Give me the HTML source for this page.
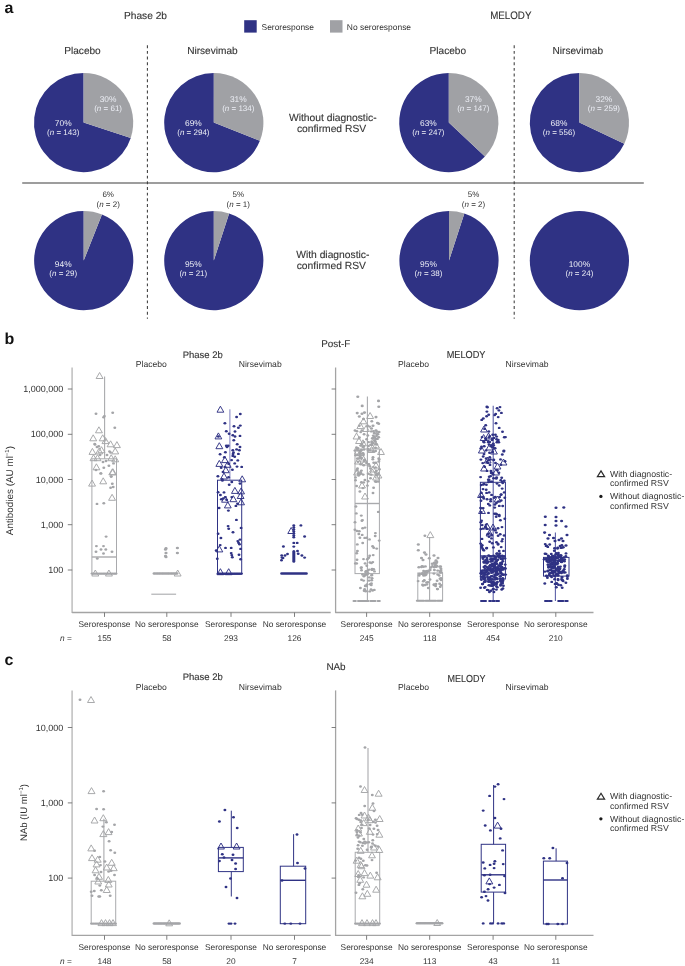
<!DOCTYPE html>
<html><head><meta charset="utf-8"><style>
html,body{margin:0;padding:0;background:#fff;}
svg{display:block;will-change:transform;text-rendering:geometricPrecision;font-family:"Liberation Sans",sans-serif;}
text.t{stroke:#333333;stroke-width:0.12px;paint-order:stroke;}
</style></head><body>
<svg width="685" height="966" viewBox="0 0 685 966">
<rect width="685" height="966" fill="#fff"/>
<text x="4.40" y="12.60" font-size="16" text-anchor="start" fill="#111" font-weight="bold">a</text>
<text class="t" x="145.50" y="19.30" font-size="10.2" text-anchor="middle" fill="#333333" >Phase 2b</text>
<text class="t" x="510.80" y="19.10" font-size="10.9" text-anchor="middle" fill="#333333" textLength="41.3" lengthAdjust="spacingAndGlyphs">MELODY</text>
<rect x="244.2" y="20.2" width="12.5" height="12.4" fill="#2f3284"/>
<text x="261.50" y="29.60" font-size="8.45" text-anchor="start" fill="#333333" >Seroresponse</text>
<rect x="330.0" y="20.2" width="12.5" height="12.4" fill="#a0a1a5"/>
<text x="346.80" y="29.60" font-size="8.45" text-anchor="start" fill="#333333" >No seroresponse</text>
<text class="t" x="82.50" y="53.60" font-size="10.1" text-anchor="middle" fill="#333333" >Placebo</text>
<text class="t" x="212.40" y="53.60" font-size="10.1" text-anchor="middle" fill="#333333" >Nirsevimab</text>
<text class="t" x="447.80" y="53.60" font-size="10.1" text-anchor="middle" fill="#333333" >Placebo</text>
<text class="t" x="577.80" y="53.60" font-size="10.1" text-anchor="middle" fill="#333333" >Nirsevimab</text>
<line x1="22.2" y1="183" x2="643.8" y2="183" stroke="#7d7d7d" stroke-width="1.6"/>
<line x1="147.4" y1="45.25" x2="147.4" y2="318.7" stroke="#3c3c3c" stroke-width="1.05" stroke-dasharray="2.9 2.77"/>
<line x1="514.2" y1="45.25" x2="514.2" y2="318.7" stroke="#3c3c3c" stroke-width="1.05" stroke-dasharray="2.9 2.77"/>
<text class="t" x="332.80" y="121.00" font-size="10.3" text-anchor="middle" fill="#333333" >Without diagnostic-</text>
<text class="t" x="331.50" y="131.70" font-size="10.3" text-anchor="middle" fill="#333333" >confirmed RSV</text>
<text class="t" x="332.80" y="258.40" font-size="10.3" text-anchor="middle" fill="#333333" >With diagnostic-</text>
<text class="t" x="331.30" y="269.40" font-size="10.3" text-anchor="middle" fill="#333333" >confirmed RSV</text>
<path d="M83.6,122.6 L130.77,137.93 A49.6,49.6 0 1 1 83.60,73.00 Z" fill="#2f3284"/>
<path d="M83.6,122.6 L83.60,73.00 A49.6,49.6 0 0 1 130.77,137.93 Z" fill="#a0a1a5"/>
<text x="108.10" y="102.10" font-size="8.4" text-anchor="middle" fill="#eceef5" >30%</text>
<text x="108.10" y="111.10" font-size="8.0" text-anchor="middle" fill="#eceef5">(<tspan font-style="italic">n</tspan> = 61)</text>
<text x="63.20" y="125.70" font-size="8.4" text-anchor="middle" fill="#eceef5" >70%</text>
<text x="63.20" y="135.00" font-size="8.0" text-anchor="middle" fill="#eceef5">(<tspan font-style="italic">n</tspan> = 143)</text>
<path d="M213.8,122.6 L259.92,140.86 A49.6,49.6 0 1 1 213.80,73.00 Z" fill="#2f3284"/>
<path d="M213.8,122.6 L213.80,73.00 A49.6,49.6 0 0 1 259.92,140.86 Z" fill="#a0a1a5"/>
<text x="238.30" y="102.10" font-size="8.4" text-anchor="middle" fill="#eceef5" >31%</text>
<text x="238.30" y="111.10" font-size="8.0" text-anchor="middle" fill="#eceef5">(<tspan font-style="italic">n</tspan> = 134)</text>
<text x="193.40" y="125.70" font-size="8.4" text-anchor="middle" fill="#eceef5" >69%</text>
<text x="193.40" y="135.00" font-size="8.0" text-anchor="middle" fill="#eceef5">(<tspan font-style="italic">n</tspan> = 294)</text>
<path d="M448.8,122.6 L484.96,156.55 A49.6,49.6 0 1 1 448.80,73.00 Z" fill="#2f3284"/>
<path d="M448.8,122.6 L448.80,73.00 A49.6,49.6 0 0 1 484.96,156.55 Z" fill="#a0a1a5"/>
<text x="473.30" y="102.10" font-size="8.4" text-anchor="middle" fill="#eceef5" >37%</text>
<text x="473.30" y="111.10" font-size="8.0" text-anchor="middle" fill="#eceef5">(<tspan font-style="italic">n</tspan> = 147)</text>
<text x="428.40" y="125.70" font-size="8.4" text-anchor="middle" fill="#eceef5" >63%</text>
<text x="428.40" y="135.00" font-size="8.0" text-anchor="middle" fill="#eceef5">(<tspan font-style="italic">n</tspan> = 247)</text>
<path d="M579.4,122.6 L624.28,143.72 A49.6,49.6 0 1 1 579.40,73.00 Z" fill="#2f3284"/>
<path d="M579.4,122.6 L579.40,73.00 A49.6,49.6 0 0 1 624.28,143.72 Z" fill="#a0a1a5"/>
<text x="603.90" y="102.10" font-size="8.4" text-anchor="middle" fill="#eceef5" >32%</text>
<text x="603.90" y="111.10" font-size="8.0" text-anchor="middle" fill="#eceef5">(<tspan font-style="italic">n</tspan> = 259)</text>
<text x="559.00" y="125.70" font-size="8.4" text-anchor="middle" fill="#eceef5" >68%</text>
<text x="559.00" y="135.00" font-size="8.0" text-anchor="middle" fill="#eceef5">(<tspan font-style="italic">n</tspan> = 556)</text>
<path d="M83.7,260.6 L101.96,214.48 A49.6,49.6 0 1 1 83.70,211.00 Z" fill="#2f3284"/>
<path d="M83.7,260.6 L83.70,211.00 A49.6,49.6 0 0 1 101.96,214.48 Z" fill="#a0a1a5"/>
<text x="108.20" y="197.00" font-size="8.0" text-anchor="middle" fill="#333333" >6%</text>
<text x="108.20" y="206.60" font-size="8.0" text-anchor="middle" fill="#333333">(<tspan font-style="italic">n</tspan> = 2)</text>
<text x="63.20" y="266.90" font-size="8.4" text-anchor="middle" fill="#eceef5" >94%</text>
<text x="63.20" y="276.00" font-size="8.0" text-anchor="middle" fill="#eceef5">(<tspan font-style="italic">n</tspan> = 29)</text>
<path d="M213.8,260.6 L229.13,213.43 A49.6,49.6 0 1 1 213.80,211.00 Z" fill="#2f3284"/>
<path d="M213.8,260.6 L213.80,211.00 A49.6,49.6 0 0 1 229.13,213.43 Z" fill="#a0a1a5"/>
<text x="238.30" y="197.00" font-size="8.0" text-anchor="middle" fill="#333333" >5%</text>
<text x="238.30" y="206.60" font-size="8.0" text-anchor="middle" fill="#333333">(<tspan font-style="italic">n</tspan> = 1)</text>
<text x="193.30" y="266.90" font-size="8.4" text-anchor="middle" fill="#eceef5" >95%</text>
<text x="193.30" y="276.00" font-size="8.0" text-anchor="middle" fill="#eceef5">(<tspan font-style="italic">n</tspan> = 21)</text>
<path d="M449.0,260.6 L464.33,213.43 A49.6,49.6 0 1 1 449.00,211.00 Z" fill="#2f3284"/>
<path d="M449.0,260.6 L449.00,211.00 A49.6,49.6 0 0 1 464.33,213.43 Z" fill="#a0a1a5"/>
<text x="473.50" y="197.00" font-size="8.0" text-anchor="middle" fill="#333333" >5%</text>
<text x="473.50" y="206.60" font-size="8.0" text-anchor="middle" fill="#333333">(<tspan font-style="italic">n</tspan> = 2)</text>
<text x="428.50" y="266.90" font-size="8.4" text-anchor="middle" fill="#eceef5" >95%</text>
<text x="428.50" y="276.00" font-size="8.0" text-anchor="middle" fill="#eceef5">(<tspan font-style="italic">n</tspan> = 38)</text>
<circle cx="579.4" cy="260.6" r="49.6" fill="#2f3284"/>
<text x="579.40" y="266.90" font-size="8.4" text-anchor="middle" fill="#eceef5" >100%</text>
<text x="579.40" y="276.00" font-size="8.0" text-anchor="middle" fill="#eceef5">(<tspan font-style="italic">n</tspan> = 24)</text>
<text x="4.40" y="343.70" font-size="16" text-anchor="start" fill="#111" font-weight="bold">b</text>
<text class="t" x="335.80" y="347.10" font-size="9.9" text-anchor="middle" fill="#333333" >Post-F</text>
<text class="t" x="202.80" y="358.30" font-size="9.5" text-anchor="middle" fill="#333333" >Phase 2b</text>
<text class="t" x="466.10" y="357.80" font-size="10.2" text-anchor="middle" fill="#333333" textLength="38.8" lengthAdjust="spacingAndGlyphs">MELODY</text>
<text x="151.30" y="367.40" font-size="8.6" text-anchor="middle" fill="#333333" >Placebo</text>
<text x="260.20" y="367.40" font-size="8.6" text-anchor="middle" fill="#333333" >Nirsevimab</text>
<text x="413.60" y="367.40" font-size="8.6" text-anchor="middle" fill="#333333" >Placebo</text>
<text x="527.10" y="367.40" font-size="8.6" text-anchor="middle" fill="#333333" >Nirsevimab</text>
<line x1="72.10" y1="367.50" x2="72.10" y2="613.10" stroke="#c6c6c6" stroke-width="1.7" />
<line x1="72.10" y1="612.50" x2="330.70" y2="612.50" stroke="#a4a4a4" stroke-width="1.3" />
<line x1="335.60" y1="367.50" x2="335.60" y2="613.10" stroke="#a4a4a4" stroke-width="1.3" />
<line x1="335.60" y1="612.50" x2="593.50" y2="612.50" stroke="#a4a4a4" stroke-width="1.3" />
<line x1="67.80" y1="389.00" x2="72.20" y2="389.00" stroke="#707070" stroke-width="0.9" />
<line x1="331.60" y1="389.00" x2="335.80" y2="389.00" stroke="#707070" stroke-width="0.9" />
<text x="63.30" y="392.10" font-size="9.0" text-anchor="end" fill="#333333" >1,000,000</text>
<line x1="67.80" y1="434.30" x2="72.20" y2="434.30" stroke="#707070" stroke-width="0.9" />
<line x1="331.60" y1="434.30" x2="335.80" y2="434.30" stroke="#707070" stroke-width="0.9" />
<text x="63.30" y="437.40" font-size="9.0" text-anchor="end" fill="#333333" >100,000</text>
<line x1="67.80" y1="479.50" x2="72.20" y2="479.50" stroke="#707070" stroke-width="0.9" />
<line x1="331.60" y1="479.50" x2="335.80" y2="479.50" stroke="#707070" stroke-width="0.9" />
<text x="63.30" y="482.60" font-size="9.0" text-anchor="end" fill="#333333" >10,000</text>
<line x1="67.80" y1="524.70" x2="72.20" y2="524.70" stroke="#707070" stroke-width="0.9" />
<line x1="331.60" y1="524.70" x2="335.80" y2="524.70" stroke="#707070" stroke-width="0.9" />
<text x="63.30" y="527.80" font-size="9.0" text-anchor="end" fill="#333333" >1,000</text>
<line x1="67.80" y1="570.00" x2="72.20" y2="570.00" stroke="#707070" stroke-width="0.9" />
<line x1="331.60" y1="570.00" x2="335.80" y2="570.00" stroke="#707070" stroke-width="0.9" />
<text x="63.30" y="573.10" font-size="9.0" text-anchor="end" fill="#333333" >100</text>
<line x1="104.50" y1="612.50" x2="104.50" y2="616.90" stroke="#707070" stroke-width="0.9" />
<line x1="166.80" y1="612.50" x2="166.80" y2="616.90" stroke="#707070" stroke-width="0.9" />
<line x1="231.00" y1="612.50" x2="231.00" y2="616.90" stroke="#707070" stroke-width="0.9" />
<line x1="294.50" y1="612.50" x2="294.50" y2="616.90" stroke="#707070" stroke-width="0.9" />
<line x1="366.60" y1="612.50" x2="366.60" y2="616.90" stroke="#707070" stroke-width="0.9" />
<line x1="429.70" y1="612.50" x2="429.70" y2="616.90" stroke="#707070" stroke-width="0.9" />
<line x1="493.10" y1="612.50" x2="493.10" y2="616.90" stroke="#707070" stroke-width="0.9" />
<line x1="555.80" y1="612.50" x2="555.80" y2="616.90" stroke="#707070" stroke-width="0.9" />
<text x="104.50" y="627.10" font-size="8.35" text-anchor="middle" fill="#333333" >Seroresponse</text>
<text x="166.80" y="627.10" font-size="8.35" text-anchor="middle" fill="#333333" >No seroresponse</text>
<text x="231.00" y="627.10" font-size="8.35" text-anchor="middle" fill="#333333" >Seroresponse</text>
<text x="294.50" y="627.10" font-size="8.35" text-anchor="middle" fill="#333333" >No seroresponse</text>
<text x="366.60" y="627.10" font-size="8.35" text-anchor="middle" fill="#333333" >Seroresponse</text>
<text x="429.70" y="627.10" font-size="8.35" text-anchor="middle" fill="#333333" >No seroresponse</text>
<text x="493.10" y="627.10" font-size="8.35" text-anchor="middle" fill="#333333" >Seroresponse</text>
<text x="555.80" y="627.10" font-size="8.35" text-anchor="middle" fill="#333333" >No seroresponse</text>
<text x="60.1" y="640.80" font-size="8.3" fill="#333333"><tspan font-style="italic">n</tspan> =</text>
<text x="104.50" y="640.60" font-size="8.35" text-anchor="middle" fill="#333333" >155</text>
<text x="166.80" y="640.60" font-size="8.35" text-anchor="middle" fill="#333333" >58</text>
<text x="231.00" y="640.60" font-size="8.35" text-anchor="middle" fill="#333333" >293</text>
<text x="294.50" y="640.60" font-size="8.35" text-anchor="middle" fill="#333333" >126</text>
<text x="366.60" y="640.60" font-size="8.35" text-anchor="middle" fill="#333333" >245</text>
<text x="429.70" y="640.60" font-size="8.35" text-anchor="middle" fill="#333333" >118</text>
<text x="493.10" y="640.60" font-size="8.35" text-anchor="middle" fill="#333333" >454</text>
<text x="555.80" y="640.60" font-size="8.35" text-anchor="middle" fill="#333333" >210</text>
<text transform="translate(12.9,535.2) rotate(-90)" font-size="9.9" fill="#333333">Antibodies (AU ml<tspan dy="-4" font-size="6">−1</tspan><tspan dy="4">)</tspan></text>
<path d="M601.0,470.9 L604.6,476.7 L597.4,476.7 Z" fill="none" stroke="#2a2a2a" stroke-width="1.2" stroke-linejoin="miter"/>
<text x="609.90" y="477.00" font-size="8.75" text-anchor="start" fill="#333333" >With diagnostic-</text>
<text x="609.90" y="486.30" font-size="8.75" text-anchor="start" fill="#333333" >confirmed RSV</text>
<circle cx="600.9" cy="496.4" r="1.65" fill="#1a1a1a"/>
<text x="609.90" y="499.20" font-size="8.75" text-anchor="start" fill="#333333" >Without diagnostic-</text>
<text x="609.90" y="508.50" font-size="8.75" text-anchor="start" fill="#333333" >confirmed RSV</text>
<rect x="91.90" y="458.80" width="24.60" height="115.00" fill="none" stroke="#a9aaad" stroke-width="1.0"/>
<line x1="91.90" y1="557.00" x2="116.50" y2="557.00" stroke="#a9aaad" stroke-width="1.4" />
<line x1="104.60" y1="376.50" x2="104.60" y2="458.80" stroke="#a9aaad" stroke-width="1.1" />
<path d="M99.6,372.5 L103.0,378.5 L96.1,378.5 Z" fill="none" stroke="#a4a5a8" stroke-width="0.95" stroke-linejoin="miter"/>
<path d="M98.9,426.8 L102.4,432.8 L95.5,432.8 Z" fill="none" stroke="#a4a5a8" stroke-width="0.95" stroke-linejoin="miter"/>
<path d="M93.2,434.8 L96.7,440.8 L89.8,440.8 Z" fill="none" stroke="#a4a5a8" stroke-width="0.95" stroke-linejoin="miter"/>
<path d="M102.7,434.8 L106.2,440.8 L99.2,440.8 Z" fill="none" stroke="#a4a5a8" stroke-width="0.95" stroke-linejoin="miter"/>
<path d="M105.5,437.6 L109.0,443.6 L102.0,443.6 Z" fill="none" stroke="#a4a5a8" stroke-width="0.95" stroke-linejoin="miter"/>
<path d="M110.6,440.8 L114.0,446.8 L107.1,446.8 Z" fill="none" stroke="#a4a5a8" stroke-width="0.95" stroke-linejoin="miter"/>
<path d="M116.9,441.6 L120.4,447.6 L113.5,447.6 Z" fill="none" stroke="#a4a5a8" stroke-width="0.95" stroke-linejoin="miter"/>
<path d="M92.4,448.4 L95.9,454.4 L89.0,454.4 Z" fill="none" stroke="#a4a5a8" stroke-width="0.95" stroke-linejoin="miter"/>
<path d="M99.2,447.9 L102.7,453.9 L95.8,453.9 Z" fill="none" stroke="#a4a5a8" stroke-width="0.95" stroke-linejoin="miter"/>
<path d="M101.5,446.7 L105.0,452.7 L98.0,452.7 Z" fill="none" stroke="#a4a5a8" stroke-width="0.95" stroke-linejoin="miter"/>
<path d="M115.2,447.9 L118.7,453.9 L111.8,453.9 Z" fill="none" stroke="#a4a5a8" stroke-width="0.95" stroke-linejoin="miter"/>
<path d="M93.5,454.7 L97.0,460.7 L90.0,460.7 Z" fill="none" stroke="#a4a5a8" stroke-width="0.95" stroke-linejoin="miter"/>
<path d="M97.5,454.7 L101.0,460.7 L94.0,460.7 Z" fill="none" stroke="#a4a5a8" stroke-width="0.95" stroke-linejoin="miter"/>
<path d="M111.2,454.7 L114.7,460.7 L107.8,460.7 Z" fill="none" stroke="#a4a5a8" stroke-width="0.95" stroke-linejoin="miter"/>
<path d="M115.2,455.8 L118.7,461.8 L111.8,461.8 Z" fill="none" stroke="#a4a5a8" stroke-width="0.95" stroke-linejoin="miter"/>
<path d="M96.4,463.8 L99.9,469.8 L93.0,469.8 Z" fill="none" stroke="#a4a5a8" stroke-width="0.95" stroke-linejoin="miter"/>
<path d="M112.3,468.9 L115.8,474.9 L108.8,474.9 Z" fill="none" stroke="#a4a5a8" stroke-width="0.95" stroke-linejoin="miter"/>
<path d="M112.9,468.7 L116.4,474.7 L109.5,474.7 Z" fill="none" stroke="#a4a5a8" stroke-width="0.95" stroke-linejoin="miter"/>
<path d="M103.2,477.8 L106.7,483.8 L99.8,483.8 Z" fill="none" stroke="#a4a5a8" stroke-width="0.95" stroke-linejoin="miter"/>
<path d="M92.1,480.1 L95.5,486.1 L88.6,486.1 Z" fill="none" stroke="#a4a5a8" stroke-width="0.95" stroke-linejoin="miter"/>
<path d="M112.1,494.3 L115.5,500.3 L108.6,500.3 Z" fill="none" stroke="#a4a5a8" stroke-width="0.95" stroke-linejoin="miter"/>
<path d="M95.3,570.0 L98.8,576.0 L91.8,576.0 Z" fill="none" stroke="#a4a5a8" stroke-width="0.95" stroke-linejoin="miter"/>
<path d="M108.9,570.0 L112.4,576.0 L105.5,576.0 Z" fill="none" stroke="#a4a5a8" stroke-width="0.95" stroke-linejoin="miter"/>
<ellipse cx="96.0" cy="413.8" rx="1.45" ry="1.20" fill="#a4a5a8"/>
<ellipse cx="112.7" cy="412.7" rx="1.45" ry="1.20" fill="#a4a5a8"/>
<ellipse cx="104.4" cy="416.1" rx="1.45" ry="1.20" fill="#a4a5a8"/>
<ellipse cx="103.6" cy="417.2" rx="1.45" ry="1.20" fill="#a4a5a8"/>
<ellipse cx="114.8" cy="427.7" rx="1.45" ry="1.20" fill="#a4a5a8"/>
<ellipse cx="94.7" cy="444.0" rx="1.45" ry="1.20" fill="#a4a5a8"/>
<ellipse cx="98.7" cy="446.3" rx="1.45" ry="1.20" fill="#a4a5a8"/>
<ellipse cx="109.5" cy="451.4" rx="1.45" ry="1.20" fill="#a4a5a8"/>
<ellipse cx="110.5" cy="452.5" rx="1.45" ry="1.20" fill="#a4a5a8"/>
<ellipse cx="106.0" cy="461.0" rx="1.45" ry="1.20" fill="#a4a5a8"/>
<ellipse cx="108.9" cy="465.7" rx="1.45" ry="1.20" fill="#a4a5a8"/>
<ellipse cx="113.5" cy="463.4" rx="1.45" ry="1.20" fill="#a4a5a8"/>
<ellipse cx="103.8" cy="467.7" rx="1.45" ry="1.20" fill="#a4a5a8"/>
<ellipse cx="101.0" cy="473.4" rx="1.45" ry="1.20" fill="#a4a5a8"/>
<ellipse cx="111.2" cy="476.5" rx="1.45" ry="1.20" fill="#a4a5a8"/>
<ellipse cx="100.7" cy="473.4" rx="1.45" ry="1.20" fill="#a4a5a8"/>
<ellipse cx="111.2" cy="476.6" rx="1.45" ry="1.20" fill="#a4a5a8"/>
<ellipse cx="112.3" cy="483.7" rx="1.45" ry="1.20" fill="#a4a5a8"/>
<ellipse cx="110.6" cy="487.7" rx="1.45" ry="1.20" fill="#a4a5a8"/>
<ellipse cx="113.2" cy="487.0" rx="1.45" ry="1.20" fill="#a4a5a8"/>
<ellipse cx="97.0" cy="503.9" rx="1.45" ry="1.20" fill="#a4a5a8"/>
<ellipse cx="103.8" cy="503.3" rx="1.45" ry="1.20" fill="#a4a5a8"/>
<ellipse cx="106.1" cy="536.6" rx="1.45" ry="1.20" fill="#a4a5a8"/>
<ellipse cx="96.4" cy="546.1" rx="1.45" ry="1.20" fill="#a4a5a8"/>
<ellipse cx="103.5" cy="546.1" rx="1.45" ry="1.20" fill="#a4a5a8"/>
<ellipse cx="101.0" cy="549.5" rx="1.45" ry="1.20" fill="#a4a5a8"/>
<ellipse cx="105.8" cy="549.5" rx="1.45" ry="1.20" fill="#a4a5a8"/>
<ellipse cx="96.0" cy="551.8" rx="1.45" ry="1.20" fill="#a4a5a8"/>
<ellipse cx="112.0" cy="551.8" rx="1.45" ry="1.20" fill="#a4a5a8"/>
<ellipse cx="103.5" cy="553.5" rx="1.45" ry="1.20" fill="#a4a5a8"/>
<ellipse cx="97.3" cy="558.5" rx="1.45" ry="1.20" fill="#a4a5a8"/>
<ellipse cx="95.0" cy="444.5" rx="1.45" ry="1.20" fill="#a4a5a8"/>
<ellipse cx="97.0" cy="447.0" rx="1.45" ry="1.20" fill="#a4a5a8"/>
<ellipse cx="100.0" cy="455.0" rx="1.45" ry="1.20" fill="#a4a5a8"/>
<ellipse cx="107.0" cy="455.0" rx="1.45" ry="1.20" fill="#a4a5a8"/>
<ellipse cx="103.0" cy="462.0" rx="1.45" ry="1.20" fill="#a4a5a8"/>
<ellipse cx="96.0" cy="470.0" rx="1.45" ry="1.20" fill="#a4a5a8"/>
<ellipse cx="92.0" cy="573.6" rx="1.45" ry="1.20" fill="#a4a5a8"/>
<ellipse cx="93.8" cy="573.6" rx="1.45" ry="1.20" fill="#a4a5a8"/>
<ellipse cx="95.7" cy="573.6" rx="1.45" ry="1.20" fill="#a4a5a8"/>
<ellipse cx="97.5" cy="573.6" rx="1.45" ry="1.20" fill="#a4a5a8"/>
<ellipse cx="99.4" cy="573.6" rx="1.45" ry="1.20" fill="#a4a5a8"/>
<ellipse cx="101.2" cy="573.6" rx="1.45" ry="1.20" fill="#a4a5a8"/>
<ellipse cx="103.1" cy="573.6" rx="1.45" ry="1.20" fill="#a4a5a8"/>
<ellipse cx="104.9" cy="573.6" rx="1.45" ry="1.20" fill="#a4a5a8"/>
<ellipse cx="106.8" cy="573.6" rx="1.45" ry="1.20" fill="#a4a5a8"/>
<ellipse cx="108.6" cy="573.6" rx="1.45" ry="1.20" fill="#a4a5a8"/>
<ellipse cx="110.5" cy="573.6" rx="1.45" ry="1.20" fill="#a4a5a8"/>
<ellipse cx="112.3" cy="573.6" rx="1.45" ry="1.20" fill="#a4a5a8"/>
<ellipse cx="114.2" cy="573.6" rx="1.45" ry="1.20" fill="#a4a5a8"/>
<ellipse cx="116.0" cy="573.6" rx="1.45" ry="1.20" fill="#a4a5a8"/>
<ellipse cx="154.0" cy="573.5" rx="1.45" ry="1.20" fill="#a4a5a8"/>
<ellipse cx="155.5" cy="573.5" rx="1.45" ry="1.20" fill="#a4a5a8"/>
<ellipse cx="157.1" cy="573.5" rx="1.45" ry="1.20" fill="#a4a5a8"/>
<ellipse cx="158.6" cy="573.5" rx="1.45" ry="1.20" fill="#a4a5a8"/>
<ellipse cx="160.1" cy="573.5" rx="1.45" ry="1.20" fill="#a4a5a8"/>
<ellipse cx="161.7" cy="573.5" rx="1.45" ry="1.20" fill="#a4a5a8"/>
<ellipse cx="163.2" cy="573.5" rx="1.45" ry="1.20" fill="#a4a5a8"/>
<ellipse cx="164.7" cy="573.5" rx="1.45" ry="1.20" fill="#a4a5a8"/>
<ellipse cx="166.3" cy="573.5" rx="1.45" ry="1.20" fill="#a4a5a8"/>
<ellipse cx="167.8" cy="573.5" rx="1.45" ry="1.20" fill="#a4a5a8"/>
<ellipse cx="169.3" cy="573.5" rx="1.45" ry="1.20" fill="#a4a5a8"/>
<ellipse cx="170.9" cy="573.5" rx="1.45" ry="1.20" fill="#a4a5a8"/>
<ellipse cx="172.4" cy="573.5" rx="1.45" ry="1.20" fill="#a4a5a8"/>
<ellipse cx="173.9" cy="573.5" rx="1.45" ry="1.20" fill="#a4a5a8"/>
<ellipse cx="175.5" cy="573.5" rx="1.45" ry="1.20" fill="#a4a5a8"/>
<ellipse cx="177.0" cy="573.5" rx="1.45" ry="1.20" fill="#a4a5a8"/>
<line x1="151.30" y1="594.20" x2="176.10" y2="594.20" stroke="#a9aaad" stroke-width="1.1" />
<ellipse cx="166.0" cy="548.4" rx="1.62" ry="1.34" fill="#a4a5a8"/>
<ellipse cx="166.0" cy="553.0" rx="1.62" ry="1.34" fill="#a4a5a8"/>
<ellipse cx="166.0" cy="557.0" rx="1.62" ry="1.34" fill="#a4a5a8"/>
<ellipse cx="177.4" cy="548.0" rx="1.62" ry="1.34" fill="#a4a5a8"/>
<ellipse cx="177.4" cy="553.0" rx="1.62" ry="1.34" fill="#a4a5a8"/>
<ellipse cx="165.5" cy="549.5" rx="1.62" ry="1.34" fill="#a4a5a8"/>
<ellipse cx="165.5" cy="556.0" rx="1.62" ry="1.34" fill="#a4a5a8"/>
<path d="M177.7,570.0 L181.1,576.0 L174.2,576.0 Z" fill="none" stroke="#a4a5a8" stroke-width="0.95" stroke-linejoin="miter"/>
<rect x="217.50" y="480.20" width="24.20" height="93.60" fill="none" stroke="#2f3284" stroke-width="1.0"/>
<line x1="229.90" y1="409.30" x2="229.90" y2="480.20" stroke="#7f81bf" stroke-width="1.0" />
<path d="M220.4,406.2 L223.8,412.2 L217.0,412.2 Z" fill="none" stroke="#2f3284" stroke-width="0.95" stroke-linejoin="miter"/>
<path d="M218.4,432.9 L221.8,438.9 L215.0,438.9 Z" fill="none" stroke="#2f3284" stroke-width="0.95" stroke-linejoin="miter"/>
<path d="M219.3,442.7 L222.8,448.7 L215.9,448.7 Z" fill="none" stroke="#2f3284" stroke-width="0.95" stroke-linejoin="miter"/>
<path d="M224.9,456.6 L228.3,462.6 L221.5,462.6 Z" fill="none" stroke="#2f3284" stroke-width="0.95" stroke-linejoin="miter"/>
<path d="M219.3,460.4 L222.8,466.4 L215.9,466.4 Z" fill="none" stroke="#2f3284" stroke-width="0.95" stroke-linejoin="miter"/>
<path d="M227.7,461.3 L231.1,467.3 L224.2,467.3 Z" fill="none" stroke="#2f3284" stroke-width="0.95" stroke-linejoin="miter"/>
<path d="M225.8,466.7 L229.2,472.7 L222.4,472.7 Z" fill="none" stroke="#2f3284" stroke-width="0.95" stroke-linejoin="miter"/>
<path d="M224.0,473.0 L227.4,479.0 L220.6,479.0 Z" fill="none" stroke="#2f3284" stroke-width="0.95" stroke-linejoin="miter"/>
<path d="M242.2,475.8 L245.6,481.8 L238.8,481.8 Z" fill="none" stroke="#2f3284" stroke-width="0.95" stroke-linejoin="miter"/>
<path d="M234.9,487.4 L238.3,493.4 L231.5,493.4 Z" fill="none" stroke="#2f3284" stroke-width="0.95" stroke-linejoin="miter"/>
<path d="M241.1,487.9 L244.5,493.9 L237.7,493.9 Z" fill="none" stroke="#2f3284" stroke-width="0.95" stroke-linejoin="miter"/>
<path d="M240.6,492.5 L244.0,498.5 L237.2,498.5 Z" fill="none" stroke="#2f3284" stroke-width="0.95" stroke-linejoin="miter"/>
<path d="M233.3,495.7 L236.8,501.7 L229.9,501.7 Z" fill="none" stroke="#2f3284" stroke-width="0.95" stroke-linejoin="miter"/>
<path d="M225.0,496.2 L228.4,502.2 L221.6,502.2 Z" fill="none" stroke="#2f3284" stroke-width="0.95" stroke-linejoin="miter"/>
<path d="M241.1,498.8 L244.5,504.8 L237.7,504.8 Z" fill="none" stroke="#2f3284" stroke-width="0.95" stroke-linejoin="miter"/>
<path d="M227.8,501.9 L231.2,507.9 L224.4,507.9 Z" fill="none" stroke="#2f3284" stroke-width="0.95" stroke-linejoin="miter"/>
<path d="M219.3,545.9 L222.8,551.9 L215.9,551.9 Z" fill="none" stroke="#2f3284" stroke-width="0.95" stroke-linejoin="miter"/>
<path d="M220.4,568.7 L223.8,574.7 L217.0,574.7 Z" fill="none" stroke="#2f3284" stroke-width="0.95" stroke-linejoin="miter"/>
<path d="M228.7,568.7 L232.1,574.7 L225.2,574.7 Z" fill="none" stroke="#2f3284" stroke-width="0.95" stroke-linejoin="miter"/>
<ellipse cx="240.3" cy="414.0" rx="1.45" ry="1.20" fill="#2f3284"/>
<ellipse cx="236.6" cy="417.0" rx="1.45" ry="1.20" fill="#2f3284"/>
<ellipse cx="224.9" cy="423.3" rx="1.45" ry="1.20" fill="#2f3284"/>
<ellipse cx="234.0" cy="426.3" rx="1.45" ry="1.20" fill="#2f3284"/>
<ellipse cx="240.3" cy="425.6" rx="1.45" ry="1.20" fill="#2f3284"/>
<ellipse cx="238.4" cy="427.8" rx="1.45" ry="1.20" fill="#2f3284"/>
<ellipse cx="226.3" cy="431.2" rx="1.45" ry="1.20" fill="#2f3284"/>
<ellipse cx="235.0" cy="431.5" rx="1.45" ry="1.20" fill="#2f3284"/>
<ellipse cx="229.1" cy="433.7" rx="1.45" ry="1.20" fill="#2f3284"/>
<ellipse cx="232.8" cy="435.2" rx="1.45" ry="1.20" fill="#2f3284"/>
<ellipse cx="235.0" cy="436.5" rx="1.45" ry="1.20" fill="#2f3284"/>
<ellipse cx="240.0" cy="435.9" rx="1.45" ry="1.20" fill="#2f3284"/>
<ellipse cx="233.8" cy="440.3" rx="1.45" ry="1.20" fill="#2f3284"/>
<ellipse cx="218.4" cy="436.5" rx="1.45" ry="1.20" fill="#2f3284"/>
<ellipse cx="237.2" cy="444.3" rx="1.45" ry="1.20" fill="#2f3284"/>
<ellipse cx="240.0" cy="447.0" rx="1.45" ry="1.20" fill="#2f3284"/>
<ellipse cx="226.3" cy="445.7" rx="1.45" ry="1.20" fill="#2f3284"/>
<ellipse cx="228.2" cy="445.7" rx="1.45" ry="1.20" fill="#2f3284"/>
<ellipse cx="232.8" cy="450.3" rx="1.45" ry="1.20" fill="#2f3284"/>
<ellipse cx="236.6" cy="449.4" rx="1.45" ry="1.20" fill="#2f3284"/>
<ellipse cx="239.4" cy="450.3" rx="1.45" ry="1.20" fill="#2f3284"/>
<ellipse cx="225.4" cy="452.2" rx="1.45" ry="1.20" fill="#2f3284"/>
<ellipse cx="220.1" cy="454.2" rx="1.45" ry="1.20" fill="#2f3284"/>
<ellipse cx="232.8" cy="455.9" rx="1.45" ry="1.20" fill="#2f3284"/>
<ellipse cx="234.7" cy="456.8" rx="1.45" ry="1.20" fill="#2f3284"/>
<ellipse cx="238.4" cy="453.9" rx="1.45" ry="1.20" fill="#2f3284"/>
<ellipse cx="224.4" cy="457.3" rx="1.45" ry="1.20" fill="#2f3284"/>
<ellipse cx="231.6" cy="460.1" rx="1.45" ry="1.20" fill="#2f3284"/>
<ellipse cx="237.8" cy="460.4" rx="1.45" ry="1.20" fill="#2f3284"/>
<ellipse cx="228.6" cy="463.8" rx="1.45" ry="1.20" fill="#2f3284"/>
<ellipse cx="234.7" cy="463.4" rx="1.45" ry="1.20" fill="#2f3284"/>
<ellipse cx="237.0" cy="466.6" rx="1.45" ry="1.20" fill="#2f3284"/>
<ellipse cx="241.7" cy="466.9" rx="1.45" ry="1.20" fill="#2f3284"/>
<ellipse cx="221.2" cy="467.8" rx="1.45" ry="1.20" fill="#2f3284"/>
<ellipse cx="224.9" cy="467.1" rx="1.45" ry="1.20" fill="#2f3284"/>
<ellipse cx="232.4" cy="469.7" rx="1.45" ry="1.20" fill="#2f3284"/>
<ellipse cx="223.0" cy="471.9" rx="1.45" ry="1.20" fill="#2f3284"/>
<ellipse cx="217.9" cy="476.2" rx="1.45" ry="1.20" fill="#2f3284"/>
<ellipse cx="228.6" cy="477.2" rx="1.45" ry="1.20" fill="#2f3284"/>
<ellipse cx="222.1" cy="479.2" rx="1.45" ry="1.20" fill="#2f3284"/>
<ellipse cx="233.5" cy="452.5" rx="1.45" ry="1.20" fill="#2f3284"/>
<ellipse cx="233.0" cy="454.0" rx="1.45" ry="1.20" fill="#2f3284"/>
<ellipse cx="227.0" cy="447.0" rx="1.45" ry="1.20" fill="#2f3284"/>
<ellipse cx="222.4" cy="480.5" rx="1.45" ry="1.20" fill="#2f3284"/>
<ellipse cx="231.8" cy="482.0" rx="1.45" ry="1.20" fill="#2f3284"/>
<ellipse cx="229.2" cy="484.7" rx="1.45" ry="1.20" fill="#2f3284"/>
<ellipse cx="240.0" cy="483.6" rx="1.45" ry="1.20" fill="#2f3284"/>
<ellipse cx="218.1" cy="492.2" rx="1.45" ry="1.20" fill="#2f3284"/>
<ellipse cx="224.0" cy="492.4" rx="1.45" ry="1.20" fill="#2f3284"/>
<ellipse cx="220.4" cy="495.0" rx="1.45" ry="1.20" fill="#2f3284"/>
<ellipse cx="221.4" cy="499.2" rx="1.45" ry="1.20" fill="#2f3284"/>
<ellipse cx="223.3" cy="498.4" rx="1.45" ry="1.20" fill="#2f3284"/>
<ellipse cx="225.5" cy="497.1" rx="1.45" ry="1.20" fill="#2f3284"/>
<ellipse cx="226.6" cy="499.7" rx="1.45" ry="1.20" fill="#2f3284"/>
<ellipse cx="231.8" cy="497.1" rx="1.45" ry="1.20" fill="#2f3284"/>
<ellipse cx="237.5" cy="503.8" rx="1.45" ry="1.20" fill="#2f3284"/>
<ellipse cx="235.9" cy="505.9" rx="1.45" ry="1.20" fill="#2f3284"/>
<ellipse cx="219.1" cy="508.0" rx="1.45" ry="1.20" fill="#2f3284"/>
<ellipse cx="228.4" cy="510.6" rx="1.45" ry="1.20" fill="#2f3284"/>
<ellipse cx="236.4" cy="519.9" rx="1.45" ry="1.20" fill="#2f3284"/>
<ellipse cx="228.1" cy="526.1" rx="1.45" ry="1.20" fill="#2f3284"/>
<ellipse cx="228.7" cy="528.7" rx="1.45" ry="1.20" fill="#2f3284"/>
<ellipse cx="241.1" cy="527.9" rx="1.45" ry="1.20" fill="#2f3284"/>
<ellipse cx="233.0" cy="532.3" rx="1.45" ry="1.20" fill="#2f3284"/>
<ellipse cx="218.1" cy="533.7" rx="1.45" ry="1.20" fill="#2f3284"/>
<ellipse cx="220.9" cy="538.0" rx="1.45" ry="1.20" fill="#2f3284"/>
<ellipse cx="237.8" cy="541.1" rx="1.45" ry="1.20" fill="#2f3284"/>
<ellipse cx="238.5" cy="542.7" rx="1.45" ry="1.20" fill="#2f3284"/>
<ellipse cx="240.0" cy="539.6" rx="1.45" ry="1.20" fill="#2f3284"/>
<ellipse cx="239.5" cy="544.2" rx="1.45" ry="1.20" fill="#2f3284"/>
<ellipse cx="220.2" cy="545.1" rx="1.45" ry="1.20" fill="#2f3284"/>
<ellipse cx="225.5" cy="547.9" rx="1.45" ry="1.20" fill="#2f3284"/>
<ellipse cx="231.2" cy="547.9" rx="1.45" ry="1.20" fill="#2f3284"/>
<ellipse cx="240.6" cy="548.9" rx="1.45" ry="1.20" fill="#2f3284"/>
<ellipse cx="231.2" cy="553.1" rx="1.45" ry="1.20" fill="#2f3284"/>
<ellipse cx="232.3" cy="557.2" rx="1.45" ry="1.20" fill="#2f3284"/>
<ellipse cx="231.8" cy="555.1" rx="1.45" ry="1.20" fill="#2f3284"/>
<ellipse cx="217.3" cy="558.8" rx="1.45" ry="1.20" fill="#2f3284"/>
<ellipse cx="239.0" cy="554.8" rx="1.45" ry="1.20" fill="#2f3284"/>
<ellipse cx="240.6" cy="559.3" rx="1.45" ry="1.20" fill="#2f3284"/>
<ellipse cx="216.2" cy="550.5" rx="1.45" ry="1.20" fill="#2f3284"/>
<ellipse cx="218.0" cy="573.6" rx="1.45" ry="1.20" fill="#2f3284"/>
<ellipse cx="219.8" cy="573.6" rx="1.45" ry="1.20" fill="#2f3284"/>
<ellipse cx="221.6" cy="573.6" rx="1.45" ry="1.20" fill="#2f3284"/>
<ellipse cx="223.4" cy="573.6" rx="1.45" ry="1.20" fill="#2f3284"/>
<ellipse cx="225.2" cy="573.6" rx="1.45" ry="1.20" fill="#2f3284"/>
<ellipse cx="227.0" cy="573.6" rx="1.45" ry="1.20" fill="#2f3284"/>
<ellipse cx="228.8" cy="573.6" rx="1.45" ry="1.20" fill="#2f3284"/>
<ellipse cx="230.7" cy="573.6" rx="1.45" ry="1.20" fill="#2f3284"/>
<ellipse cx="232.5" cy="573.6" rx="1.45" ry="1.20" fill="#2f3284"/>
<ellipse cx="234.3" cy="573.6" rx="1.45" ry="1.20" fill="#2f3284"/>
<ellipse cx="236.1" cy="573.6" rx="1.45" ry="1.20" fill="#2f3284"/>
<ellipse cx="237.9" cy="573.6" rx="1.45" ry="1.20" fill="#2f3284"/>
<ellipse cx="239.7" cy="573.6" rx="1.45" ry="1.20" fill="#2f3284"/>
<ellipse cx="241.5" cy="573.6" rx="1.45" ry="1.20" fill="#2f3284"/>
<line x1="217.50" y1="573.80" x2="241.70" y2="573.80" stroke="#2f3284" stroke-width="1.8" />
<ellipse cx="293.8" cy="525.5" rx="1.45" ry="1.20" fill="#2f3284"/>
<ellipse cx="293.8" cy="527.5" rx="1.45" ry="1.20" fill="#2f3284"/>
<ellipse cx="293.8" cy="529.5" rx="1.45" ry="1.20" fill="#2f3284"/>
<ellipse cx="293.8" cy="531.5" rx="1.45" ry="1.20" fill="#2f3284"/>
<ellipse cx="293.8" cy="533.5" rx="1.45" ry="1.20" fill="#2f3284"/>
<ellipse cx="293.8" cy="535.5" rx="1.45" ry="1.20" fill="#2f3284"/>
<ellipse cx="293.8" cy="537.2" rx="1.45" ry="1.20" fill="#2f3284"/>
<path d="M291.2,527.5 L294.6,533.5 L287.8,533.5 Z" fill="none" stroke="#2f3284" stroke-width="0.95" stroke-linejoin="miter"/>
<ellipse cx="300.9" cy="525.4" rx="1.45" ry="1.20" fill="#2f3284"/>
<ellipse cx="304.6" cy="536.5" rx="1.45" ry="1.20" fill="#2f3284"/>
<ellipse cx="293.8" cy="542.9" rx="1.45" ry="1.20" fill="#2f3284"/>
<ellipse cx="297.2" cy="542.9" rx="1.45" ry="1.20" fill="#2f3284"/>
<ellipse cx="293.8" cy="546.6" rx="1.45" ry="1.20" fill="#2f3284"/>
<ellipse cx="283.4" cy="546.5" rx="1.45" ry="1.20" fill="#2f3284"/>
<ellipse cx="297.5" cy="551.0" rx="1.45" ry="1.20" fill="#2f3284"/>
<ellipse cx="298.2" cy="553.7" rx="1.45" ry="1.20" fill="#2f3284"/>
<ellipse cx="301.9" cy="555.5" rx="1.45" ry="1.20" fill="#2f3284"/>
<ellipse cx="304.6" cy="557.6" rx="1.45" ry="1.20" fill="#2f3284"/>
<ellipse cx="281.7" cy="555.5" rx="1.45" ry="1.20" fill="#2f3284"/>
<ellipse cx="282.0" cy="557.6" rx="1.45" ry="1.20" fill="#2f3284"/>
<ellipse cx="285.0" cy="555.5" rx="1.45" ry="1.20" fill="#2f3284"/>
<ellipse cx="287.5" cy="554.0" rx="1.45" ry="1.20" fill="#2f3284"/>
<ellipse cx="281.5" cy="560.2" rx="1.45" ry="1.20" fill="#2f3284"/>
<ellipse cx="283.0" cy="558.0" rx="1.45" ry="1.20" fill="#2f3284"/>
<line x1="293.80" y1="551.50" x2="293.80" y2="561.20" stroke="#2f3284" stroke-width="3.0" stroke-linecap="round"/>
<line x1="281.50" y1="573.50" x2="306.50" y2="573.50" stroke="#2f3284" stroke-width="2.6" stroke-linecap="round"/>
<line x1="367.40" y1="396.50" x2="367.40" y2="601.00" stroke="#a9aaad" stroke-width="1.1" />
<rect x="355.00" y="449.00" width="24.40" height="124.60" fill="none" stroke="#a9aaad" stroke-width="1.0"/>
<line x1="355.00" y1="503.50" x2="379.40" y2="503.50" stroke="#a9aaad" stroke-width="1.4" />
<ellipse cx="357.8" cy="396.8" rx="1.57" ry="1.30" fill="#a4a5a8"/>
<ellipse cx="378.5" cy="400.9" rx="1.57" ry="1.30" fill="#a4a5a8"/>
<ellipse cx="362.2" cy="405.9" rx="1.57" ry="1.30" fill="#a4a5a8"/>
<ellipse cx="378.8" cy="406.7" rx="1.57" ry="1.30" fill="#a4a5a8"/>
<ellipse cx="357.2" cy="413.1" rx="1.57" ry="1.30" fill="#a4a5a8"/>
<ellipse cx="362.0" cy="413.8" rx="1.57" ry="1.30" fill="#a4a5a8"/>
<ellipse cx="364.5" cy="412.6" rx="1.57" ry="1.30" fill="#a4a5a8"/>
<ellipse cx="359.3" cy="416.5" rx="1.57" ry="1.30" fill="#a4a5a8"/>
<ellipse cx="376.0" cy="417.1" rx="1.57" ry="1.30" fill="#a4a5a8"/>
<ellipse cx="363.5" cy="419.0" rx="1.57" ry="1.30" fill="#a4a5a8"/>
<ellipse cx="377.5" cy="423.0" rx="1.57" ry="1.30" fill="#a4a5a8"/>
<ellipse cx="373.0" cy="425.8" rx="1.57" ry="1.30" fill="#a4a5a8"/>
<ellipse cx="371.5" cy="428.5" rx="1.57" ry="1.30" fill="#a4a5a8"/>
<ellipse cx="376.0" cy="430.5" rx="1.57" ry="1.30" fill="#a4a5a8"/>
<ellipse cx="379.0" cy="432.0" rx="1.57" ry="1.30" fill="#a4a5a8"/>
<ellipse cx="373.6" cy="431.1" rx="1.45" ry="1.20" fill="#a4a5a8"/>
<ellipse cx="374.4" cy="437.6" rx="1.45" ry="1.20" fill="#a4a5a8"/>
<ellipse cx="371.4" cy="431.4" rx="1.45" ry="1.20" fill="#a4a5a8"/>
<ellipse cx="374.5" cy="433.3" rx="1.45" ry="1.20" fill="#a4a5a8"/>
<ellipse cx="376.5" cy="436.0" rx="1.45" ry="1.20" fill="#a4a5a8"/>
<ellipse cx="377.9" cy="434.3" rx="1.45" ry="1.20" fill="#a4a5a8"/>
<ellipse cx="372.0" cy="442.2" rx="1.45" ry="1.20" fill="#a4a5a8"/>
<ellipse cx="373.3" cy="435.6" rx="1.45" ry="1.20" fill="#a4a5a8"/>
<ellipse cx="374.1" cy="433.1" rx="1.45" ry="1.20" fill="#a4a5a8"/>
<ellipse cx="375.8" cy="438.8" rx="1.45" ry="1.20" fill="#a4a5a8"/>
<ellipse cx="374.8" cy="440.5" rx="1.45" ry="1.20" fill="#a4a5a8"/>
<ellipse cx="373.5" cy="443.1" rx="1.45" ry="1.20" fill="#a4a5a8"/>
<ellipse cx="376.8" cy="431.8" rx="1.45" ry="1.20" fill="#a4a5a8"/>
<ellipse cx="374.4" cy="437.3" rx="1.45" ry="1.20" fill="#a4a5a8"/>
<ellipse cx="372.7" cy="438.6" rx="1.45" ry="1.20" fill="#a4a5a8"/>
<ellipse cx="377.4" cy="438.9" rx="1.45" ry="1.20" fill="#a4a5a8"/>
<ellipse cx="375.9" cy="444.2" rx="1.45" ry="1.20" fill="#a4a5a8"/>
<ellipse cx="374.5" cy="440.5" rx="1.45" ry="1.20" fill="#a4a5a8"/>
<ellipse cx="377.0" cy="434.3" rx="1.45" ry="1.20" fill="#a4a5a8"/>
<ellipse cx="373.9" cy="436.9" rx="1.45" ry="1.20" fill="#a4a5a8"/>
<ellipse cx="371.8" cy="441.5" rx="1.45" ry="1.20" fill="#a4a5a8"/>
<ellipse cx="372.2" cy="443.1" rx="1.45" ry="1.20" fill="#a4a5a8"/>
<ellipse cx="356.9" cy="431.2" rx="1.45" ry="1.20" fill="#a4a5a8"/>
<ellipse cx="368.6" cy="442.1" rx="1.45" ry="1.20" fill="#a4a5a8"/>
<ellipse cx="375.4" cy="441.6" rx="1.45" ry="1.20" fill="#a4a5a8"/>
<ellipse cx="361.9" cy="430.4" rx="1.45" ry="1.20" fill="#a4a5a8"/>
<ellipse cx="363.9" cy="442.1" rx="1.45" ry="1.20" fill="#a4a5a8"/>
<ellipse cx="378.8" cy="423.8" rx="1.45" ry="1.20" fill="#a4a5a8"/>
<ellipse cx="359.3" cy="425.8" rx="1.45" ry="1.20" fill="#a4a5a8"/>
<ellipse cx="360.7" cy="432.1" rx="1.45" ry="1.20" fill="#a4a5a8"/>
<ellipse cx="369.6" cy="426.6" rx="1.45" ry="1.20" fill="#a4a5a8"/>
<ellipse cx="355.0" cy="430.5" rx="1.45" ry="1.20" fill="#a4a5a8"/>
<ellipse cx="364.1" cy="434.2" rx="1.45" ry="1.20" fill="#a4a5a8"/>
<ellipse cx="378.7" cy="437.3" rx="1.45" ry="1.20" fill="#a4a5a8"/>
<ellipse cx="367.8" cy="435.4" rx="1.45" ry="1.20" fill="#a4a5a8"/>
<ellipse cx="371.8" cy="421.3" rx="1.45" ry="1.20" fill="#a4a5a8"/>
<ellipse cx="377.4" cy="473.9" rx="1.45" ry="1.20" fill="#a4a5a8"/>
<ellipse cx="376.8" cy="474.5" rx="1.45" ry="1.20" fill="#a4a5a8"/>
<ellipse cx="364.7" cy="459.8" rx="1.45" ry="1.20" fill="#a4a5a8"/>
<ellipse cx="357.5" cy="468.5" rx="1.45" ry="1.20" fill="#a4a5a8"/>
<ellipse cx="356.5" cy="447.5" rx="1.45" ry="1.20" fill="#a4a5a8"/>
<ellipse cx="360.1" cy="451.0" rx="1.45" ry="1.20" fill="#a4a5a8"/>
<ellipse cx="363.4" cy="446.9" rx="1.45" ry="1.20" fill="#a4a5a8"/>
<ellipse cx="354.9" cy="450.6" rx="1.45" ry="1.20" fill="#a4a5a8"/>
<ellipse cx="357.4" cy="458.5" rx="1.45" ry="1.20" fill="#a4a5a8"/>
<ellipse cx="355.5" cy="477.4" rx="1.45" ry="1.20" fill="#a4a5a8"/>
<ellipse cx="370.3" cy="450.5" rx="1.45" ry="1.20" fill="#a4a5a8"/>
<ellipse cx="361.2" cy="457.9" rx="1.45" ry="1.20" fill="#a4a5a8"/>
<ellipse cx="364.0" cy="449.5" rx="1.45" ry="1.20" fill="#a4a5a8"/>
<ellipse cx="376.1" cy="481.7" rx="1.45" ry="1.20" fill="#a4a5a8"/>
<ellipse cx="366.5" cy="462.9" rx="1.45" ry="1.20" fill="#a4a5a8"/>
<ellipse cx="357.0" cy="448.8" rx="1.45" ry="1.20" fill="#a4a5a8"/>
<ellipse cx="363.5" cy="454.8" rx="1.45" ry="1.20" fill="#a4a5a8"/>
<ellipse cx="375.6" cy="451.0" rx="1.45" ry="1.20" fill="#a4a5a8"/>
<ellipse cx="355.5" cy="480.2" rx="1.45" ry="1.20" fill="#a4a5a8"/>
<ellipse cx="368.1" cy="450.4" rx="1.45" ry="1.20" fill="#a4a5a8"/>
<ellipse cx="368.5" cy="446.0" rx="1.45" ry="1.20" fill="#a4a5a8"/>
<ellipse cx="368.1" cy="481.2" rx="1.45" ry="1.20" fill="#a4a5a8"/>
<ellipse cx="376.5" cy="470.8" rx="1.45" ry="1.20" fill="#a4a5a8"/>
<ellipse cx="361.4" cy="458.6" rx="1.45" ry="1.20" fill="#a4a5a8"/>
<ellipse cx="359.1" cy="473.6" rx="1.45" ry="1.20" fill="#a4a5a8"/>
<ellipse cx="368.2" cy="473.8" rx="1.45" ry="1.20" fill="#a4a5a8"/>
<ellipse cx="363.1" cy="453.3" rx="1.45" ry="1.20" fill="#a4a5a8"/>
<ellipse cx="375.2" cy="481.4" rx="1.45" ry="1.20" fill="#a4a5a8"/>
<ellipse cx="376.2" cy="474.8" rx="1.45" ry="1.20" fill="#a4a5a8"/>
<ellipse cx="375.4" cy="472.4" rx="1.45" ry="1.20" fill="#a4a5a8"/>
<ellipse cx="360.6" cy="464.2" rx="1.45" ry="1.20" fill="#a4a5a8"/>
<ellipse cx="363.8" cy="446.1" rx="1.45" ry="1.20" fill="#a4a5a8"/>
<ellipse cx="355.6" cy="455.3" rx="1.45" ry="1.20" fill="#a4a5a8"/>
<ellipse cx="361.4" cy="470.6" rx="1.45" ry="1.20" fill="#a4a5a8"/>
<ellipse cx="378.8" cy="461.5" rx="1.45" ry="1.20" fill="#a4a5a8"/>
<ellipse cx="378.3" cy="481.6" rx="1.45" ry="1.20" fill="#a4a5a8"/>
<ellipse cx="378.8" cy="458.5" rx="1.45" ry="1.20" fill="#a4a5a8"/>
<ellipse cx="360.4" cy="453.4" rx="1.45" ry="1.20" fill="#a4a5a8"/>
<ellipse cx="359.8" cy="452.6" rx="1.45" ry="1.20" fill="#a4a5a8"/>
<ellipse cx="370.5" cy="478.3" rx="1.45" ry="1.20" fill="#a4a5a8"/>
<ellipse cx="375.9" cy="462.7" rx="1.45" ry="1.20" fill="#a4a5a8"/>
<ellipse cx="371.2" cy="474.6" rx="1.45" ry="1.20" fill="#a4a5a8"/>
<ellipse cx="357.0" cy="469.4" rx="1.45" ry="1.20" fill="#a4a5a8"/>
<ellipse cx="377.6" cy="473.9" rx="1.45" ry="1.20" fill="#a4a5a8"/>
<ellipse cx="373.7" cy="462.7" rx="1.45" ry="1.20" fill="#a4a5a8"/>
<ellipse cx="359.4" cy="474.2" rx="1.45" ry="1.20" fill="#a4a5a8"/>
<ellipse cx="363.2" cy="474.6" rx="1.45" ry="1.20" fill="#a4a5a8"/>
<ellipse cx="379.2" cy="459.6" rx="1.45" ry="1.20" fill="#a4a5a8"/>
<ellipse cx="364.9" cy="480.0" rx="1.45" ry="1.20" fill="#a4a5a8"/>
<ellipse cx="373.0" cy="451.3" rx="1.45" ry="1.20" fill="#a4a5a8"/>
<ellipse cx="358.1" cy="450.6" rx="1.45" ry="1.20" fill="#a4a5a8"/>
<ellipse cx="377.5" cy="474.8" rx="1.45" ry="1.20" fill="#a4a5a8"/>
<ellipse cx="358.6" cy="475.6" rx="1.45" ry="1.20" fill="#a4a5a8"/>
<ellipse cx="379.4" cy="469.3" rx="1.45" ry="1.20" fill="#a4a5a8"/>
<ellipse cx="363.7" cy="465.3" rx="1.45" ry="1.20" fill="#a4a5a8"/>
<ellipse cx="360.3" cy="454.2" rx="1.45" ry="1.20" fill="#a4a5a8"/>
<ellipse cx="368.8" cy="464.2" rx="1.45" ry="1.20" fill="#a4a5a8"/>
<ellipse cx="372.4" cy="438.2" rx="1.45" ry="1.20" fill="#a4a5a8"/>
<ellipse cx="362.0" cy="443.9" rx="1.45" ry="1.20" fill="#a4a5a8"/>
<ellipse cx="360.9" cy="445.6" rx="1.45" ry="1.20" fill="#a4a5a8"/>
<ellipse cx="369.8" cy="466.3" rx="1.45" ry="1.20" fill="#a4a5a8"/>
<ellipse cx="367.6" cy="425.8" rx="1.45" ry="1.20" fill="#a4a5a8"/>
<ellipse cx="364.3" cy="461.0" rx="1.45" ry="1.20" fill="#a4a5a8"/>
<ellipse cx="361.6" cy="450.0" rx="1.45" ry="1.20" fill="#a4a5a8"/>
<ellipse cx="364.2" cy="460.3" rx="1.45" ry="1.20" fill="#a4a5a8"/>
<ellipse cx="359.4" cy="437.5" rx="1.45" ry="1.20" fill="#a4a5a8"/>
<ellipse cx="372.8" cy="459.2" rx="1.45" ry="1.20" fill="#a4a5a8"/>
<ellipse cx="375.5" cy="447.7" rx="1.45" ry="1.20" fill="#a4a5a8"/>
<ellipse cx="368.0" cy="449.0" rx="1.45" ry="1.20" fill="#a4a5a8"/>
<ellipse cx="368.5" cy="464.4" rx="1.45" ry="1.20" fill="#a4a5a8"/>
<ellipse cx="375.5" cy="467.4" rx="1.45" ry="1.20" fill="#a4a5a8"/>
<ellipse cx="372.1" cy="444.9" rx="1.45" ry="1.20" fill="#a4a5a8"/>
<ellipse cx="357.5" cy="455.1" rx="1.45" ry="1.20" fill="#a4a5a8"/>
<ellipse cx="373.0" cy="457.2" rx="1.45" ry="1.20" fill="#a4a5a8"/>
<ellipse cx="370.5" cy="468.5" rx="1.45" ry="1.20" fill="#a4a5a8"/>
<ellipse cx="362.9" cy="446.9" rx="1.45" ry="1.20" fill="#a4a5a8"/>
<ellipse cx="376.8" cy="444.4" rx="1.45" ry="1.20" fill="#a4a5a8"/>
<ellipse cx="366.6" cy="439.3" rx="1.45" ry="1.20" fill="#a4a5a8"/>
<ellipse cx="370.6" cy="444.8" rx="1.45" ry="1.20" fill="#a4a5a8"/>
<ellipse cx="358.0" cy="448.1" rx="1.45" ry="1.20" fill="#a4a5a8"/>
<ellipse cx="358.5" cy="474.4" rx="1.45" ry="1.20" fill="#a4a5a8"/>
<ellipse cx="357.0" cy="470.6" rx="1.45" ry="1.20" fill="#a4a5a8"/>
<ellipse cx="358.2" cy="473.2" rx="1.45" ry="1.20" fill="#a4a5a8"/>
<ellipse cx="361.1" cy="473.4" rx="1.45" ry="1.20" fill="#a4a5a8"/>
<ellipse cx="360.1" cy="456.2" rx="1.45" ry="1.20" fill="#a4a5a8"/>
<ellipse cx="360.5" cy="473.8" rx="1.45" ry="1.20" fill="#a4a5a8"/>
<ellipse cx="360.6" cy="472.1" rx="1.45" ry="1.20" fill="#a4a5a8"/>
<ellipse cx="358.0" cy="461.8" rx="1.45" ry="1.20" fill="#a4a5a8"/>
<ellipse cx="360.5" cy="457.6" rx="1.45" ry="1.20" fill="#a4a5a8"/>
<ellipse cx="359.4" cy="458.2" rx="1.45" ry="1.20" fill="#a4a5a8"/>
<ellipse cx="356.6" cy="486.0" rx="1.45" ry="1.20" fill="#a4a5a8"/>
<ellipse cx="362.9" cy="488.1" rx="1.45" ry="1.20" fill="#a4a5a8"/>
<ellipse cx="373.6" cy="487.8" rx="1.45" ry="1.20" fill="#a4a5a8"/>
<ellipse cx="367.4" cy="485.6" rx="1.45" ry="1.20" fill="#a4a5a8"/>
<ellipse cx="363.7" cy="482.4" rx="1.45" ry="1.20" fill="#a4a5a8"/>
<ellipse cx="361.4" cy="482.3" rx="1.45" ry="1.20" fill="#a4a5a8"/>
<ellipse cx="373.0" cy="493.0" rx="1.45" ry="1.20" fill="#a4a5a8"/>
<ellipse cx="359.9" cy="491.5" rx="1.45" ry="1.20" fill="#a4a5a8"/>
<ellipse cx="378.3" cy="511.9" rx="1.45" ry="1.20" fill="#a4a5a8"/>
<ellipse cx="375.4" cy="533.1" rx="1.45" ry="1.20" fill="#a4a5a8"/>
<ellipse cx="367.3" cy="559.2" rx="1.45" ry="1.20" fill="#a4a5a8"/>
<ellipse cx="364.7" cy="537.9" rx="1.45" ry="1.20" fill="#a4a5a8"/>
<ellipse cx="372.1" cy="568.9" rx="1.45" ry="1.20" fill="#a4a5a8"/>
<ellipse cx="363.5" cy="559.1" rx="1.45" ry="1.20" fill="#a4a5a8"/>
<ellipse cx="372.6" cy="546.3" rx="1.45" ry="1.20" fill="#a4a5a8"/>
<ellipse cx="365.0" cy="527.6" rx="1.45" ry="1.20" fill="#a4a5a8"/>
<ellipse cx="356.3" cy="513.4" rx="1.45" ry="1.20" fill="#a4a5a8"/>
<ellipse cx="356.7" cy="553.2" rx="1.45" ry="1.20" fill="#a4a5a8"/>
<ellipse cx="361.3" cy="515.6" rx="1.45" ry="1.20" fill="#a4a5a8"/>
<ellipse cx="357.0" cy="559.7" rx="1.45" ry="1.20" fill="#a4a5a8"/>
<ellipse cx="376.7" cy="548.6" rx="1.45" ry="1.20" fill="#a4a5a8"/>
<ellipse cx="361.9" cy="520.7" rx="1.45" ry="1.20" fill="#a4a5a8"/>
<ellipse cx="362.2" cy="534.9" rx="1.45" ry="1.20" fill="#a4a5a8"/>
<ellipse cx="358.8" cy="534.0" rx="1.45" ry="1.20" fill="#a4a5a8"/>
<ellipse cx="361.5" cy="567.5" rx="1.45" ry="1.20" fill="#a4a5a8"/>
<ellipse cx="379.2" cy="540.6" rx="1.45" ry="1.20" fill="#a4a5a8"/>
<ellipse cx="361.0" cy="567.8" rx="1.45" ry="1.20" fill="#a4a5a8"/>
<ellipse cx="362.6" cy="528.2" rx="1.45" ry="1.20" fill="#a4a5a8"/>
<ellipse cx="354.9" cy="529.8" rx="1.45" ry="1.20" fill="#a4a5a8"/>
<ellipse cx="366.8" cy="537.7" rx="1.45" ry="1.20" fill="#a4a5a8"/>
<ellipse cx="359.9" cy="537.8" rx="1.45" ry="1.20" fill="#a4a5a8"/>
<ellipse cx="355.0" cy="522.2" rx="1.45" ry="1.20" fill="#a4a5a8"/>
<ellipse cx="357.1" cy="531.0" rx="1.45" ry="1.20" fill="#a4a5a8"/>
<ellipse cx="355.9" cy="506.5" rx="1.45" ry="1.20" fill="#a4a5a8"/>
<ellipse cx="362.5" cy="520.1" rx="1.45" ry="1.20" fill="#a4a5a8"/>
<ellipse cx="369.5" cy="539.4" rx="1.45" ry="1.20" fill="#a4a5a8"/>
<ellipse cx="373.7" cy="547.7" rx="1.45" ry="1.20" fill="#a4a5a8"/>
<ellipse cx="372.8" cy="562.1" rx="1.45" ry="1.20" fill="#a4a5a8"/>
<ellipse cx="362.7" cy="543.0" rx="1.45" ry="1.20" fill="#a4a5a8"/>
<ellipse cx="375.2" cy="536.0" rx="1.45" ry="1.20" fill="#a4a5a8"/>
<ellipse cx="369.7" cy="555.7" rx="1.45" ry="1.20" fill="#a4a5a8"/>
<ellipse cx="355.4" cy="563.4" rx="1.45" ry="1.20" fill="#a4a5a8"/>
<ellipse cx="373.2" cy="555.1" rx="1.45" ry="1.20" fill="#a4a5a8"/>
<ellipse cx="369.9" cy="562.5" rx="1.45" ry="1.20" fill="#a4a5a8"/>
<ellipse cx="357.4" cy="551.0" rx="1.45" ry="1.20" fill="#a4a5a8"/>
<ellipse cx="365.1" cy="563.4" rx="1.45" ry="1.20" fill="#a4a5a8"/>
<ellipse cx="371.4" cy="563.1" rx="1.45" ry="1.20" fill="#a4a5a8"/>
<ellipse cx="366.8" cy="565.7" rx="1.45" ry="1.20" fill="#a4a5a8"/>
<ellipse cx="368.8" cy="557.7" rx="1.45" ry="1.20" fill="#a4a5a8"/>
<ellipse cx="359.3" cy="531.2" rx="1.45" ry="1.20" fill="#a4a5a8"/>
<ellipse cx="357.3" cy="544.4" rx="1.45" ry="1.20" fill="#a4a5a8"/>
<ellipse cx="356.7" cy="563.4" rx="1.45" ry="1.20" fill="#a4a5a8"/>
<ellipse cx="370.2" cy="584.3" rx="1.45" ry="1.20" fill="#a4a5a8"/>
<ellipse cx="366.6" cy="586.0" rx="1.45" ry="1.20" fill="#a4a5a8"/>
<ellipse cx="369.3" cy="569.6" rx="1.45" ry="1.20" fill="#a4a5a8"/>
<ellipse cx="365.6" cy="574.4" rx="1.45" ry="1.20" fill="#a4a5a8"/>
<ellipse cx="369.7" cy="591.4" rx="1.45" ry="1.20" fill="#a4a5a8"/>
<ellipse cx="367.0" cy="584.4" rx="1.45" ry="1.20" fill="#a4a5a8"/>
<ellipse cx="372.1" cy="569.9" rx="1.45" ry="1.20" fill="#a4a5a8"/>
<ellipse cx="364.9" cy="575.3" rx="1.45" ry="1.20" fill="#a4a5a8"/>
<ellipse cx="362.5" cy="574.5" rx="1.45" ry="1.20" fill="#a4a5a8"/>
<ellipse cx="371.9" cy="575.0" rx="1.45" ry="1.20" fill="#a4a5a8"/>
<ellipse cx="367.7" cy="570.8" rx="1.45" ry="1.20" fill="#a4a5a8"/>
<ellipse cx="372.6" cy="590.5" rx="1.45" ry="1.20" fill="#a4a5a8"/>
<ellipse cx="365.6" cy="591.2" rx="1.45" ry="1.20" fill="#a4a5a8"/>
<ellipse cx="364.1" cy="590.7" rx="1.45" ry="1.20" fill="#a4a5a8"/>
<ellipse cx="363.6" cy="580.6" rx="1.45" ry="1.20" fill="#a4a5a8"/>
<ellipse cx="371.7" cy="580.2" rx="1.45" ry="1.20" fill="#a4a5a8"/>
<ellipse cx="371.0" cy="589.5" rx="1.45" ry="1.20" fill="#a4a5a8"/>
<ellipse cx="361.5" cy="579.8" rx="1.45" ry="1.20" fill="#a4a5a8"/>
<ellipse cx="363.9" cy="576.3" rx="1.45" ry="1.20" fill="#a4a5a8"/>
<ellipse cx="365.3" cy="586.0" rx="1.45" ry="1.20" fill="#a4a5a8"/>
<ellipse cx="371.3" cy="585.1" rx="1.45" ry="1.20" fill="#a4a5a8"/>
<ellipse cx="369.3" cy="577.4" rx="1.45" ry="1.20" fill="#a4a5a8"/>
<ellipse cx="372.1" cy="578.3" rx="1.45" ry="1.20" fill="#a4a5a8"/>
<ellipse cx="360.4" cy="588.0" rx="1.45" ry="1.20" fill="#a4a5a8"/>
<ellipse cx="367.3" cy="574.4" rx="1.45" ry="1.20" fill="#a4a5a8"/>
<ellipse cx="365.2" cy="590.9" rx="1.45" ry="1.20" fill="#a4a5a8"/>
<ellipse cx="374.3" cy="589.9" rx="1.45" ry="1.20" fill="#a4a5a8"/>
<ellipse cx="373.7" cy="569.2" rx="1.45" ry="1.20" fill="#a4a5a8"/>
<ellipse cx="371.4" cy="583.5" rx="1.45" ry="1.20" fill="#a4a5a8"/>
<ellipse cx="366.0" cy="571.1" rx="1.45" ry="1.20" fill="#a4a5a8"/>
<ellipse cx="365.4" cy="585.7" rx="1.45" ry="1.20" fill="#a4a5a8"/>
<ellipse cx="371.6" cy="575.2" rx="1.45" ry="1.20" fill="#a4a5a8"/>
<ellipse cx="365.6" cy="571.9" rx="1.45" ry="1.20" fill="#a4a5a8"/>
<ellipse cx="368.1" cy="573.3" rx="1.45" ry="1.20" fill="#a4a5a8"/>
<ellipse cx="374.5" cy="571.4" rx="1.45" ry="1.20" fill="#a4a5a8"/>
<ellipse cx="361.5" cy="570.2" rx="1.45" ry="1.20" fill="#a4a5a8"/>
<ellipse cx="364.6" cy="589.3" rx="1.45" ry="1.20" fill="#a4a5a8"/>
<ellipse cx="369.1" cy="580.6" rx="1.45" ry="1.20" fill="#a4a5a8"/>
<path d="M370.1,412.5 L373.6,418.5 L366.7,418.5 Z" fill="none" stroke="#a4a5a8" stroke-width="0.95" stroke-linejoin="miter"/>
<path d="M363.5,417.8 L366.9,423.8 L360.1,423.8 Z" fill="none" stroke="#a4a5a8" stroke-width="0.95" stroke-linejoin="miter"/>
<path d="M360.3,422.6 L363.8,428.6 L356.9,428.6 Z" fill="none" stroke="#a4a5a8" stroke-width="0.95" stroke-linejoin="miter"/>
<path d="M366.0,425.5 L369.4,431.5 L362.6,431.5 Z" fill="none" stroke="#a4a5a8" stroke-width="0.95" stroke-linejoin="miter"/>
<path d="M356.5,433.0 L359.9,439.0 L353.1,439.0 Z" fill="none" stroke="#a4a5a8" stroke-width="0.95" stroke-linejoin="miter"/>
<path d="M359.0,437.5 L362.4,443.5 L355.6,443.5 Z" fill="none" stroke="#a4a5a8" stroke-width="0.95" stroke-linejoin="miter"/>
<path d="M363.0,439.8 L366.4,445.8 L359.6,445.8 Z" fill="none" stroke="#a4a5a8" stroke-width="0.95" stroke-linejoin="miter"/>
<path d="M376.0,442.0 L379.4,448.0 L372.6,448.0 Z" fill="none" stroke="#a4a5a8" stroke-width="0.95" stroke-linejoin="miter"/>
<path d="M358.0,448.0 L361.4,454.0 L354.6,454.0 Z" fill="none" stroke="#a4a5a8" stroke-width="0.95" stroke-linejoin="miter"/>
<path d="M360.5,449.5 L363.9,455.5 L357.1,455.5 Z" fill="none" stroke="#a4a5a8" stroke-width="0.95" stroke-linejoin="miter"/>
<path d="M371.5,446.5 L374.9,452.5 L368.1,452.5 Z" fill="none" stroke="#a4a5a8" stroke-width="0.95" stroke-linejoin="miter"/>
<path d="M381.0,448.5 L384.4,454.5 L377.6,454.5 Z" fill="none" stroke="#a4a5a8" stroke-width="0.95" stroke-linejoin="miter"/>
<path d="M363.5,456.0 L366.9,462.0 L360.1,462.0 Z" fill="none" stroke="#a4a5a8" stroke-width="0.95" stroke-linejoin="miter"/>
<path d="M358.0,458.0 L361.4,464.0 L354.6,464.0 Z" fill="none" stroke="#a4a5a8" stroke-width="0.95" stroke-linejoin="miter"/>
<path d="M365.0,459.0 L368.4,465.0 L361.6,465.0 Z" fill="none" stroke="#a4a5a8" stroke-width="0.95" stroke-linejoin="miter"/>
<path d="M376.0,462.0 L379.4,468.0 L372.6,468.0 Z" fill="none" stroke="#a4a5a8" stroke-width="0.95" stroke-linejoin="miter"/>
<path d="M373.0,466.0 L376.4,472.0 L369.6,472.0 Z" fill="none" stroke="#a4a5a8" stroke-width="0.95" stroke-linejoin="miter"/>
<path d="M357.0,469.0 L360.4,475.0 L353.6,475.0 Z" fill="none" stroke="#a4a5a8" stroke-width="0.95" stroke-linejoin="miter"/>
<path d="M372.5,469.0 L375.9,475.0 L369.1,475.0 Z" fill="none" stroke="#a4a5a8" stroke-width="0.95" stroke-linejoin="miter"/>
<path d="M378.5,472.0 L381.9,478.0 L375.1,478.0 Z" fill="none" stroke="#a4a5a8" stroke-width="0.95" stroke-linejoin="miter"/>
<path d="M376.0,474.0 L379.4,480.0 L372.6,480.0 Z" fill="none" stroke="#a4a5a8" stroke-width="0.95" stroke-linejoin="miter"/>
<path d="M362.0,482.0 L365.4,488.0 L358.6,488.0 Z" fill="none" stroke="#a4a5a8" stroke-width="0.95" stroke-linejoin="miter"/>
<path d="M365.0,493.0 L368.4,499.0 L361.6,499.0 Z" fill="none" stroke="#a4a5a8" stroke-width="0.95" stroke-linejoin="miter"/>
<line x1="353.5" y1="601.0" x2="355.8" y2="601.0" stroke="#a4a5a8" stroke-width="2.0" stroke-linecap="round"/>
<line x1="358.0" y1="601.0" x2="368.5" y2="601.0" stroke="#a4a5a8" stroke-width="2.0" stroke-linecap="round"/>
<line x1="370.3" y1="601.0" x2="375.5" y2="601.0" stroke="#a4a5a8" stroke-width="2.0" stroke-linecap="round"/>
<line x1="377.6" y1="601.0" x2="379.8" y2="601.0" stroke="#a4a5a8" stroke-width="2.0" stroke-linecap="round"/>
<line x1="429.60" y1="537.00" x2="429.60" y2="601.00" stroke="#a9aaad" stroke-width="1.1" />
<rect x="417.80" y="573.00" width="24.80" height="27.80" fill="none" stroke="#a9aaad" stroke-width="1.0"/>
<path d="M430.3,531.6 L433.8,537.6 L426.9,537.6 Z" fill="none" stroke="#a4a5a8" stroke-width="0.95" stroke-linejoin="miter"/>
<ellipse cx="424.9" cy="535.7" rx="1.45" ry="1.20" fill="#a4a5a8"/>
<ellipse cx="418.3" cy="544.5" rx="1.57" ry="1.30" fill="#a4a5a8"/>
<ellipse cx="418.3" cy="550.2" rx="1.57" ry="1.30" fill="#a4a5a8"/>
<ellipse cx="424.5" cy="552.6" rx="1.57" ry="1.30" fill="#a4a5a8"/>
<ellipse cx="426.0" cy="554.5" rx="1.57" ry="1.30" fill="#a4a5a8"/>
<ellipse cx="421.5" cy="558.0" rx="1.57" ry="1.30" fill="#a4a5a8"/>
<ellipse cx="423.0" cy="560.0" rx="1.57" ry="1.30" fill="#a4a5a8"/>
<ellipse cx="434.0" cy="555.5" rx="1.57" ry="1.30" fill="#a4a5a8"/>
<ellipse cx="438.0" cy="558.0" rx="1.57" ry="1.30" fill="#a4a5a8"/>
<ellipse cx="436.0" cy="560.5" rx="1.57" ry="1.30" fill="#a4a5a8"/>
<ellipse cx="429.3" cy="558.3" rx="1.57" ry="1.30" fill="#a4a5a8"/>
<ellipse cx="432.2" cy="563.7" rx="1.45" ry="1.20" fill="#a4a5a8"/>
<ellipse cx="436.7" cy="565.8" rx="1.45" ry="1.20" fill="#a4a5a8"/>
<ellipse cx="435.8" cy="563.5" rx="1.45" ry="1.20" fill="#a4a5a8"/>
<ellipse cx="433.9" cy="567.1" rx="1.45" ry="1.20" fill="#a4a5a8"/>
<ellipse cx="435.2" cy="566.3" rx="1.45" ry="1.20" fill="#a4a5a8"/>
<ellipse cx="436.9" cy="562.0" rx="1.45" ry="1.20" fill="#a4a5a8"/>
<ellipse cx="434.4" cy="567.1" rx="1.45" ry="1.20" fill="#a4a5a8"/>
<ellipse cx="436.3" cy="562.9" rx="1.45" ry="1.20" fill="#a4a5a8"/>
<ellipse cx="435.1" cy="566.3" rx="1.45" ry="1.20" fill="#a4a5a8"/>
<ellipse cx="435.4" cy="565.3" rx="1.45" ry="1.20" fill="#a4a5a8"/>
<ellipse cx="430.8" cy="567.5" rx="1.45" ry="1.20" fill="#a4a5a8"/>
<ellipse cx="434.2" cy="563.5" rx="1.45" ry="1.20" fill="#a4a5a8"/>
<ellipse cx="434.7" cy="562.4" rx="1.45" ry="1.20" fill="#a4a5a8"/>
<ellipse cx="434.1" cy="563.3" rx="1.45" ry="1.20" fill="#a4a5a8"/>
<ellipse cx="432.4" cy="566.2" rx="1.45" ry="1.20" fill="#a4a5a8"/>
<ellipse cx="425.2" cy="575.2" rx="1.45" ry="1.20" fill="#a4a5a8"/>
<ellipse cx="441.0" cy="578.9" rx="1.45" ry="1.20" fill="#a4a5a8"/>
<ellipse cx="439.2" cy="575.5" rx="1.45" ry="1.20" fill="#a4a5a8"/>
<ellipse cx="423.6" cy="570.9" rx="1.45" ry="1.20" fill="#a4a5a8"/>
<ellipse cx="441.1" cy="580.1" rx="1.45" ry="1.20" fill="#a4a5a8"/>
<ellipse cx="425.4" cy="566.4" rx="1.45" ry="1.20" fill="#a4a5a8"/>
<ellipse cx="430.0" cy="579.5" rx="1.45" ry="1.20" fill="#a4a5a8"/>
<ellipse cx="428.1" cy="571.1" rx="1.45" ry="1.20" fill="#a4a5a8"/>
<ellipse cx="434.0" cy="584.5" rx="1.45" ry="1.20" fill="#a4a5a8"/>
<ellipse cx="423.4" cy="566.7" rx="1.45" ry="1.20" fill="#a4a5a8"/>
<ellipse cx="426.1" cy="574.4" rx="1.45" ry="1.20" fill="#a4a5a8"/>
<ellipse cx="434.4" cy="570.0" rx="1.45" ry="1.20" fill="#a4a5a8"/>
<ellipse cx="437.1" cy="580.8" rx="1.45" ry="1.20" fill="#a4a5a8"/>
<ellipse cx="430.1" cy="570.1" rx="1.45" ry="1.20" fill="#a4a5a8"/>
<ellipse cx="441.3" cy="572.2" rx="1.45" ry="1.20" fill="#a4a5a8"/>
<ellipse cx="437.7" cy="570.6" rx="1.45" ry="1.20" fill="#a4a5a8"/>
<ellipse cx="423.3" cy="581.2" rx="1.45" ry="1.20" fill="#a4a5a8"/>
<ellipse cx="425.1" cy="585.0" rx="1.45" ry="1.20" fill="#a4a5a8"/>
<ellipse cx="429.9" cy="569.7" rx="1.45" ry="1.20" fill="#a4a5a8"/>
<ellipse cx="423.4" cy="574.3" rx="1.45" ry="1.20" fill="#a4a5a8"/>
<ellipse cx="434.0" cy="585.0" rx="1.45" ry="1.20" fill="#a4a5a8"/>
<ellipse cx="421.5" cy="573.9" rx="1.45" ry="1.20" fill="#a4a5a8"/>
<ellipse cx="423.1" cy="585.5" rx="1.45" ry="1.20" fill="#a4a5a8"/>
<ellipse cx="421.4" cy="567.0" rx="1.45" ry="1.20" fill="#a4a5a8"/>
<ellipse cx="419.4" cy="573.9" rx="1.45" ry="1.20" fill="#a4a5a8"/>
<ellipse cx="439.6" cy="583.7" rx="1.45" ry="1.20" fill="#a4a5a8"/>
<ellipse cx="435.6" cy="586.0" rx="1.45" ry="1.20" fill="#a4a5a8"/>
<ellipse cx="440.4" cy="572.6" rx="1.45" ry="1.20" fill="#a4a5a8"/>
<ellipse cx="422.5" cy="584.7" rx="1.45" ry="1.20" fill="#a4a5a8"/>
<ellipse cx="435.9" cy="566.6" rx="1.45" ry="1.20" fill="#a4a5a8"/>
<ellipse cx="433.9" cy="573.6" rx="1.45" ry="1.20" fill="#a4a5a8"/>
<ellipse cx="427.0" cy="572.6" rx="1.45" ry="1.20" fill="#a4a5a8"/>
<ellipse cx="422.1" cy="566.1" rx="1.45" ry="1.20" fill="#a4a5a8"/>
<ellipse cx="424.7" cy="573.0" rx="1.45" ry="1.20" fill="#a4a5a8"/>
<ellipse cx="440.9" cy="568.5" rx="1.45" ry="1.20" fill="#a4a5a8"/>
<ellipse cx="441.1" cy="570.1" rx="1.45" ry="1.20" fill="#a4a5a8"/>
<ellipse cx="426.6" cy="582.4" rx="1.45" ry="1.20" fill="#a4a5a8"/>
<ellipse cx="437.7" cy="574.6" rx="1.45" ry="1.20" fill="#a4a5a8"/>
<ellipse cx="419.2" cy="575.5" rx="1.45" ry="1.20" fill="#a4a5a8"/>
<ellipse cx="426.9" cy="584.4" rx="1.45" ry="1.20" fill="#a4a5a8"/>
<ellipse cx="422.6" cy="573.3" rx="1.45" ry="1.20" fill="#a4a5a8"/>
<ellipse cx="439.5" cy="566.6" rx="1.45" ry="1.20" fill="#a4a5a8"/>
<ellipse cx="427.9" cy="582.2" rx="1.45" ry="1.20" fill="#a4a5a8"/>
<ellipse cx="436.4" cy="566.8" rx="1.45" ry="1.20" fill="#a4a5a8"/>
<ellipse cx="418.8" cy="567.3" rx="1.45" ry="1.20" fill="#a4a5a8"/>
<ellipse cx="440.1" cy="571.1" rx="1.45" ry="1.20" fill="#a4a5a8"/>
<ellipse cx="435.9" cy="584.0" rx="1.45" ry="1.20" fill="#a4a5a8"/>
<ellipse cx="426.1" cy="571.4" rx="1.45" ry="1.20" fill="#a4a5a8"/>
<ellipse cx="441.0" cy="578.3" rx="1.45" ry="1.20" fill="#a4a5a8"/>
<ellipse cx="424.3" cy="580.3" rx="1.45" ry="1.20" fill="#a4a5a8"/>
<ellipse cx="425.6" cy="571.5" rx="1.45" ry="1.20" fill="#a4a5a8"/>
<ellipse cx="418.1" cy="581.1" rx="1.45" ry="1.20" fill="#a4a5a8"/>
<ellipse cx="440.0" cy="578.7" rx="1.45" ry="1.20" fill="#a4a5a8"/>
<ellipse cx="440.6" cy="566.5" rx="1.45" ry="1.20" fill="#a4a5a8"/>
<ellipse cx="423.6" cy="575.5" rx="1.45" ry="1.20" fill="#a4a5a8"/>
<ellipse cx="441.0" cy="585.1" rx="1.45" ry="1.20" fill="#a4a5a8"/>
<ellipse cx="427.3" cy="571.0" rx="1.45" ry="1.20" fill="#a4a5a8"/>
<ellipse cx="428.3" cy="588.0" rx="1.45" ry="1.20" fill="#a4a5a8"/>
<ellipse cx="440.3" cy="586.7" rx="1.45" ry="1.20" fill="#a4a5a8"/>
<ellipse cx="437.3" cy="589.0" rx="1.45" ry="1.20" fill="#a4a5a8"/>
<ellipse cx="437.7" cy="589.1" rx="1.45" ry="1.20" fill="#a4a5a8"/>
<line x1="416.8" y1="600.8" x2="424.0" y2="600.8" stroke="#a4a5a8" stroke-width="2.0" stroke-linecap="round"/>
<line x1="425.5" y1="600.8" x2="436.0" y2="600.8" stroke="#a4a5a8" stroke-width="2.0" stroke-linecap="round"/>
<line x1="437.5" y1="600.8" x2="442.0" y2="600.8" stroke="#a4a5a8" stroke-width="2.0" stroke-linecap="round"/>
<line x1="493.20" y1="405.70" x2="493.20" y2="601.00" stroke="#5d60a8" stroke-width="1.1" />
<rect x="480.40" y="482.30" width="25.00" height="96.70" fill="none" stroke="#2f3284" stroke-width="1.0"/>
<line x1="480.40" y1="556.00" x2="505.40" y2="556.00" stroke="#2f3284" stroke-width="1.4" />
<ellipse cx="495.7" cy="413.9" rx="1.45" ry="1.20" fill="#2f3284"/>
<ellipse cx="488.7" cy="414.8" rx="1.45" ry="1.20" fill="#2f3284"/>
<ellipse cx="500.0" cy="407.1" rx="1.45" ry="1.20" fill="#2f3284"/>
<ellipse cx="485.7" cy="425.3" rx="1.45" ry="1.20" fill="#2f3284"/>
<ellipse cx="486.9" cy="406.7" rx="1.45" ry="1.20" fill="#2f3284"/>
<ellipse cx="481.7" cy="419.9" rx="1.45" ry="1.20" fill="#2f3284"/>
<ellipse cx="488.8" cy="431.5" rx="1.45" ry="1.20" fill="#2f3284"/>
<ellipse cx="502.5" cy="431.7" rx="1.45" ry="1.20" fill="#2f3284"/>
<ellipse cx="487.4" cy="407.3" rx="1.45" ry="1.20" fill="#2f3284"/>
<ellipse cx="483.3" cy="418.5" rx="1.45" ry="1.20" fill="#2f3284"/>
<ellipse cx="498.2" cy="417.1" rx="1.45" ry="1.20" fill="#2f3284"/>
<ellipse cx="486.6" cy="416.3" rx="1.45" ry="1.20" fill="#2f3284"/>
<ellipse cx="496.0" cy="423.2" rx="1.45" ry="1.20" fill="#2f3284"/>
<ellipse cx="499.2" cy="427.9" rx="1.45" ry="1.20" fill="#2f3284"/>
<ellipse cx="497.1" cy="408.3" rx="1.45" ry="1.20" fill="#2f3284"/>
<ellipse cx="501.4" cy="412.9" rx="1.45" ry="1.20" fill="#2f3284"/>
<ellipse cx="494.7" cy="415.1" rx="1.45" ry="1.20" fill="#2f3284"/>
<ellipse cx="498.9" cy="410.4" rx="1.45" ry="1.20" fill="#2f3284"/>
<ellipse cx="486.9" cy="411.6" rx="1.45" ry="1.20" fill="#2f3284"/>
<ellipse cx="484.6" cy="428.9" rx="1.45" ry="1.20" fill="#2f3284"/>
<ellipse cx="495.1" cy="448.3" rx="1.45" ry="1.20" fill="#2f3284"/>
<ellipse cx="490.5" cy="481.6" rx="1.45" ry="1.20" fill="#2f3284"/>
<ellipse cx="493.3" cy="443.6" rx="1.45" ry="1.20" fill="#2f3284"/>
<ellipse cx="500.9" cy="464.7" rx="1.45" ry="1.20" fill="#2f3284"/>
<ellipse cx="505.5" cy="437.1" rx="1.45" ry="1.20" fill="#2f3284"/>
<ellipse cx="492.5" cy="473.0" rx="1.45" ry="1.20" fill="#2f3284"/>
<ellipse cx="501.7" cy="477.7" rx="1.45" ry="1.20" fill="#2f3284"/>
<ellipse cx="481.5" cy="446.7" rx="1.45" ry="1.20" fill="#2f3284"/>
<ellipse cx="483.5" cy="441.5" rx="1.45" ry="1.20" fill="#2f3284"/>
<ellipse cx="505.0" cy="461.2" rx="1.45" ry="1.20" fill="#2f3284"/>
<ellipse cx="503.9" cy="450.6" rx="1.45" ry="1.20" fill="#2f3284"/>
<ellipse cx="502.3" cy="454.5" rx="1.45" ry="1.20" fill="#2f3284"/>
<ellipse cx="487.1" cy="470.9" rx="1.45" ry="1.20" fill="#2f3284"/>
<ellipse cx="504.3" cy="437.3" rx="1.45" ry="1.20" fill="#2f3284"/>
<ellipse cx="495.5" cy="463.0" rx="1.45" ry="1.20" fill="#2f3284"/>
<ellipse cx="486.0" cy="450.4" rx="1.45" ry="1.20" fill="#2f3284"/>
<ellipse cx="484.1" cy="442.2" rx="1.45" ry="1.20" fill="#2f3284"/>
<ellipse cx="486.9" cy="462.0" rx="1.45" ry="1.20" fill="#2f3284"/>
<ellipse cx="496.9" cy="442.2" rx="1.45" ry="1.20" fill="#2f3284"/>
<ellipse cx="480.8" cy="448.4" rx="1.45" ry="1.20" fill="#2f3284"/>
<ellipse cx="497.6" cy="441.3" rx="1.45" ry="1.20" fill="#2f3284"/>
<ellipse cx="488.4" cy="442.2" rx="1.45" ry="1.20" fill="#2f3284"/>
<ellipse cx="500.5" cy="459.4" rx="1.45" ry="1.20" fill="#2f3284"/>
<ellipse cx="482.1" cy="437.1" rx="1.45" ry="1.20" fill="#2f3284"/>
<ellipse cx="490.5" cy="459.5" rx="1.45" ry="1.20" fill="#2f3284"/>
<ellipse cx="496.6" cy="436.6" rx="1.45" ry="1.20" fill="#2f3284"/>
<ellipse cx="484.6" cy="466.8" rx="1.45" ry="1.20" fill="#2f3284"/>
<ellipse cx="490.8" cy="446.2" rx="1.45" ry="1.20" fill="#2f3284"/>
<ellipse cx="488.3" cy="479.7" rx="1.45" ry="1.20" fill="#2f3284"/>
<ellipse cx="488.4" cy="460.3" rx="1.45" ry="1.20" fill="#2f3284"/>
<ellipse cx="489.5" cy="452.8" rx="1.45" ry="1.20" fill="#2f3284"/>
<ellipse cx="502.3" cy="481.8" rx="1.45" ry="1.20" fill="#2f3284"/>
<ellipse cx="489.7" cy="441.9" rx="1.45" ry="1.20" fill="#2f3284"/>
<ellipse cx="498.8" cy="442.2" rx="1.45" ry="1.20" fill="#2f3284"/>
<ellipse cx="480.6" cy="477.1" rx="1.45" ry="1.20" fill="#2f3284"/>
<ellipse cx="491.2" cy="473.0" rx="1.45" ry="1.20" fill="#2f3284"/>
<ellipse cx="490.7" cy="476.1" rx="1.45" ry="1.20" fill="#2f3284"/>
<ellipse cx="492.1" cy="440.1" rx="1.45" ry="1.20" fill="#2f3284"/>
<ellipse cx="480.9" cy="459.6" rx="1.45" ry="1.20" fill="#2f3284"/>
<ellipse cx="496.6" cy="477.5" rx="1.45" ry="1.20" fill="#2f3284"/>
<ellipse cx="482.7" cy="463.1" rx="1.45" ry="1.20" fill="#2f3284"/>
<ellipse cx="489.8" cy="457.2" rx="1.45" ry="1.20" fill="#2f3284"/>
<ellipse cx="484.2" cy="446.2" rx="1.45" ry="1.20" fill="#2f3284"/>
<ellipse cx="493.6" cy="478.3" rx="1.45" ry="1.20" fill="#2f3284"/>
<ellipse cx="483.2" cy="456.5" rx="1.45" ry="1.20" fill="#2f3284"/>
<ellipse cx="500.8" cy="480.3" rx="1.45" ry="1.20" fill="#2f3284"/>
<ellipse cx="485.5" cy="438.3" rx="1.45" ry="1.20" fill="#2f3284"/>
<ellipse cx="504.3" cy="480.8" rx="1.45" ry="1.20" fill="#2f3284"/>
<ellipse cx="492.7" cy="434.7" rx="1.45" ry="1.20" fill="#2f3284"/>
<ellipse cx="503.8" cy="451.4" rx="1.45" ry="1.20" fill="#2f3284"/>
<ellipse cx="498.3" cy="440.0" rx="1.45" ry="1.20" fill="#2f3284"/>
<ellipse cx="493.1" cy="474.3" rx="1.45" ry="1.20" fill="#2f3284"/>
<ellipse cx="492.7" cy="452.0" rx="1.45" ry="1.20" fill="#2f3284"/>
<ellipse cx="489.1" cy="444.4" rx="1.45" ry="1.20" fill="#2f3284"/>
<ellipse cx="493.7" cy="460.1" rx="1.45" ry="1.20" fill="#2f3284"/>
<ellipse cx="493.9" cy="437.9" rx="1.45" ry="1.20" fill="#2f3284"/>
<ellipse cx="493.1" cy="447.3" rx="1.45" ry="1.20" fill="#2f3284"/>
<ellipse cx="490.0" cy="464.9" rx="1.45" ry="1.20" fill="#2f3284"/>
<ellipse cx="487.9" cy="462.9" rx="1.45" ry="1.20" fill="#2f3284"/>
<ellipse cx="490.9" cy="471.0" rx="1.45" ry="1.20" fill="#2f3284"/>
<ellipse cx="488.9" cy="437.4" rx="1.45" ry="1.20" fill="#2f3284"/>
<ellipse cx="484.0" cy="454.1" rx="1.45" ry="1.20" fill="#2f3284"/>
<ellipse cx="489.7" cy="436.1" rx="1.45" ry="1.20" fill="#2f3284"/>
<ellipse cx="495.4" cy="434.7" rx="1.45" ry="1.20" fill="#2f3284"/>
<ellipse cx="492.5" cy="438.8" rx="1.45" ry="1.20" fill="#2f3284"/>
<ellipse cx="498.9" cy="472.7" rx="1.45" ry="1.20" fill="#2f3284"/>
<ellipse cx="489.0" cy="479.8" rx="1.45" ry="1.20" fill="#2f3284"/>
<ellipse cx="496.3" cy="478.5" rx="1.45" ry="1.20" fill="#2f3284"/>
<ellipse cx="485.7" cy="439.9" rx="1.45" ry="1.20" fill="#2f3284"/>
<ellipse cx="496.6" cy="439.2" rx="1.45" ry="1.20" fill="#2f3284"/>
<ellipse cx="491.6" cy="445.1" rx="1.45" ry="1.20" fill="#2f3284"/>
<ellipse cx="488.2" cy="441.1" rx="1.45" ry="1.20" fill="#2f3284"/>
<ellipse cx="489.2" cy="476.8" rx="1.45" ry="1.20" fill="#2f3284"/>
<ellipse cx="486.2" cy="458.5" rx="1.45" ry="1.20" fill="#2f3284"/>
<ellipse cx="493.8" cy="459.8" rx="1.45" ry="1.20" fill="#2f3284"/>
<ellipse cx="492.0" cy="481.6" rx="1.45" ry="1.20" fill="#2f3284"/>
<ellipse cx="493.6" cy="445.2" rx="1.45" ry="1.20" fill="#2f3284"/>
<ellipse cx="497.2" cy="470.2" rx="1.45" ry="1.20" fill="#2f3284"/>
<ellipse cx="491.6" cy="494.9" rx="1.45" ry="1.20" fill="#2f3284"/>
<ellipse cx="499.2" cy="485.5" rx="1.45" ry="1.20" fill="#2f3284"/>
<ellipse cx="501.2" cy="500.5" rx="1.45" ry="1.20" fill="#2f3284"/>
<ellipse cx="496.6" cy="553.8" rx="1.45" ry="1.20" fill="#2f3284"/>
<ellipse cx="495.3" cy="530.4" rx="1.45" ry="1.20" fill="#2f3284"/>
<ellipse cx="488.4" cy="482.1" rx="1.45" ry="1.20" fill="#2f3284"/>
<ellipse cx="481.4" cy="492.9" rx="1.45" ry="1.20" fill="#2f3284"/>
<ellipse cx="496.0" cy="513.6" rx="1.45" ry="1.20" fill="#2f3284"/>
<ellipse cx="493.4" cy="547.4" rx="1.45" ry="1.20" fill="#2f3284"/>
<ellipse cx="483.8" cy="498.6" rx="1.45" ry="1.20" fill="#2f3284"/>
<ellipse cx="497.0" cy="483.6" rx="1.45" ry="1.20" fill="#2f3284"/>
<ellipse cx="480.6" cy="507.9" rx="1.45" ry="1.20" fill="#2f3284"/>
<ellipse cx="483.2" cy="508.1" rx="1.45" ry="1.20" fill="#2f3284"/>
<ellipse cx="486.2" cy="524.6" rx="1.45" ry="1.20" fill="#2f3284"/>
<ellipse cx="495.3" cy="496.9" rx="1.45" ry="1.20" fill="#2f3284"/>
<ellipse cx="496.2" cy="516.7" rx="1.45" ry="1.20" fill="#2f3284"/>
<ellipse cx="483.9" cy="550.4" rx="1.45" ry="1.20" fill="#2f3284"/>
<ellipse cx="486.6" cy="492.9" rx="1.45" ry="1.20" fill="#2f3284"/>
<ellipse cx="482.9" cy="528.6" rx="1.45" ry="1.20" fill="#2f3284"/>
<ellipse cx="502.5" cy="539.1" rx="1.45" ry="1.20" fill="#2f3284"/>
<ellipse cx="490.6" cy="501.3" rx="1.45" ry="1.20" fill="#2f3284"/>
<ellipse cx="480.8" cy="529.1" rx="1.45" ry="1.20" fill="#2f3284"/>
<ellipse cx="494.7" cy="507.6" rx="1.45" ry="1.20" fill="#2f3284"/>
<ellipse cx="496.8" cy="514.4" rx="1.45" ry="1.20" fill="#2f3284"/>
<ellipse cx="504.1" cy="535.5" rx="1.45" ry="1.20" fill="#2f3284"/>
<ellipse cx="486.8" cy="548.0" rx="1.45" ry="1.20" fill="#2f3284"/>
<ellipse cx="481.6" cy="520.8" rx="1.45" ry="1.20" fill="#2f3284"/>
<ellipse cx="490.7" cy="499.3" rx="1.45" ry="1.20" fill="#2f3284"/>
<ellipse cx="482.0" cy="538.9" rx="1.45" ry="1.20" fill="#2f3284"/>
<ellipse cx="480.8" cy="522.2" rx="1.45" ry="1.20" fill="#2f3284"/>
<ellipse cx="504.2" cy="492.4" rx="1.45" ry="1.20" fill="#2f3284"/>
<ellipse cx="485.5" cy="526.4" rx="1.45" ry="1.20" fill="#2f3284"/>
<ellipse cx="493.3" cy="528.8" rx="1.45" ry="1.20" fill="#2f3284"/>
<ellipse cx="501.0" cy="494.7" rx="1.45" ry="1.20" fill="#2f3284"/>
<ellipse cx="488.3" cy="503.9" rx="1.45" ry="1.20" fill="#2f3284"/>
<ellipse cx="481.7" cy="546.9" rx="1.45" ry="1.20" fill="#2f3284"/>
<ellipse cx="500.2" cy="534.2" rx="1.45" ry="1.20" fill="#2f3284"/>
<ellipse cx="480.7" cy="543.6" rx="1.45" ry="1.20" fill="#2f3284"/>
<ellipse cx="499.3" cy="516.0" rx="1.45" ry="1.20" fill="#2f3284"/>
<ellipse cx="499.2" cy="515.0" rx="1.45" ry="1.20" fill="#2f3284"/>
<ellipse cx="486.2" cy="489.7" rx="1.45" ry="1.20" fill="#2f3284"/>
<ellipse cx="486.4" cy="484.8" rx="1.45" ry="1.20" fill="#2f3284"/>
<ellipse cx="489.0" cy="536.7" rx="1.45" ry="1.20" fill="#2f3284"/>
<ellipse cx="498.0" cy="543.7" rx="1.45" ry="1.20" fill="#2f3284"/>
<ellipse cx="498.4" cy="501.4" rx="1.45" ry="1.20" fill="#2f3284"/>
<ellipse cx="494.5" cy="513.8" rx="1.45" ry="1.20" fill="#2f3284"/>
<ellipse cx="500.4" cy="520.2" rx="1.45" ry="1.20" fill="#2f3284"/>
<ellipse cx="487.2" cy="528.9" rx="1.45" ry="1.20" fill="#2f3284"/>
<ellipse cx="504.8" cy="497.8" rx="1.45" ry="1.20" fill="#2f3284"/>
<ellipse cx="502.7" cy="483.1" rx="1.45" ry="1.20" fill="#2f3284"/>
<ellipse cx="487.1" cy="499.2" rx="1.45" ry="1.20" fill="#2f3284"/>
<ellipse cx="499.2" cy="551.0" rx="1.45" ry="1.20" fill="#2f3284"/>
<ellipse cx="499.3" cy="505.9" rx="1.45" ry="1.20" fill="#2f3284"/>
<ellipse cx="502.7" cy="506.0" rx="1.45" ry="1.20" fill="#2f3284"/>
<ellipse cx="486.5" cy="548.3" rx="1.45" ry="1.20" fill="#2f3284"/>
<ellipse cx="496.4" cy="532.6" rx="1.45" ry="1.20" fill="#2f3284"/>
<ellipse cx="497.3" cy="553.5" rx="1.45" ry="1.20" fill="#2f3284"/>
<ellipse cx="492.3" cy="543.3" rx="1.45" ry="1.20" fill="#2f3284"/>
<ellipse cx="498.1" cy="544.6" rx="1.45" ry="1.20" fill="#2f3284"/>
<ellipse cx="491.5" cy="534.9" rx="1.45" ry="1.20" fill="#2f3284"/>
<ellipse cx="494.9" cy="504.5" rx="1.45" ry="1.20" fill="#2f3284"/>
<ellipse cx="485.8" cy="527.5" rx="1.45" ry="1.20" fill="#2f3284"/>
<ellipse cx="482.5" cy="548.5" rx="1.45" ry="1.20" fill="#2f3284"/>
<ellipse cx="484.1" cy="484.0" rx="1.45" ry="1.20" fill="#2f3284"/>
<ellipse cx="483.2" cy="549.8" rx="1.45" ry="1.20" fill="#2f3284"/>
<ellipse cx="489.2" cy="492.4" rx="1.45" ry="1.20" fill="#2f3284"/>
<ellipse cx="481.2" cy="485.0" rx="1.45" ry="1.20" fill="#2f3284"/>
<ellipse cx="498.0" cy="528.3" rx="1.45" ry="1.20" fill="#2f3284"/>
<ellipse cx="498.1" cy="535.8" rx="1.45" ry="1.20" fill="#2f3284"/>
<ellipse cx="482.2" cy="525.1" rx="1.45" ry="1.20" fill="#2f3284"/>
<ellipse cx="489.7" cy="541.7" rx="1.45" ry="1.20" fill="#2f3284"/>
<ellipse cx="501.2" cy="547.1" rx="1.45" ry="1.20" fill="#2f3284"/>
<ellipse cx="482.2" cy="545.3" rx="1.45" ry="1.20" fill="#2f3284"/>
<ellipse cx="503.5" cy="550.9" rx="1.45" ry="1.20" fill="#2f3284"/>
<ellipse cx="483.2" cy="497.0" rx="1.45" ry="1.20" fill="#2f3284"/>
<ellipse cx="483.3" cy="484.5" rx="1.45" ry="1.20" fill="#2f3284"/>
<ellipse cx="501.9" cy="541.3" rx="1.45" ry="1.20" fill="#2f3284"/>
<ellipse cx="496.5" cy="542.2" rx="1.45" ry="1.20" fill="#2f3284"/>
<ellipse cx="496.4" cy="503.0" rx="1.45" ry="1.20" fill="#2f3284"/>
<ellipse cx="483.0" cy="489.1" rx="1.45" ry="1.20" fill="#2f3284"/>
<ellipse cx="499.6" cy="497.0" rx="1.45" ry="1.20" fill="#2f3284"/>
<ellipse cx="488.5" cy="512.9" rx="1.45" ry="1.20" fill="#2f3284"/>
<ellipse cx="481.0" cy="500.7" rx="1.45" ry="1.20" fill="#2f3284"/>
<ellipse cx="487.6" cy="534.3" rx="1.45" ry="1.20" fill="#2f3284"/>
<ellipse cx="489.8" cy="505.4" rx="1.45" ry="1.20" fill="#2f3284"/>
<ellipse cx="504.8" cy="518.8" rx="1.45" ry="1.20" fill="#2f3284"/>
<ellipse cx="502.0" cy="527.1" rx="1.45" ry="1.20" fill="#2f3284"/>
<ellipse cx="481.3" cy="512.1" rx="1.45" ry="1.20" fill="#2f3284"/>
<ellipse cx="491.5" cy="538.4" rx="1.45" ry="1.20" fill="#2f3284"/>
<ellipse cx="489.2" cy="533.4" rx="1.45" ry="1.20" fill="#2f3284"/>
<ellipse cx="494.1" cy="497.8" rx="1.45" ry="1.20" fill="#2f3284"/>
<ellipse cx="502.2" cy="488.6" rx="1.45" ry="1.20" fill="#2f3284"/>
<ellipse cx="501.2" cy="494.4" rx="1.45" ry="1.20" fill="#2f3284"/>
<ellipse cx="480.5" cy="496.7" rx="1.45" ry="1.20" fill="#2f3284"/>
<ellipse cx="499.7" cy="553.4" rx="1.45" ry="1.20" fill="#2f3284"/>
<ellipse cx="481.4" cy="579.7" rx="1.45" ry="1.20" fill="#2f3284"/>
<ellipse cx="485.4" cy="580.8" rx="1.45" ry="1.20" fill="#2f3284"/>
<ellipse cx="488.0" cy="561.7" rx="1.45" ry="1.20" fill="#2f3284"/>
<ellipse cx="497.0" cy="574.7" rx="1.45" ry="1.20" fill="#2f3284"/>
<ellipse cx="484.3" cy="579.4" rx="1.45" ry="1.20" fill="#2f3284"/>
<ellipse cx="495.6" cy="567.2" rx="1.45" ry="1.20" fill="#2f3284"/>
<ellipse cx="502.2" cy="555.8" rx="1.45" ry="1.20" fill="#2f3284"/>
<ellipse cx="486.5" cy="570.5" rx="1.45" ry="1.20" fill="#2f3284"/>
<ellipse cx="490.5" cy="569.3" rx="1.45" ry="1.20" fill="#2f3284"/>
<ellipse cx="494.9" cy="575.0" rx="1.45" ry="1.20" fill="#2f3284"/>
<ellipse cx="488.5" cy="581.1" rx="1.45" ry="1.20" fill="#2f3284"/>
<ellipse cx="496.7" cy="568.6" rx="1.45" ry="1.20" fill="#2f3284"/>
<ellipse cx="498.9" cy="569.3" rx="1.45" ry="1.20" fill="#2f3284"/>
<ellipse cx="501.0" cy="564.3" rx="1.45" ry="1.20" fill="#2f3284"/>
<ellipse cx="497.9" cy="559.8" rx="1.45" ry="1.20" fill="#2f3284"/>
<ellipse cx="486.9" cy="560.0" rx="1.45" ry="1.20" fill="#2f3284"/>
<ellipse cx="489.4" cy="577.6" rx="1.45" ry="1.20" fill="#2f3284"/>
<ellipse cx="483.9" cy="566.9" rx="1.45" ry="1.20" fill="#2f3284"/>
<ellipse cx="505.5" cy="568.5" rx="1.45" ry="1.20" fill="#2f3284"/>
<ellipse cx="485.4" cy="561.4" rx="1.45" ry="1.20" fill="#2f3284"/>
<ellipse cx="489.3" cy="579.5" rx="1.45" ry="1.20" fill="#2f3284"/>
<ellipse cx="497.9" cy="569.4" rx="1.45" ry="1.20" fill="#2f3284"/>
<ellipse cx="484.7" cy="578.0" rx="1.45" ry="1.20" fill="#2f3284"/>
<ellipse cx="502.7" cy="578.2" rx="1.45" ry="1.20" fill="#2f3284"/>
<ellipse cx="491.1" cy="582.3" rx="1.45" ry="1.20" fill="#2f3284"/>
<ellipse cx="500.7" cy="576.1" rx="1.45" ry="1.20" fill="#2f3284"/>
<ellipse cx="495.9" cy="574.5" rx="1.45" ry="1.20" fill="#2f3284"/>
<ellipse cx="484.1" cy="577.1" rx="1.45" ry="1.20" fill="#2f3284"/>
<ellipse cx="495.5" cy="569.1" rx="1.45" ry="1.20" fill="#2f3284"/>
<ellipse cx="496.1" cy="583.8" rx="1.45" ry="1.20" fill="#2f3284"/>
<ellipse cx="486.6" cy="567.0" rx="1.45" ry="1.20" fill="#2f3284"/>
<ellipse cx="492.9" cy="571.8" rx="1.45" ry="1.20" fill="#2f3284"/>
<ellipse cx="486.6" cy="571.1" rx="1.45" ry="1.20" fill="#2f3284"/>
<ellipse cx="484.0" cy="577.2" rx="1.45" ry="1.20" fill="#2f3284"/>
<ellipse cx="494.4" cy="571.2" rx="1.45" ry="1.20" fill="#2f3284"/>
<ellipse cx="491.3" cy="576.2" rx="1.45" ry="1.20" fill="#2f3284"/>
<ellipse cx="490.3" cy="585.5" rx="1.45" ry="1.20" fill="#2f3284"/>
<ellipse cx="488.3" cy="567.4" rx="1.45" ry="1.20" fill="#2f3284"/>
<ellipse cx="481.3" cy="576.6" rx="1.45" ry="1.20" fill="#2f3284"/>
<ellipse cx="488.6" cy="578.0" rx="1.45" ry="1.20" fill="#2f3284"/>
<ellipse cx="502.9" cy="579.8" rx="1.45" ry="1.20" fill="#2f3284"/>
<ellipse cx="489.2" cy="579.1" rx="1.45" ry="1.20" fill="#2f3284"/>
<ellipse cx="500.6" cy="572.4" rx="1.45" ry="1.20" fill="#2f3284"/>
<ellipse cx="487.3" cy="574.8" rx="1.45" ry="1.20" fill="#2f3284"/>
<ellipse cx="501.2" cy="564.1" rx="1.45" ry="1.20" fill="#2f3284"/>
<ellipse cx="494.1" cy="566.0" rx="1.45" ry="1.20" fill="#2f3284"/>
<ellipse cx="500.6" cy="562.9" rx="1.45" ry="1.20" fill="#2f3284"/>
<ellipse cx="489.7" cy="577.4" rx="1.45" ry="1.20" fill="#2f3284"/>
<ellipse cx="487.0" cy="569.9" rx="1.45" ry="1.20" fill="#2f3284"/>
<ellipse cx="492.0" cy="566.2" rx="1.45" ry="1.20" fill="#2f3284"/>
<ellipse cx="503.0" cy="580.7" rx="1.45" ry="1.20" fill="#2f3284"/>
<ellipse cx="502.5" cy="580.8" rx="1.45" ry="1.20" fill="#2f3284"/>
<ellipse cx="494.2" cy="584.5" rx="1.45" ry="1.20" fill="#2f3284"/>
<ellipse cx="495.4" cy="559.4" rx="1.45" ry="1.20" fill="#2f3284"/>
<ellipse cx="487.1" cy="559.7" rx="1.45" ry="1.20" fill="#2f3284"/>
<ellipse cx="502.5" cy="582.6" rx="1.45" ry="1.20" fill="#2f3284"/>
<ellipse cx="496.6" cy="582.7" rx="1.45" ry="1.20" fill="#2f3284"/>
<ellipse cx="499.9" cy="576.5" rx="1.45" ry="1.20" fill="#2f3284"/>
<ellipse cx="494.2" cy="582.4" rx="1.45" ry="1.20" fill="#2f3284"/>
<ellipse cx="493.4" cy="559.3" rx="1.45" ry="1.20" fill="#2f3284"/>
<ellipse cx="492.0" cy="559.5" rx="1.45" ry="1.20" fill="#2f3284"/>
<ellipse cx="493.0" cy="581.7" rx="1.45" ry="1.20" fill="#2f3284"/>
<ellipse cx="482.2" cy="572.4" rx="1.45" ry="1.20" fill="#2f3284"/>
<ellipse cx="497.4" cy="568.0" rx="1.45" ry="1.20" fill="#2f3284"/>
<ellipse cx="503.3" cy="574.7" rx="1.45" ry="1.20" fill="#2f3284"/>
<ellipse cx="482.6" cy="583.9" rx="1.45" ry="1.20" fill="#2f3284"/>
<ellipse cx="490.1" cy="570.0" rx="1.45" ry="1.20" fill="#2f3284"/>
<ellipse cx="501.9" cy="574.4" rx="1.45" ry="1.20" fill="#2f3284"/>
<ellipse cx="489.8" cy="569.7" rx="1.45" ry="1.20" fill="#2f3284"/>
<ellipse cx="493.7" cy="568.5" rx="1.45" ry="1.20" fill="#2f3284"/>
<ellipse cx="492.1" cy="564.1" rx="1.45" ry="1.20" fill="#2f3284"/>
<ellipse cx="500.6" cy="563.4" rx="1.45" ry="1.20" fill="#2f3284"/>
<ellipse cx="494.6" cy="579.6" rx="1.45" ry="1.20" fill="#2f3284"/>
<ellipse cx="488.3" cy="573.2" rx="1.45" ry="1.20" fill="#2f3284"/>
<ellipse cx="495.9" cy="577.4" rx="1.45" ry="1.20" fill="#2f3284"/>
<ellipse cx="501.3" cy="564.3" rx="1.45" ry="1.20" fill="#2f3284"/>
<ellipse cx="481.7" cy="573.9" rx="1.45" ry="1.20" fill="#2f3284"/>
<ellipse cx="498.3" cy="574.0" rx="1.45" ry="1.20" fill="#2f3284"/>
<ellipse cx="496.5" cy="573.5" rx="1.45" ry="1.20" fill="#2f3284"/>
<ellipse cx="497.1" cy="569.2" rx="1.45" ry="1.20" fill="#2f3284"/>
<ellipse cx="497.8" cy="556.1" rx="1.45" ry="1.20" fill="#2f3284"/>
<ellipse cx="500.7" cy="566.4" rx="1.45" ry="1.20" fill="#2f3284"/>
<ellipse cx="501.4" cy="563.0" rx="1.45" ry="1.20" fill="#2f3284"/>
<ellipse cx="487.9" cy="568.4" rx="1.45" ry="1.20" fill="#2f3284"/>
<ellipse cx="496.4" cy="572.6" rx="1.45" ry="1.20" fill="#2f3284"/>
<ellipse cx="482.1" cy="572.8" rx="1.45" ry="1.20" fill="#2f3284"/>
<ellipse cx="501.8" cy="567.0" rx="1.45" ry="1.20" fill="#2f3284"/>
<ellipse cx="497.2" cy="569.7" rx="1.45" ry="1.20" fill="#2f3284"/>
<ellipse cx="490.5" cy="561.6" rx="1.45" ry="1.20" fill="#2f3284"/>
<ellipse cx="482.9" cy="576.2" rx="1.45" ry="1.20" fill="#2f3284"/>
<ellipse cx="484.3" cy="582.0" rx="1.45" ry="1.20" fill="#2f3284"/>
<ellipse cx="483.9" cy="562.5" rx="1.45" ry="1.20" fill="#2f3284"/>
<ellipse cx="497.0" cy="579.0" rx="1.45" ry="1.20" fill="#2f3284"/>
<ellipse cx="499.3" cy="557.6" rx="1.45" ry="1.20" fill="#2f3284"/>
<ellipse cx="496.5" cy="583.9" rx="1.45" ry="1.20" fill="#2f3284"/>
<ellipse cx="488.7" cy="555.4" rx="1.45" ry="1.20" fill="#2f3284"/>
<ellipse cx="482.7" cy="557.5" rx="1.45" ry="1.20" fill="#2f3284"/>
<ellipse cx="488.5" cy="581.7" rx="1.45" ry="1.20" fill="#2f3284"/>
<ellipse cx="491.6" cy="572.8" rx="1.45" ry="1.20" fill="#2f3284"/>
<ellipse cx="491.3" cy="579.7" rx="1.45" ry="1.20" fill="#2f3284"/>
<ellipse cx="490.5" cy="568.0" rx="1.45" ry="1.20" fill="#2f3284"/>
<ellipse cx="491.9" cy="579.3" rx="1.45" ry="1.20" fill="#2f3284"/>
<ellipse cx="493.3" cy="585.2" rx="1.45" ry="1.20" fill="#2f3284"/>
<ellipse cx="498.2" cy="573.8" rx="1.45" ry="1.20" fill="#2f3284"/>
<ellipse cx="505.2" cy="564.6" rx="1.45" ry="1.20" fill="#2f3284"/>
<ellipse cx="492.0" cy="576.2" rx="1.45" ry="1.20" fill="#2f3284"/>
<ellipse cx="496.9" cy="563.8" rx="1.45" ry="1.20" fill="#2f3284"/>
<ellipse cx="480.8" cy="573.2" rx="1.45" ry="1.20" fill="#2f3284"/>
<ellipse cx="500.4" cy="580.8" rx="1.45" ry="1.20" fill="#2f3284"/>
<ellipse cx="501.3" cy="563.5" rx="1.45" ry="1.20" fill="#2f3284"/>
<ellipse cx="502.4" cy="583.3" rx="1.45" ry="1.20" fill="#2f3284"/>
<ellipse cx="488.8" cy="579.7" rx="1.45" ry="1.20" fill="#2f3284"/>
<ellipse cx="487.5" cy="562.3" rx="1.45" ry="1.20" fill="#2f3284"/>
<ellipse cx="495.9" cy="561.4" rx="1.45" ry="1.20" fill="#2f3284"/>
<ellipse cx="488.5" cy="569.3" rx="1.45" ry="1.20" fill="#2f3284"/>
<ellipse cx="484.6" cy="562.2" rx="1.45" ry="1.20" fill="#2f3284"/>
<ellipse cx="496.6" cy="571.2" rx="1.45" ry="1.20" fill="#2f3284"/>
<ellipse cx="492.1" cy="561.0" rx="1.45" ry="1.20" fill="#2f3284"/>
<ellipse cx="485.7" cy="572.5" rx="1.45" ry="1.20" fill="#2f3284"/>
<ellipse cx="490.1" cy="556.4" rx="1.45" ry="1.20" fill="#2f3284"/>
<ellipse cx="503.7" cy="574.6" rx="1.45" ry="1.20" fill="#2f3284"/>
<ellipse cx="499.3" cy="565.7" rx="1.45" ry="1.20" fill="#2f3284"/>
<ellipse cx="491.6" cy="585.7" rx="1.45" ry="1.20" fill="#2f3284"/>
<ellipse cx="501.8" cy="563.1" rx="1.45" ry="1.20" fill="#2f3284"/>
<ellipse cx="500.4" cy="578.8" rx="1.45" ry="1.20" fill="#2f3284"/>
<ellipse cx="501.0" cy="556.2" rx="1.45" ry="1.20" fill="#2f3284"/>
<ellipse cx="484.6" cy="556.6" rx="1.45" ry="1.20" fill="#2f3284"/>
<ellipse cx="495.1" cy="584.4" rx="1.45" ry="1.20" fill="#2f3284"/>
<ellipse cx="502.0" cy="567.3" rx="1.45" ry="1.20" fill="#2f3284"/>
<ellipse cx="484.6" cy="572.5" rx="1.45" ry="1.20" fill="#2f3284"/>
<ellipse cx="497.7" cy="567.2" rx="1.45" ry="1.20" fill="#2f3284"/>
<ellipse cx="492.1" cy="585.7" rx="1.45" ry="1.20" fill="#2f3284"/>
<ellipse cx="485.1" cy="565.9" rx="1.45" ry="1.20" fill="#2f3284"/>
<ellipse cx="504.1" cy="556.5" rx="1.45" ry="1.20" fill="#2f3284"/>
<ellipse cx="500.6" cy="585.5" rx="1.45" ry="1.20" fill="#2f3284"/>
<ellipse cx="482.5" cy="584.1" rx="1.45" ry="1.20" fill="#2f3284"/>
<ellipse cx="497.0" cy="578.5" rx="1.45" ry="1.20" fill="#2f3284"/>
<ellipse cx="483.0" cy="558.8" rx="1.45" ry="1.20" fill="#2f3284"/>
<ellipse cx="491.4" cy="559.4" rx="1.45" ry="1.20" fill="#2f3284"/>
<ellipse cx="496.7" cy="561.0" rx="1.45" ry="1.20" fill="#2f3284"/>
<ellipse cx="482.5" cy="584.0" rx="1.45" ry="1.20" fill="#2f3284"/>
<ellipse cx="501.8" cy="568.9" rx="1.45" ry="1.20" fill="#2f3284"/>
<ellipse cx="485.2" cy="574.5" rx="1.45" ry="1.20" fill="#2f3284"/>
<ellipse cx="492.3" cy="569.8" rx="1.45" ry="1.20" fill="#2f3284"/>
<ellipse cx="494.8" cy="556.8" rx="1.45" ry="1.20" fill="#2f3284"/>
<ellipse cx="497.5" cy="582.0" rx="1.45" ry="1.20" fill="#2f3284"/>
<ellipse cx="486.7" cy="563.4" rx="1.45" ry="1.20" fill="#2f3284"/>
<ellipse cx="500.0" cy="570.2" rx="1.45" ry="1.20" fill="#2f3284"/>
<ellipse cx="488.9" cy="585.3" rx="1.45" ry="1.20" fill="#2f3284"/>
<ellipse cx="483.9" cy="561.5" rx="1.45" ry="1.20" fill="#2f3284"/>
<ellipse cx="491.6" cy="561.3" rx="1.45" ry="1.20" fill="#2f3284"/>
<ellipse cx="492.0" cy="583.7" rx="1.45" ry="1.20" fill="#2f3284"/>
<ellipse cx="484.0" cy="556.8" rx="1.45" ry="1.20" fill="#2f3284"/>
<ellipse cx="499.0" cy="555.5" rx="1.45" ry="1.20" fill="#2f3284"/>
<ellipse cx="499.2" cy="555.1" rx="1.45" ry="1.20" fill="#2f3284"/>
<ellipse cx="500.3" cy="568.5" rx="1.45" ry="1.20" fill="#2f3284"/>
<ellipse cx="502.3" cy="559.3" rx="1.45" ry="1.20" fill="#2f3284"/>
<ellipse cx="486.6" cy="561.1" rx="1.45" ry="1.20" fill="#2f3284"/>
<ellipse cx="482.6" cy="570.4" rx="1.45" ry="1.20" fill="#2f3284"/>
<ellipse cx="487.4" cy="576.9" rx="1.45" ry="1.20" fill="#2f3284"/>
<ellipse cx="500.0" cy="557.0" rx="1.45" ry="1.20" fill="#2f3284"/>
<ellipse cx="498.8" cy="556.7" rx="1.45" ry="1.20" fill="#2f3284"/>
<ellipse cx="500.8" cy="581.8" rx="1.45" ry="1.20" fill="#2f3284"/>
<ellipse cx="492.8" cy="569.8" rx="1.45" ry="1.20" fill="#2f3284"/>
<ellipse cx="500.7" cy="580.8" rx="1.45" ry="1.20" fill="#2f3284"/>
<ellipse cx="489.0" cy="573.4" rx="1.45" ry="1.20" fill="#2f3284"/>
<ellipse cx="481.4" cy="571.0" rx="1.45" ry="1.20" fill="#2f3284"/>
<ellipse cx="485.3" cy="581.8" rx="1.45" ry="1.20" fill="#2f3284"/>
<ellipse cx="489.1" cy="578.3" rx="1.45" ry="1.20" fill="#2f3284"/>
<ellipse cx="484.5" cy="570.3" rx="1.45" ry="1.20" fill="#2f3284"/>
<ellipse cx="493.6" cy="555.6" rx="1.45" ry="1.20" fill="#2f3284"/>
<ellipse cx="502.8" cy="558.2" rx="1.45" ry="1.20" fill="#2f3284"/>
<ellipse cx="486.9" cy="558.0" rx="1.45" ry="1.20" fill="#2f3284"/>
<ellipse cx="496.1" cy="573.6" rx="1.45" ry="1.20" fill="#2f3284"/>
<ellipse cx="495.4" cy="558.2" rx="1.45" ry="1.20" fill="#2f3284"/>
<ellipse cx="501.3" cy="558.8" rx="1.45" ry="1.20" fill="#2f3284"/>
<ellipse cx="492.5" cy="558.8" rx="1.45" ry="1.20" fill="#2f3284"/>
<ellipse cx="490.3" cy="581.7" rx="1.45" ry="1.20" fill="#2f3284"/>
<ellipse cx="485.5" cy="560.1" rx="1.45" ry="1.20" fill="#2f3284"/>
<ellipse cx="501.4" cy="568.0" rx="1.45" ry="1.20" fill="#2f3284"/>
<ellipse cx="500.9" cy="584.2" rx="1.45" ry="1.20" fill="#2f3284"/>
<ellipse cx="498.7" cy="565.4" rx="1.45" ry="1.20" fill="#2f3284"/>
<ellipse cx="493.2" cy="583.3" rx="1.45" ry="1.20" fill="#2f3284"/>
<ellipse cx="500.3" cy="571.0" rx="1.45" ry="1.20" fill="#2f3284"/>
<ellipse cx="504.2" cy="568.1" rx="1.45" ry="1.20" fill="#2f3284"/>
<ellipse cx="496.0" cy="557.1" rx="1.45" ry="1.20" fill="#2f3284"/>
<ellipse cx="490.5" cy="559.3" rx="1.45" ry="1.20" fill="#2f3284"/>
<ellipse cx="505.6" cy="574.6" rx="1.45" ry="1.20" fill="#2f3284"/>
<ellipse cx="501.9" cy="556.1" rx="1.45" ry="1.20" fill="#2f3284"/>
<ellipse cx="496.3" cy="563.5" rx="1.45" ry="1.20" fill="#2f3284"/>
<ellipse cx="495.2" cy="562.8" rx="1.45" ry="1.20" fill="#2f3284"/>
<ellipse cx="494.4" cy="563.9" rx="1.45" ry="1.20" fill="#2f3284"/>
<ellipse cx="488.1" cy="573.4" rx="1.45" ry="1.20" fill="#2f3284"/>
<ellipse cx="503.3" cy="569.5" rx="1.45" ry="1.20" fill="#2f3284"/>
<ellipse cx="492.4" cy="559.1" rx="1.45" ry="1.20" fill="#2f3284"/>
<ellipse cx="487.6" cy="562.5" rx="1.45" ry="1.20" fill="#2f3284"/>
<ellipse cx="484.2" cy="573.9" rx="1.45" ry="1.20" fill="#2f3284"/>
<ellipse cx="494.4" cy="577.0" rx="1.45" ry="1.20" fill="#2f3284"/>
<ellipse cx="492.5" cy="569.5" rx="1.45" ry="1.20" fill="#2f3284"/>
<ellipse cx="487.5" cy="570.9" rx="1.45" ry="1.20" fill="#2f3284"/>
<ellipse cx="489.5" cy="565.9" rx="1.45" ry="1.20" fill="#2f3284"/>
<ellipse cx="501.2" cy="570.2" rx="1.45" ry="1.20" fill="#2f3284"/>
<ellipse cx="488.6" cy="578.9" rx="1.45" ry="1.20" fill="#2f3284"/>
<ellipse cx="485.0" cy="568.6" rx="1.45" ry="1.20" fill="#2f3284"/>
<ellipse cx="482.5" cy="577.8" rx="1.45" ry="1.20" fill="#2f3284"/>
<ellipse cx="484.3" cy="577.9" rx="1.45" ry="1.20" fill="#2f3284"/>
<ellipse cx="484.4" cy="575.9" rx="1.45" ry="1.20" fill="#2f3284"/>
<ellipse cx="497.2" cy="571.1" rx="1.45" ry="1.20" fill="#2f3284"/>
<ellipse cx="499.7" cy="569.7" rx="1.45" ry="1.20" fill="#2f3284"/>
<ellipse cx="501.1" cy="558.9" rx="1.45" ry="1.20" fill="#2f3284"/>
<ellipse cx="501.3" cy="573.2" rx="1.45" ry="1.20" fill="#2f3284"/>
<ellipse cx="494.2" cy="568.0" rx="1.45" ry="1.20" fill="#2f3284"/>
<ellipse cx="500.7" cy="566.8" rx="1.45" ry="1.20" fill="#2f3284"/>
<ellipse cx="492.4" cy="564.1" rx="1.45" ry="1.20" fill="#2f3284"/>
<ellipse cx="490.4" cy="565.0" rx="1.45" ry="1.20" fill="#2f3284"/>
<ellipse cx="500.6" cy="568.8" rx="1.45" ry="1.20" fill="#2f3284"/>
<ellipse cx="484.6" cy="572.8" rx="1.45" ry="1.20" fill="#2f3284"/>
<ellipse cx="495.0" cy="565.0" rx="1.45" ry="1.20" fill="#2f3284"/>
<ellipse cx="502.8" cy="561.3" rx="1.45" ry="1.20" fill="#2f3284"/>
<ellipse cx="491.2" cy="556.5" rx="1.45" ry="1.20" fill="#2f3284"/>
<ellipse cx="495.5" cy="579.0" rx="1.45" ry="1.20" fill="#2f3284"/>
<ellipse cx="495.1" cy="571.0" rx="1.45" ry="1.20" fill="#2f3284"/>
<ellipse cx="496.9" cy="573.4" rx="1.45" ry="1.20" fill="#2f3284"/>
<ellipse cx="490.9" cy="571.3" rx="1.45" ry="1.20" fill="#2f3284"/>
<ellipse cx="483.2" cy="572.4" rx="1.45" ry="1.20" fill="#2f3284"/>
<ellipse cx="496.6" cy="570.1" rx="1.45" ry="1.20" fill="#2f3284"/>
<ellipse cx="493.0" cy="565.6" rx="1.45" ry="1.20" fill="#2f3284"/>
<ellipse cx="493.8" cy="564.9" rx="1.45" ry="1.20" fill="#2f3284"/>
<ellipse cx="505.0" cy="558.4" rx="1.45" ry="1.20" fill="#2f3284"/>
<ellipse cx="503.4" cy="585.7" rx="1.45" ry="1.20" fill="#2f3284"/>
<ellipse cx="502.9" cy="588.5" rx="1.45" ry="1.20" fill="#2f3284"/>
<ellipse cx="484.4" cy="587.7" rx="1.45" ry="1.20" fill="#2f3284"/>
<ellipse cx="493.4" cy="589.0" rx="1.45" ry="1.20" fill="#2f3284"/>
<ellipse cx="485.2" cy="587.1" rx="1.45" ry="1.20" fill="#2f3284"/>
<ellipse cx="496.4" cy="589.6" rx="1.45" ry="1.20" fill="#2f3284"/>
<ellipse cx="489.4" cy="592.0" rx="1.45" ry="1.20" fill="#2f3284"/>
<ellipse cx="496.5" cy="586.3" rx="1.45" ry="1.20" fill="#2f3284"/>
<ellipse cx="490.9" cy="590.7" rx="1.45" ry="1.20" fill="#2f3284"/>
<ellipse cx="488.2" cy="590.1" rx="1.45" ry="1.20" fill="#2f3284"/>
<ellipse cx="480.6" cy="587.8" rx="1.45" ry="1.20" fill="#2f3284"/>
<ellipse cx="501.7" cy="589.5" rx="1.45" ry="1.20" fill="#2f3284"/>
<ellipse cx="497.3" cy="587.2" rx="1.45" ry="1.20" fill="#2f3284"/>
<ellipse cx="493.0" cy="589.3" rx="1.45" ry="1.20" fill="#2f3284"/>
<ellipse cx="487.2" cy="589.9" rx="1.45" ry="1.20" fill="#2f3284"/>
<ellipse cx="493.9" cy="592.0" rx="1.45" ry="1.20" fill="#2f3284"/>
<path d="M483.6,434.5 L487.1,440.5 L480.2,440.5 Z" fill="none" stroke="#2f3284" stroke-width="0.95" stroke-linejoin="miter"/>
<path d="M488.5,433.0 L491.9,439.0 L485.1,439.0 Z" fill="none" stroke="#2f3284" stroke-width="0.95" stroke-linejoin="miter"/>
<path d="M481.8,447.0 L485.2,453.0 L478.4,453.0 Z" fill="none" stroke="#2f3284" stroke-width="0.95" stroke-linejoin="miter"/>
<path d="M489.5,444.0 L492.9,450.0 L486.1,450.0 Z" fill="none" stroke="#2f3284" stroke-width="0.95" stroke-linejoin="miter"/>
<path d="M494.0,448.0 L497.4,454.0 L490.6,454.0 Z" fill="none" stroke="#2f3284" stroke-width="0.95" stroke-linejoin="miter"/>
<path d="M487.7,457.0 L491.1,463.0 L484.2,463.0 Z" fill="none" stroke="#2f3284" stroke-width="0.95" stroke-linejoin="miter"/>
<path d="M503.5,459.0 L506.9,465.0 L500.1,465.0 Z" fill="none" stroke="#2f3284" stroke-width="0.95" stroke-linejoin="miter"/>
<path d="M497.5,463.0 L500.9,469.0 L494.1,469.0 Z" fill="none" stroke="#2f3284" stroke-width="0.95" stroke-linejoin="miter"/>
<path d="M484.0,465.0 L487.4,471.0 L480.6,471.0 Z" fill="none" stroke="#2f3284" stroke-width="0.95" stroke-linejoin="miter"/>
<path d="M496.0,469.0 L499.4,475.0 L492.6,475.0 Z" fill="none" stroke="#2f3284" stroke-width="0.95" stroke-linejoin="miter"/>
<path d="M481.0,491.5 L484.4,497.5 L477.6,497.5 Z" fill="none" stroke="#2f3284" stroke-width="0.95" stroke-linejoin="miter"/>
<path d="M497.5,496.0 L500.9,502.0 L494.1,502.0 Z" fill="none" stroke="#2f3284" stroke-width="0.95" stroke-linejoin="miter"/>
<path d="M482.0,507.5 L485.4,513.5 L478.6,513.5 Z" fill="none" stroke="#2f3284" stroke-width="0.95" stroke-linejoin="miter"/>
<path d="M487.0,523.0 L490.4,529.0 L483.6,529.0 Z" fill="none" stroke="#2f3284" stroke-width="0.95" stroke-linejoin="miter"/>
<path d="M493.0,524.0 L496.4,530.0 L489.6,530.0 Z" fill="none" stroke="#2f3284" stroke-width="0.95" stroke-linejoin="miter"/>
<path d="M489.5,530.0 L492.9,536.0 L486.1,536.0 Z" fill="none" stroke="#2f3284" stroke-width="0.95" stroke-linejoin="miter"/>
<path d="M484.0,426.0 L487.4,432.0 L480.6,432.0 Z" fill="none" stroke="#2f3284" stroke-width="0.95" stroke-linejoin="miter"/>
<line x1="481.0" y1="601.0" x2="486.0" y2="601.0" stroke="#2f3284" stroke-width="2.0" stroke-linecap="round"/>
<line x1="489.2" y1="601.0" x2="491.0" y2="601.0" stroke="#2f3284" stroke-width="2.0" stroke-linecap="round"/>
<line x1="492.5" y1="601.0" x2="494.7" y2="601.0" stroke="#2f3284" stroke-width="2.0" stroke-linecap="round"/>
<line x1="496.2" y1="601.0" x2="499.0" y2="601.0" stroke="#2f3284" stroke-width="2.0" stroke-linecap="round"/>
<line x1="555.40" y1="532.60" x2="555.40" y2="601.00" stroke="#5d60a8" stroke-width="1.1" />
<rect x="543.50" y="557.40" width="25.50" height="18.70" fill="none" stroke="#2f3284" stroke-width="1.0"/>
<ellipse cx="556.0" cy="507.8" rx="1.57" ry="1.30" fill="#2f3284"/>
<ellipse cx="563.8" cy="507.5" rx="1.57" ry="1.30" fill="#2f3284"/>
<ellipse cx="545.3" cy="516.7" rx="1.57" ry="1.30" fill="#2f3284"/>
<ellipse cx="556.0" cy="517.0" rx="1.57" ry="1.30" fill="#2f3284"/>
<ellipse cx="556.0" cy="521.0" rx="1.57" ry="1.30" fill="#2f3284"/>
<ellipse cx="556.0" cy="525.5" rx="1.57" ry="1.30" fill="#2f3284"/>
<ellipse cx="561.6" cy="521.0" rx="1.57" ry="1.30" fill="#2f3284"/>
<ellipse cx="545.2" cy="525.0" rx="1.57" ry="1.30" fill="#2f3284"/>
<ellipse cx="566.0" cy="526.5" rx="1.57" ry="1.30" fill="#2f3284"/>
<ellipse cx="544.6" cy="532.6" rx="1.57" ry="1.30" fill="#2f3284"/>
<ellipse cx="549.5" cy="535.0" rx="1.57" ry="1.30" fill="#2f3284"/>
<ellipse cx="567.0" cy="535.0" rx="1.57" ry="1.30" fill="#2f3284"/>
<ellipse cx="548.0" cy="538.5" rx="1.57" ry="1.30" fill="#2f3284"/>
<ellipse cx="553.5" cy="538.0" rx="1.57" ry="1.30" fill="#2f3284"/>
<ellipse cx="555.0" cy="541.0" rx="1.57" ry="1.30" fill="#2f3284"/>
<ellipse cx="561.5" cy="538.5" rx="1.57" ry="1.30" fill="#2f3284"/>
<ellipse cx="563.0" cy="541.0" rx="1.57" ry="1.30" fill="#2f3284"/>
<ellipse cx="560.2" cy="546.0" rx="1.57" ry="1.30" fill="#2f3284"/>
<ellipse cx="566.0" cy="545.5" rx="1.57" ry="1.30" fill="#2f3284"/>
<ellipse cx="559.0" cy="540.0" rx="1.57" ry="1.30" fill="#2f3284"/>
<ellipse cx="557.5" cy="548.5" rx="1.45" ry="1.20" fill="#2f3284"/>
<ellipse cx="546.6" cy="545.7" rx="1.45" ry="1.20" fill="#2f3284"/>
<ellipse cx="561.9" cy="545.2" rx="1.45" ry="1.20" fill="#2f3284"/>
<ellipse cx="546.1" cy="545.9" rx="1.45" ry="1.20" fill="#2f3284"/>
<ellipse cx="556.2" cy="553.1" rx="1.45" ry="1.20" fill="#2f3284"/>
<ellipse cx="558.4" cy="552.9" rx="1.45" ry="1.20" fill="#2f3284"/>
<ellipse cx="545.2" cy="544.1" rx="1.45" ry="1.20" fill="#2f3284"/>
<ellipse cx="562.2" cy="547.6" rx="1.45" ry="1.20" fill="#2f3284"/>
<ellipse cx="560.9" cy="547.9" rx="1.45" ry="1.20" fill="#2f3284"/>
<ellipse cx="547.8" cy="546.9" rx="1.45" ry="1.20" fill="#2f3284"/>
<ellipse cx="546.1" cy="553.9" rx="1.45" ry="1.20" fill="#2f3284"/>
<ellipse cx="557.7" cy="547.8" rx="1.45" ry="1.20" fill="#2f3284"/>
<ellipse cx="554.5" cy="548.2" rx="1.45" ry="1.20" fill="#2f3284"/>
<ellipse cx="545.0" cy="553.8" rx="1.45" ry="1.20" fill="#2f3284"/>
<ellipse cx="557.7" cy="554.6" rx="1.45" ry="1.20" fill="#2f3284"/>
<ellipse cx="554.3" cy="550.8" rx="1.45" ry="1.20" fill="#2f3284"/>
<ellipse cx="549.7" cy="544.5" rx="1.45" ry="1.20" fill="#2f3284"/>
<ellipse cx="566.0" cy="553.4" rx="1.45" ry="1.20" fill="#2f3284"/>
<ellipse cx="551.3" cy="553.9" rx="1.45" ry="1.20" fill="#2f3284"/>
<ellipse cx="563.3" cy="547.3" rx="1.45" ry="1.20" fill="#2f3284"/>
<ellipse cx="558.2" cy="554.6" rx="1.45" ry="1.20" fill="#2f3284"/>
<ellipse cx="555.6" cy="554.4" rx="1.45" ry="1.20" fill="#2f3284"/>
<ellipse cx="551.4" cy="559.6" rx="1.45" ry="1.20" fill="#2f3284"/>
<ellipse cx="553.6" cy="571.6" rx="1.45" ry="1.20" fill="#2f3284"/>
<ellipse cx="549.2" cy="558.9" rx="1.45" ry="1.20" fill="#2f3284"/>
<ellipse cx="563.7" cy="557.4" rx="1.45" ry="1.20" fill="#2f3284"/>
<ellipse cx="555.5" cy="556.4" rx="1.45" ry="1.20" fill="#2f3284"/>
<ellipse cx="549.5" cy="560.1" rx="1.45" ry="1.20" fill="#2f3284"/>
<ellipse cx="548.2" cy="555.7" rx="1.45" ry="1.20" fill="#2f3284"/>
<ellipse cx="556.7" cy="569.8" rx="1.45" ry="1.20" fill="#2f3284"/>
<ellipse cx="548.7" cy="557.7" rx="1.45" ry="1.20" fill="#2f3284"/>
<ellipse cx="557.2" cy="558.3" rx="1.45" ry="1.20" fill="#2f3284"/>
<ellipse cx="553.4" cy="575.1" rx="1.45" ry="1.20" fill="#2f3284"/>
<ellipse cx="552.2" cy="559.8" rx="1.45" ry="1.20" fill="#2f3284"/>
<ellipse cx="554.2" cy="560.5" rx="1.45" ry="1.20" fill="#2f3284"/>
<ellipse cx="562.8" cy="560.2" rx="1.45" ry="1.20" fill="#2f3284"/>
<ellipse cx="558.0" cy="557.6" rx="1.45" ry="1.20" fill="#2f3284"/>
<ellipse cx="555.2" cy="571.2" rx="1.45" ry="1.20" fill="#2f3284"/>
<ellipse cx="554.5" cy="561.5" rx="1.45" ry="1.20" fill="#2f3284"/>
<ellipse cx="550.8" cy="572.9" rx="1.45" ry="1.20" fill="#2f3284"/>
<ellipse cx="551.6" cy="566.8" rx="1.45" ry="1.20" fill="#2f3284"/>
<ellipse cx="552.4" cy="556.4" rx="1.45" ry="1.20" fill="#2f3284"/>
<ellipse cx="549.7" cy="570.1" rx="1.45" ry="1.20" fill="#2f3284"/>
<ellipse cx="553.0" cy="571.3" rx="1.45" ry="1.20" fill="#2f3284"/>
<ellipse cx="562.6" cy="560.8" rx="1.45" ry="1.20" fill="#2f3284"/>
<ellipse cx="548.5" cy="562.4" rx="1.45" ry="1.20" fill="#2f3284"/>
<ellipse cx="555.5" cy="560.2" rx="1.45" ry="1.20" fill="#2f3284"/>
<ellipse cx="561.9" cy="558.8" rx="1.45" ry="1.20" fill="#2f3284"/>
<ellipse cx="551.2" cy="570.0" rx="1.45" ry="1.20" fill="#2f3284"/>
<ellipse cx="544.2" cy="559.2" rx="1.45" ry="1.20" fill="#2f3284"/>
<ellipse cx="549.9" cy="561.5" rx="1.45" ry="1.20" fill="#2f3284"/>
<ellipse cx="558.3" cy="567.0" rx="1.45" ry="1.20" fill="#2f3284"/>
<ellipse cx="558.4" cy="569.4" rx="1.45" ry="1.20" fill="#2f3284"/>
<ellipse cx="552.3" cy="571.3" rx="1.45" ry="1.20" fill="#2f3284"/>
<ellipse cx="551.4" cy="567.8" rx="1.45" ry="1.20" fill="#2f3284"/>
<ellipse cx="544.9" cy="571.6" rx="1.45" ry="1.20" fill="#2f3284"/>
<ellipse cx="553.0" cy="556.8" rx="1.45" ry="1.20" fill="#2f3284"/>
<ellipse cx="559.8" cy="572.4" rx="1.45" ry="1.20" fill="#2f3284"/>
<ellipse cx="551.9" cy="563.9" rx="1.45" ry="1.20" fill="#2f3284"/>
<ellipse cx="565.2" cy="572.4" rx="1.45" ry="1.20" fill="#2f3284"/>
<ellipse cx="556.1" cy="569.7" rx="1.45" ry="1.20" fill="#2f3284"/>
<ellipse cx="556.1" cy="557.7" rx="1.45" ry="1.20" fill="#2f3284"/>
<ellipse cx="559.5" cy="571.9" rx="1.45" ry="1.20" fill="#2f3284"/>
<ellipse cx="553.4" cy="568.4" rx="1.45" ry="1.20" fill="#2f3284"/>
<ellipse cx="553.8" cy="562.5" rx="1.45" ry="1.20" fill="#2f3284"/>
<ellipse cx="552.2" cy="557.9" rx="1.45" ry="1.20" fill="#2f3284"/>
<ellipse cx="559.1" cy="560.1" rx="1.45" ry="1.20" fill="#2f3284"/>
<ellipse cx="557.5" cy="562.4" rx="1.45" ry="1.20" fill="#2f3284"/>
<ellipse cx="552.2" cy="566.8" rx="1.45" ry="1.20" fill="#2f3284"/>
<ellipse cx="554.1" cy="571.0" rx="1.45" ry="1.20" fill="#2f3284"/>
<ellipse cx="550.7" cy="564.7" rx="1.45" ry="1.20" fill="#2f3284"/>
<ellipse cx="560.3" cy="561.1" rx="1.45" ry="1.20" fill="#2f3284"/>
<ellipse cx="550.3" cy="560.9" rx="1.45" ry="1.20" fill="#2f3284"/>
<ellipse cx="550.8" cy="557.4" rx="1.45" ry="1.20" fill="#2f3284"/>
<ellipse cx="551.8" cy="558.5" rx="1.45" ry="1.20" fill="#2f3284"/>
<ellipse cx="547.9" cy="570.8" rx="1.45" ry="1.20" fill="#2f3284"/>
<ellipse cx="550.8" cy="566.8" rx="1.45" ry="1.20" fill="#2f3284"/>
<ellipse cx="548.3" cy="559.0" rx="1.45" ry="1.20" fill="#2f3284"/>
<ellipse cx="556.2" cy="568.5" rx="1.45" ry="1.20" fill="#2f3284"/>
<ellipse cx="560.3" cy="560.3" rx="1.45" ry="1.20" fill="#2f3284"/>
<ellipse cx="547.8" cy="571.3" rx="1.45" ry="1.20" fill="#2f3284"/>
<ellipse cx="559.9" cy="568.4" rx="1.45" ry="1.20" fill="#2f3284"/>
<ellipse cx="562.4" cy="571.5" rx="1.45" ry="1.20" fill="#2f3284"/>
<ellipse cx="562.0" cy="558.9" rx="1.45" ry="1.20" fill="#2f3284"/>
<ellipse cx="560.4" cy="566.6" rx="1.45" ry="1.20" fill="#2f3284"/>
<ellipse cx="553.6" cy="555.9" rx="1.45" ry="1.20" fill="#2f3284"/>
<ellipse cx="558.7" cy="569.8" rx="1.45" ry="1.20" fill="#2f3284"/>
<ellipse cx="564.8" cy="565.5" rx="1.45" ry="1.20" fill="#2f3284"/>
<ellipse cx="549.0" cy="556.7" rx="1.45" ry="1.20" fill="#2f3284"/>
<ellipse cx="557.6" cy="575.4" rx="1.45" ry="1.20" fill="#2f3284"/>
<ellipse cx="546.2" cy="559.0" rx="1.45" ry="1.20" fill="#2f3284"/>
<ellipse cx="559.1" cy="573.0" rx="1.45" ry="1.20" fill="#2f3284"/>
<ellipse cx="559.8" cy="568.9" rx="1.45" ry="1.20" fill="#2f3284"/>
<ellipse cx="555.0" cy="564.2" rx="1.45" ry="1.20" fill="#2f3284"/>
<ellipse cx="561.6" cy="558.5" rx="1.45" ry="1.20" fill="#2f3284"/>
<ellipse cx="552.0" cy="562.3" rx="1.45" ry="1.20" fill="#2f3284"/>
<ellipse cx="547.9" cy="564.7" rx="1.45" ry="1.20" fill="#2f3284"/>
<ellipse cx="567.3" cy="575.5" rx="1.45" ry="1.20" fill="#2f3284"/>
<ellipse cx="565.8" cy="556.3" rx="1.45" ry="1.20" fill="#2f3284"/>
<ellipse cx="558.5" cy="567.0" rx="1.45" ry="1.20" fill="#2f3284"/>
<ellipse cx="564.4" cy="561.3" rx="1.45" ry="1.20" fill="#2f3284"/>
<ellipse cx="552.5" cy="559.0" rx="1.45" ry="1.20" fill="#2f3284"/>
<ellipse cx="557.1" cy="568.9" rx="1.45" ry="1.20" fill="#2f3284"/>
<ellipse cx="553.4" cy="566.1" rx="1.45" ry="1.20" fill="#2f3284"/>
<ellipse cx="555.0" cy="558.8" rx="1.45" ry="1.20" fill="#2f3284"/>
<ellipse cx="561.5" cy="573.1" rx="1.45" ry="1.20" fill="#2f3284"/>
<ellipse cx="549.8" cy="560.3" rx="1.45" ry="1.20" fill="#2f3284"/>
<ellipse cx="554.6" cy="567.0" rx="1.45" ry="1.20" fill="#2f3284"/>
<ellipse cx="549.1" cy="556.7" rx="1.45" ry="1.20" fill="#2f3284"/>
<ellipse cx="552.1" cy="573.1" rx="1.45" ry="1.20" fill="#2f3284"/>
<ellipse cx="558.5" cy="557.4" rx="1.45" ry="1.20" fill="#2f3284"/>
<ellipse cx="563.9" cy="572.4" rx="1.45" ry="1.20" fill="#2f3284"/>
<ellipse cx="554.2" cy="566.8" rx="1.45" ry="1.20" fill="#2f3284"/>
<ellipse cx="560.4" cy="556.2" rx="1.45" ry="1.20" fill="#2f3284"/>
<ellipse cx="548.5" cy="567.5" rx="1.45" ry="1.20" fill="#2f3284"/>
<ellipse cx="550.5" cy="563.9" rx="1.45" ry="1.20" fill="#2f3284"/>
<ellipse cx="564.7" cy="566.8" rx="1.45" ry="1.20" fill="#2f3284"/>
<ellipse cx="563.4" cy="570.7" rx="1.45" ry="1.20" fill="#2f3284"/>
<ellipse cx="554.5" cy="572.3" rx="1.45" ry="1.20" fill="#2f3284"/>
<ellipse cx="549.3" cy="574.9" rx="1.45" ry="1.20" fill="#2f3284"/>
<ellipse cx="558.4" cy="557.1" rx="1.45" ry="1.20" fill="#2f3284"/>
<ellipse cx="556.3" cy="574.4" rx="1.45" ry="1.20" fill="#2f3284"/>
<ellipse cx="556.7" cy="564.4" rx="1.45" ry="1.20" fill="#2f3284"/>
<ellipse cx="560.7" cy="555.4" rx="1.45" ry="1.20" fill="#2f3284"/>
<ellipse cx="548.6" cy="566.6" rx="1.45" ry="1.20" fill="#2f3284"/>
<ellipse cx="552.1" cy="558.0" rx="1.45" ry="1.20" fill="#2f3284"/>
<ellipse cx="563.4" cy="572.0" rx="1.45" ry="1.20" fill="#2f3284"/>
<ellipse cx="561.4" cy="558.2" rx="1.45" ry="1.20" fill="#2f3284"/>
<ellipse cx="558.4" cy="555.7" rx="1.45" ry="1.20" fill="#2f3284"/>
<ellipse cx="551.9" cy="563.2" rx="1.45" ry="1.20" fill="#2f3284"/>
<ellipse cx="555.3" cy="563.3" rx="1.45" ry="1.20" fill="#2f3284"/>
<ellipse cx="561.3" cy="561.9" rx="1.45" ry="1.20" fill="#2f3284"/>
<ellipse cx="552.4" cy="555.9" rx="1.45" ry="1.20" fill="#2f3284"/>
<ellipse cx="549.0" cy="567.1" rx="1.45" ry="1.20" fill="#2f3284"/>
<ellipse cx="551.2" cy="567.2" rx="1.45" ry="1.20" fill="#2f3284"/>
<ellipse cx="550.6" cy="575.7" rx="1.45" ry="1.20" fill="#2f3284"/>
<ellipse cx="546.7" cy="560.7" rx="1.45" ry="1.20" fill="#2f3284"/>
<ellipse cx="550.6" cy="566.9" rx="1.45" ry="1.20" fill="#2f3284"/>
<ellipse cx="559.9" cy="555.7" rx="1.45" ry="1.20" fill="#2f3284"/>
<ellipse cx="559.3" cy="571.3" rx="1.45" ry="1.20" fill="#2f3284"/>
<ellipse cx="558.1" cy="560.9" rx="1.45" ry="1.20" fill="#2f3284"/>
<ellipse cx="564.2" cy="569.3" rx="1.45" ry="1.20" fill="#2f3284"/>
<ellipse cx="554.1" cy="565.7" rx="1.45" ry="1.20" fill="#2f3284"/>
<ellipse cx="557.8" cy="563.5" rx="1.45" ry="1.20" fill="#2f3284"/>
<ellipse cx="546.4" cy="575.8" rx="1.45" ry="1.20" fill="#2f3284"/>
<ellipse cx="553.8" cy="559.9" rx="1.45" ry="1.20" fill="#2f3284"/>
<ellipse cx="549.6" cy="573.3" rx="1.45" ry="1.20" fill="#2f3284"/>
<ellipse cx="554.9" cy="561.4" rx="1.45" ry="1.20" fill="#2f3284"/>
<ellipse cx="547.2" cy="561.5" rx="1.45" ry="1.20" fill="#2f3284"/>
<ellipse cx="561.7" cy="562.1" rx="1.45" ry="1.20" fill="#2f3284"/>
<ellipse cx="562.1" cy="558.8" rx="1.45" ry="1.20" fill="#2f3284"/>
<ellipse cx="558.5" cy="571.3" rx="1.45" ry="1.20" fill="#2f3284"/>
<ellipse cx="554.1" cy="565.2" rx="1.45" ry="1.20" fill="#2f3284"/>
<ellipse cx="561.1" cy="555.5" rx="1.45" ry="1.20" fill="#2f3284"/>
<ellipse cx="549.5" cy="559.6" rx="1.45" ry="1.20" fill="#2f3284"/>
<ellipse cx="553.1" cy="573.1" rx="1.45" ry="1.20" fill="#2f3284"/>
<ellipse cx="558.1" cy="575.2" rx="1.45" ry="1.20" fill="#2f3284"/>
<ellipse cx="557.1" cy="573.4" rx="1.45" ry="1.20" fill="#2f3284"/>
<ellipse cx="550.2" cy="566.3" rx="1.45" ry="1.20" fill="#2f3284"/>
<ellipse cx="564.7" cy="559.5" rx="1.45" ry="1.20" fill="#2f3284"/>
<ellipse cx="554.1" cy="563.5" rx="1.45" ry="1.20" fill="#2f3284"/>
<ellipse cx="556.6" cy="563.7" rx="1.45" ry="1.20" fill="#2f3284"/>
<ellipse cx="544.8" cy="583.5" rx="1.45" ry="1.20" fill="#2f3284"/>
<ellipse cx="551.7" cy="581.9" rx="1.45" ry="1.20" fill="#2f3284"/>
<ellipse cx="558.0" cy="579.1" rx="1.45" ry="1.20" fill="#2f3284"/>
<ellipse cx="554.8" cy="576.2" rx="1.45" ry="1.20" fill="#2f3284"/>
<ellipse cx="565.9" cy="582.8" rx="1.45" ry="1.20" fill="#2f3284"/>
<ellipse cx="567.4" cy="576.7" rx="1.45" ry="1.20" fill="#2f3284"/>
<ellipse cx="558.4" cy="584.7" rx="1.45" ry="1.20" fill="#2f3284"/>
<ellipse cx="551.6" cy="577.1" rx="1.45" ry="1.20" fill="#2f3284"/>
<ellipse cx="547.4" cy="577.7" rx="1.45" ry="1.20" fill="#2f3284"/>
<ellipse cx="562.1" cy="577.1" rx="1.45" ry="1.20" fill="#2f3284"/>
<ellipse cx="563.2" cy="581.1" rx="1.45" ry="1.20" fill="#2f3284"/>
<ellipse cx="556.6" cy="583.1" rx="1.45" ry="1.20" fill="#2f3284"/>
<ellipse cx="557.0" cy="583.9" rx="1.45" ry="1.20" fill="#2f3284"/>
<ellipse cx="558.1" cy="580.0" rx="1.45" ry="1.20" fill="#2f3284"/>
<ellipse cx="561.5" cy="579.1" rx="1.45" ry="1.20" fill="#2f3284"/>
<ellipse cx="560.8" cy="585.2" rx="1.45" ry="1.20" fill="#2f3284"/>
<ellipse cx="562.3" cy="579.7" rx="1.45" ry="1.20" fill="#2f3284"/>
<ellipse cx="562.2" cy="587.7" rx="1.45" ry="1.20" fill="#2f3284"/>
<ellipse cx="554.6" cy="579.3" rx="1.45" ry="1.20" fill="#2f3284"/>
<ellipse cx="556.3" cy="587.3" rx="1.45" ry="1.20" fill="#2f3284"/>
<ellipse cx="546.9" cy="576.1" rx="1.45" ry="1.20" fill="#2f3284"/>
<ellipse cx="555.1" cy="583.9" rx="1.45" ry="1.20" fill="#2f3284"/>
<ellipse cx="562.3" cy="580.3" rx="1.45" ry="1.20" fill="#2f3284"/>
<ellipse cx="567.4" cy="578.7" rx="1.45" ry="1.20" fill="#2f3284"/>
<ellipse cx="561.9" cy="577.1" rx="1.45" ry="1.20" fill="#2f3284"/>
<line x1="545.0" y1="601.0" x2="547.7" y2="601.0" stroke="#2f3284" stroke-width="2.0" stroke-linecap="round"/>
<line x1="548.7" y1="601.0" x2="551.6" y2="601.0" stroke="#2f3284" stroke-width="2.0" stroke-linecap="round"/>
<line x1="558.2" y1="601.0" x2="563.3" y2="601.0" stroke="#2f3284" stroke-width="2.0" stroke-linecap="round"/>
<line x1="565.2" y1="601.0" x2="567.7" y2="601.0" stroke="#2f3284" stroke-width="2.0" stroke-linecap="round"/>
<text x="4.40" y="665.30" font-size="16" text-anchor="start" fill="#111" font-weight="bold">c</text>
<text class="t" x="336.00" y="670.10" font-size="9.9" text-anchor="middle" fill="#333333" >NAb</text>
<text class="t" x="202.80" y="680.10" font-size="9.5" text-anchor="middle" fill="#333333" >Phase 2b</text>
<text class="t" x="466.60" y="681.80" font-size="10.2" text-anchor="middle" fill="#333333" textLength="38.0" lengthAdjust="spacingAndGlyphs">MELODY</text>
<text x="151.30" y="689.50" font-size="8.6" text-anchor="middle" fill="#333333" >Placebo</text>
<text x="260.20" y="689.50" font-size="8.6" text-anchor="middle" fill="#333333" >Nirsevimab</text>
<text x="413.60" y="689.50" font-size="8.6" text-anchor="middle" fill="#333333" >Placebo</text>
<text x="527.10" y="689.50" font-size="8.6" text-anchor="middle" fill="#333333" >Nirsevimab</text>
<line x1="72.10" y1="690.40" x2="72.10" y2="936.00" stroke="#c6c6c6" stroke-width="1.7" />
<line x1="72.10" y1="935.40" x2="330.70" y2="935.40" stroke="#a4a4a4" stroke-width="1.3" />
<line x1="335.60" y1="690.40" x2="335.60" y2="936.00" stroke="#a4a4a4" stroke-width="1.3" />
<line x1="335.60" y1="935.40" x2="593.50" y2="935.40" stroke="#a4a4a4" stroke-width="1.3" />
<line x1="67.80" y1="727.50" x2="72.20" y2="727.50" stroke="#707070" stroke-width="0.9" />
<line x1="331.60" y1="727.50" x2="335.80" y2="727.50" stroke="#707070" stroke-width="0.9" />
<text x="63.30" y="730.60" font-size="9.0" text-anchor="end" fill="#333333" >10,000</text>
<line x1="67.80" y1="802.90" x2="72.20" y2="802.90" stroke="#707070" stroke-width="0.9" />
<line x1="331.60" y1="802.90" x2="335.80" y2="802.90" stroke="#707070" stroke-width="0.9" />
<text x="63.30" y="806.00" font-size="9.0" text-anchor="end" fill="#333333" >1,000</text>
<line x1="67.80" y1="878.10" x2="72.20" y2="878.10" stroke="#707070" stroke-width="0.9" />
<line x1="331.60" y1="878.10" x2="335.80" y2="878.10" stroke="#707070" stroke-width="0.9" />
<text x="63.30" y="881.20" font-size="9.0" text-anchor="end" fill="#333333" >100</text>
<line x1="104.50" y1="935.40" x2="104.50" y2="939.80" stroke="#707070" stroke-width="0.9" />
<line x1="166.80" y1="935.40" x2="166.80" y2="939.80" stroke="#707070" stroke-width="0.9" />
<line x1="231.00" y1="935.40" x2="231.00" y2="939.80" stroke="#707070" stroke-width="0.9" />
<line x1="294.50" y1="935.40" x2="294.50" y2="939.80" stroke="#707070" stroke-width="0.9" />
<line x1="366.60" y1="935.40" x2="366.60" y2="939.80" stroke="#707070" stroke-width="0.9" />
<line x1="429.70" y1="935.40" x2="429.70" y2="939.80" stroke="#707070" stroke-width="0.9" />
<line x1="493.10" y1="935.40" x2="493.10" y2="939.80" stroke="#707070" stroke-width="0.9" />
<line x1="555.80" y1="935.40" x2="555.80" y2="939.80" stroke="#707070" stroke-width="0.9" />
<text x="104.50" y="950.00" font-size="8.35" text-anchor="middle" fill="#333333" >Seroresponse</text>
<text x="166.80" y="950.00" font-size="8.35" text-anchor="middle" fill="#333333" >No seroresponse</text>
<text x="231.00" y="950.00" font-size="8.35" text-anchor="middle" fill="#333333" >Seroresponse</text>
<text x="294.50" y="950.00" font-size="8.35" text-anchor="middle" fill="#333333" >No seroresponse</text>
<text x="366.60" y="950.00" font-size="8.35" text-anchor="middle" fill="#333333" >Seroresponse</text>
<text x="429.70" y="950.00" font-size="8.35" text-anchor="middle" fill="#333333" >No seroresponse</text>
<text x="493.10" y="950.00" font-size="8.35" text-anchor="middle" fill="#333333" >Seroresponse</text>
<text x="555.80" y="950.00" font-size="8.35" text-anchor="middle" fill="#333333" >No seroresponse</text>
<text x="60.1" y="963.70" font-size="8.3" fill="#333333"><tspan font-style="italic">n</tspan> =</text>
<text x="104.50" y="963.80" font-size="8.35" text-anchor="middle" fill="#333333" >148</text>
<text x="166.80" y="963.80" font-size="8.35" text-anchor="middle" fill="#333333" >58</text>
<text x="231.00" y="963.80" font-size="8.35" text-anchor="middle" fill="#333333" >20</text>
<text x="294.50" y="963.80" font-size="8.35" text-anchor="middle" fill="#333333" >7</text>
<text x="366.60" y="963.80" font-size="8.35" text-anchor="middle" fill="#333333" >234</text>
<text x="429.70" y="963.80" font-size="8.35" text-anchor="middle" fill="#333333" >113</text>
<text x="493.10" y="963.80" font-size="8.35" text-anchor="middle" fill="#333333" >43</text>
<text x="555.80" y="963.80" font-size="8.35" text-anchor="middle" fill="#333333" >11</text>
<text transform="translate(26.8,841.0) rotate(-90)" font-size="9.6" fill="#333333">NAb (IU ml<tspan dy="-4" font-size="6">−1</tspan><tspan dy="4">)</tspan></text>
<path d="M601.0,793.3 L604.6,799.1 L597.4,799.1 Z" fill="none" stroke="#2a2a2a" stroke-width="1.2" stroke-linejoin="miter"/>
<text x="609.90" y="799.40" font-size="8.75" text-anchor="start" fill="#333333" >With diagnostic-</text>
<text x="609.90" y="808.70" font-size="8.75" text-anchor="start" fill="#333333" >confirmed RSV</text>
<circle cx="600.9" cy="818.8" r="1.65" fill="#1a1a1a"/>
<text x="609.90" y="821.60" font-size="8.75" text-anchor="start" fill="#333333" >Without diagnostic-</text>
<text x="609.90" y="830.90" font-size="8.75" text-anchor="start" fill="#333333" >confirmed RSV</text>
<line x1="103.90" y1="818.80" x2="103.90" y2="881.20" stroke="#a9aaad" stroke-width="1.1" />
<rect x="91.20" y="881.20" width="24.50" height="42.40" fill="none" stroke="#a9aaad" stroke-width="1.0"/>
<path d="M91.0,696.5 L94.5,702.5 L87.5,702.5 Z" fill="none" stroke="#a4a5a8" stroke-width="0.95" stroke-linejoin="miter"/>
<ellipse cx="80.0" cy="699.8" rx="1.45" ry="1.20" fill="#a4a5a8"/>
<path d="M91.5,787.6 L95.0,793.6 L88.0,793.6 Z" fill="none" stroke="#a4a5a8" stroke-width="0.95" stroke-linejoin="miter"/>
<path d="M94.6,817.0 L98.0,823.0 L91.1,823.0 Z" fill="none" stroke="#a4a5a8" stroke-width="0.95" stroke-linejoin="miter"/>
<path d="M103.3,814.7 L106.8,820.7 L99.8,820.7 Z" fill="none" stroke="#a4a5a8" stroke-width="0.95" stroke-linejoin="miter"/>
<path d="M103.3,830.6 L106.8,836.6 L99.8,836.6 Z" fill="none" stroke="#a4a5a8" stroke-width="0.95" stroke-linejoin="miter"/>
<path d="M108.6,828.6 L112.0,834.6 L105.1,834.6 Z" fill="none" stroke="#a4a5a8" stroke-width="0.95" stroke-linejoin="miter"/>
<path d="M91.2,844.9 L94.7,850.9 L87.8,850.9 Z" fill="none" stroke="#a4a5a8" stroke-width="0.95" stroke-linejoin="miter"/>
<path d="M92.0,854.6 L95.5,860.6 L88.5,860.6 Z" fill="none" stroke="#a4a5a8" stroke-width="0.95" stroke-linejoin="miter"/>
<path d="M97.7,856.2 L101.2,862.2 L94.2,862.2 Z" fill="none" stroke="#a4a5a8" stroke-width="0.95" stroke-linejoin="miter"/>
<path d="M96.6,860.9 L100.0,866.9 L93.1,866.9 Z" fill="none" stroke="#a4a5a8" stroke-width="0.95" stroke-linejoin="miter"/>
<path d="M106.7,864.0 L110.2,870.0 L103.2,870.0 Z" fill="none" stroke="#a4a5a8" stroke-width="0.95" stroke-linejoin="miter"/>
<path d="M111.7,859.3 L115.2,865.3 L108.2,865.3 Z" fill="none" stroke="#a4a5a8" stroke-width="0.95" stroke-linejoin="miter"/>
<path d="M113.7,864.7 L117.2,870.7 L110.2,870.7 Z" fill="none" stroke="#a4a5a8" stroke-width="0.95" stroke-linejoin="miter"/>
<path d="M95.6,866.8 L99.0,872.8 L92.1,872.8 Z" fill="none" stroke="#a4a5a8" stroke-width="0.95" stroke-linejoin="miter"/>
<path d="M99.0,873.3 L102.5,879.3 L95.5,879.3 Z" fill="none" stroke="#a4a5a8" stroke-width="0.95" stroke-linejoin="miter"/>
<path d="M98.2,878.0 L101.7,884.0 L94.8,884.0 Z" fill="none" stroke="#a4a5a8" stroke-width="0.95" stroke-linejoin="miter"/>
<path d="M108.3,876.4 L111.8,882.4 L104.8,882.4 Z" fill="none" stroke="#a4a5a8" stroke-width="0.95" stroke-linejoin="miter"/>
<path d="M108.8,881.0 L112.2,887.0 L105.3,887.0 Z" fill="none" stroke="#a4a5a8" stroke-width="0.95" stroke-linejoin="miter"/>
<path d="M106.7,886.5 L110.2,892.5 L103.2,892.5 Z" fill="none" stroke="#a4a5a8" stroke-width="0.95" stroke-linejoin="miter"/>
<ellipse cx="103.6" cy="791.2" rx="1.45" ry="1.20" fill="#a4a5a8"/>
<ellipse cx="96.6" cy="809.0" rx="1.45" ry="1.20" fill="#a4a5a8"/>
<ellipse cx="103.6" cy="809.2" rx="1.45" ry="1.20" fill="#a4a5a8"/>
<ellipse cx="106.4" cy="822.2" rx="1.45" ry="1.20" fill="#a4a5a8"/>
<ellipse cx="114.5" cy="824.7" rx="1.45" ry="1.20" fill="#a4a5a8"/>
<ellipse cx="102.9" cy="826.6" rx="1.45" ry="1.20" fill="#a4a5a8"/>
<ellipse cx="111.7" cy="832.0" rx="1.45" ry="1.20" fill="#a4a5a8"/>
<ellipse cx="109.1" cy="841.3" rx="1.45" ry="1.20" fill="#a4a5a8"/>
<ellipse cx="94.6" cy="850.7" rx="1.45" ry="1.20" fill="#a4a5a8"/>
<ellipse cx="110.6" cy="850.2" rx="1.45" ry="1.20" fill="#a4a5a8"/>
<ellipse cx="114.8" cy="852.7" rx="1.45" ry="1.20" fill="#a4a5a8"/>
<ellipse cx="99.8" cy="856.9" rx="1.45" ry="1.20" fill="#a4a5a8"/>
<ellipse cx="104.9" cy="861.5" rx="1.45" ry="1.20" fill="#a4a5a8"/>
<ellipse cx="100.5" cy="865.1" rx="1.45" ry="1.20" fill="#a4a5a8"/>
<ellipse cx="108.6" cy="871.6" rx="1.45" ry="1.20" fill="#a4a5a8"/>
<ellipse cx="114.5" cy="875.0" rx="1.45" ry="1.20" fill="#a4a5a8"/>
<ellipse cx="94.6" cy="875.0" rx="1.45" ry="1.20" fill="#a4a5a8"/>
<ellipse cx="111.1" cy="870.8" rx="1.45" ry="1.20" fill="#a4a5a8"/>
<ellipse cx="99.8" cy="885.6" rx="1.45" ry="1.20" fill="#a4a5a8"/>
<ellipse cx="91.2" cy="891.8" rx="1.45" ry="1.20" fill="#a4a5a8"/>
<ellipse cx="94.3" cy="891.0" rx="1.45" ry="1.20" fill="#a4a5a8"/>
<ellipse cx="101.3" cy="890.2" rx="1.45" ry="1.20" fill="#a4a5a8"/>
<ellipse cx="92.0" cy="895.7" rx="1.45" ry="1.20" fill="#a4a5a8"/>
<ellipse cx="98.7" cy="896.5" rx="1.45" ry="1.20" fill="#a4a5a8"/>
<ellipse cx="99.8" cy="896.5" rx="1.45" ry="1.20" fill="#a4a5a8"/>
<ellipse cx="110.2" cy="895.7" rx="1.45" ry="1.20" fill="#a4a5a8"/>
<ellipse cx="97.0" cy="878.0" rx="1.45" ry="1.20" fill="#a4a5a8"/>
<ellipse cx="101.0" cy="872.0" rx="1.45" ry="1.20" fill="#a4a5a8"/>
<ellipse cx="91.5" cy="923.6" rx="1.45" ry="1.20" fill="#a4a5a8"/>
<ellipse cx="93.3" cy="923.6" rx="1.45" ry="1.20" fill="#a4a5a8"/>
<ellipse cx="95.2" cy="923.6" rx="1.45" ry="1.20" fill="#a4a5a8"/>
<ellipse cx="97.0" cy="923.6" rx="1.45" ry="1.20" fill="#a4a5a8"/>
<ellipse cx="98.9" cy="923.6" rx="1.45" ry="1.20" fill="#a4a5a8"/>
<ellipse cx="100.7" cy="923.6" rx="1.45" ry="1.20" fill="#a4a5a8"/>
<ellipse cx="102.6" cy="923.6" rx="1.45" ry="1.20" fill="#a4a5a8"/>
<ellipse cx="104.4" cy="923.6" rx="1.45" ry="1.20" fill="#a4a5a8"/>
<ellipse cx="106.3" cy="923.6" rx="1.45" ry="1.20" fill="#a4a5a8"/>
<ellipse cx="108.1" cy="923.6" rx="1.45" ry="1.20" fill="#a4a5a8"/>
<ellipse cx="110.0" cy="923.6" rx="1.45" ry="1.20" fill="#a4a5a8"/>
<ellipse cx="111.8" cy="923.6" rx="1.45" ry="1.20" fill="#a4a5a8"/>
<ellipse cx="113.7" cy="923.6" rx="1.45" ry="1.20" fill="#a4a5a8"/>
<ellipse cx="115.5" cy="923.6" rx="1.45" ry="1.20" fill="#a4a5a8"/>
<path d="M101.5,919.6 L105.0,925.6 L98.0,925.6 Z" fill="none" stroke="#a4a5a8" stroke-width="0.95" stroke-linejoin="miter"/>
<path d="M105.5,919.6 L109.0,925.6 L102.0,925.6 Z" fill="none" stroke="#a4a5a8" stroke-width="0.95" stroke-linejoin="miter"/>
<path d="M109.5,919.6 L113.0,925.6 L106.0,925.6 Z" fill="none" stroke="#a4a5a8" stroke-width="0.95" stroke-linejoin="miter"/>
<path d="M113.0,919.6 L116.5,925.6 L109.5,925.6 Z" fill="none" stroke="#a4a5a8" stroke-width="0.95" stroke-linejoin="miter"/>
<ellipse cx="154.0" cy="923.5" rx="1.45" ry="1.20" fill="#a4a5a8"/>
<ellipse cx="155.7" cy="923.5" rx="1.45" ry="1.20" fill="#a4a5a8"/>
<ellipse cx="157.4" cy="923.5" rx="1.45" ry="1.20" fill="#a4a5a8"/>
<ellipse cx="159.1" cy="923.5" rx="1.45" ry="1.20" fill="#a4a5a8"/>
<ellipse cx="160.8" cy="923.5" rx="1.45" ry="1.20" fill="#a4a5a8"/>
<ellipse cx="162.5" cy="923.5" rx="1.45" ry="1.20" fill="#a4a5a8"/>
<ellipse cx="164.2" cy="923.5" rx="1.45" ry="1.20" fill="#a4a5a8"/>
<ellipse cx="165.9" cy="923.5" rx="1.45" ry="1.20" fill="#a4a5a8"/>
<ellipse cx="167.6" cy="923.5" rx="1.45" ry="1.20" fill="#a4a5a8"/>
<ellipse cx="169.3" cy="923.5" rx="1.45" ry="1.20" fill="#a4a5a8"/>
<ellipse cx="171.0" cy="923.5" rx="1.45" ry="1.20" fill="#a4a5a8"/>
<ellipse cx="172.7" cy="923.5" rx="1.45" ry="1.20" fill="#a4a5a8"/>
<ellipse cx="174.4" cy="923.5" rx="1.45" ry="1.20" fill="#a4a5a8"/>
<ellipse cx="176.1" cy="923.5" rx="1.45" ry="1.20" fill="#a4a5a8"/>
<ellipse cx="177.8" cy="923.5" rx="1.45" ry="1.20" fill="#a4a5a8"/>
<ellipse cx="179.5" cy="923.5" rx="1.45" ry="1.20" fill="#a4a5a8"/>
<line x1="154.00" y1="923.50" x2="179.50" y2="923.50" stroke="#a4a5a8" stroke-width="1.6" />
<path d="M169.2,919.8 L172.6,925.8 L165.8,925.8 Z" fill="none" stroke="#a4a5a8" stroke-width="0.95" stroke-linejoin="miter"/>
<line x1="231.30" y1="810.70" x2="231.30" y2="847.40" stroke="#2f3284" stroke-width="1.0" />
<line x1="231.30" y1="871.60" x2="231.30" y2="896.50" stroke="#2f3284" stroke-width="1.0" />
<rect x="218.40" y="847.40" width="24.90" height="24.20" fill="none" stroke="#2f3284" stroke-width="1.0"/>
<line x1="218.40" y1="857.90" x2="243.30" y2="857.90" stroke="#2f3284" stroke-width="1.4" />
<ellipse cx="224.9" cy="810.0" rx="1.45" ry="1.20" fill="#2f3284"/>
<ellipse cx="233.5" cy="817.3" rx="1.45" ry="1.20" fill="#2f3284"/>
<ellipse cx="219.4" cy="821.5" rx="1.45" ry="1.20" fill="#2f3284"/>
<ellipse cx="237.2" cy="828.0" rx="1.45" ry="1.20" fill="#2f3284"/>
<ellipse cx="222.3" cy="854.3" rx="1.45" ry="1.20" fill="#2f3284"/>
<ellipse cx="233.0" cy="854.7" rx="1.45" ry="1.20" fill="#2f3284"/>
<ellipse cx="219.4" cy="861.0" rx="1.45" ry="1.20" fill="#2f3284"/>
<ellipse cx="232.0" cy="860.0" rx="1.45" ry="1.20" fill="#2f3284"/>
<ellipse cx="235.6" cy="863.5" rx="1.45" ry="1.20" fill="#2f3284"/>
<ellipse cx="235.6" cy="869.0" rx="1.45" ry="1.20" fill="#2f3284"/>
<ellipse cx="230.5" cy="878.5" rx="1.45" ry="1.20" fill="#2f3284"/>
<ellipse cx="226.0" cy="887.0" rx="1.45" ry="1.20" fill="#2f3284"/>
<ellipse cx="237.0" cy="898.0" rx="1.45" ry="1.20" fill="#2f3284"/>
<ellipse cx="229.0" cy="923.6" rx="1.45" ry="1.20" fill="#2f3284"/>
<ellipse cx="231.0" cy="923.6" rx="1.45" ry="1.20" fill="#2f3284"/>
<ellipse cx="235.0" cy="923.6" rx="1.45" ry="1.20" fill="#2f3284"/>
<ellipse cx="224.0" cy="857.5" rx="1.45" ry="1.20" fill="#2f3284"/>
<path d="M221.0,843.0 L224.4,849.0 L217.6,849.0 Z" fill="none" stroke="#2f3284" stroke-width="0.95" stroke-linejoin="miter"/>
<path d="M236.6,843.0 L240.0,849.0 L233.2,849.0 Z" fill="none" stroke="#2f3284" stroke-width="0.95" stroke-linejoin="miter"/>
<line x1="293.60" y1="834.20" x2="293.60" y2="866.20" stroke="#2f3284" stroke-width="1.0" />
<rect x="280.30" y="866.20" width="25.40" height="57.50" fill="none" stroke="#2f3284" stroke-width="1.0"/>
<line x1="280.30" y1="880.30" x2="305.70" y2="880.30" stroke="#2f3284" stroke-width="1.4" />
<ellipse cx="297.0" cy="834.5" rx="1.45" ry="1.20" fill="#2f3284"/>
<ellipse cx="297.5" cy="863.0" rx="1.45" ry="1.20" fill="#2f3284"/>
<ellipse cx="305.0" cy="868.5" rx="1.45" ry="1.20" fill="#2f3284"/>
<ellipse cx="282.0" cy="880.5" rx="1.45" ry="1.20" fill="#2f3284"/>
<ellipse cx="284.8" cy="923.6" rx="1.45" ry="1.20" fill="#2f3284"/>
<ellipse cx="290.8" cy="923.6" rx="1.45" ry="1.20" fill="#2f3284"/>
<ellipse cx="300.0" cy="923.6" rx="1.45" ry="1.20" fill="#2f3284"/>
<line x1="368.00" y1="747.90" x2="368.00" y2="852.30" stroke="#a9aaad" stroke-width="1.1" />
<rect x="355.20" y="852.30" width="24.50" height="71.40" fill="none" stroke="#a9aaad" stroke-width="1.0"/>
<ellipse cx="365.0" cy="747.5" rx="1.45" ry="1.20" fill="#a4a5a8"/>
<path d="M364.5,786.5 L367.9,792.5 L361.1,792.5 Z" fill="none" stroke="#a4a5a8" stroke-width="0.95" stroke-linejoin="miter"/>
<path d="M378.6,790.2 L382.1,796.2 L375.2,796.2 Z" fill="none" stroke="#a4a5a8" stroke-width="0.95" stroke-linejoin="miter"/>
<path d="M372.3,804.3 L375.8,810.3 L368.9,810.3 Z" fill="none" stroke="#a4a5a8" stroke-width="0.95" stroke-linejoin="miter"/>
<path d="M364.5,812.0 L367.9,818.0 L361.1,818.0 Z" fill="none" stroke="#a4a5a8" stroke-width="0.95" stroke-linejoin="miter"/>
<path d="M368.5,814.2 L371.9,820.2 L365.1,820.2 Z" fill="none" stroke="#a4a5a8" stroke-width="0.95" stroke-linejoin="miter"/>
<path d="M379.7,815.5 L383.1,821.5 L376.2,821.5 Z" fill="none" stroke="#a4a5a8" stroke-width="0.95" stroke-linejoin="miter"/>
<path d="M369.8,816.7 L373.2,822.7 L366.4,822.7 Z" fill="none" stroke="#a4a5a8" stroke-width="0.95" stroke-linejoin="miter"/>
<path d="M363.7,819.6 L367.1,825.6 L360.2,825.6 Z" fill="none" stroke="#a4a5a8" stroke-width="0.95" stroke-linejoin="miter"/>
<path d="M358.2,825.0 L361.6,831.0 L354.8,831.0 Z" fill="none" stroke="#a4a5a8" stroke-width="0.95" stroke-linejoin="miter"/>
<path d="M359.0,830.0 L362.4,836.0 L355.6,836.0 Z" fill="none" stroke="#a4a5a8" stroke-width="0.95" stroke-linejoin="miter"/>
<path d="M369.8,828.3 L373.2,834.3 L366.4,834.3 Z" fill="none" stroke="#a4a5a8" stroke-width="0.95" stroke-linejoin="miter"/>
<path d="M379.4,831.2 L382.8,837.2 L375.9,837.2 Z" fill="none" stroke="#a4a5a8" stroke-width="0.95" stroke-linejoin="miter"/>
<path d="M374.0,844.0 L377.4,850.0 L370.6,850.0 Z" fill="none" stroke="#a4a5a8" stroke-width="0.95" stroke-linejoin="miter"/>
<path d="M360.7,847.3 L364.1,853.3 L357.2,853.3 Z" fill="none" stroke="#a4a5a8" stroke-width="0.95" stroke-linejoin="miter"/>
<path d="M379.4,846.5 L382.8,852.5 L375.9,852.5 Z" fill="none" stroke="#a4a5a8" stroke-width="0.95" stroke-linejoin="miter"/>
<path d="M372.0,851.8 L375.4,857.8 L368.6,857.8 Z" fill="none" stroke="#a4a5a8" stroke-width="0.95" stroke-linejoin="miter"/>
<path d="M356.6,857.2 L360.1,863.2 L353.2,863.2 Z" fill="none" stroke="#a4a5a8" stroke-width="0.95" stroke-linejoin="miter"/>
<path d="M360.7,861.4 L364.1,867.4 L357.2,867.4 Z" fill="none" stroke="#a4a5a8" stroke-width="0.95" stroke-linejoin="miter"/>
<path d="M361.5,862.7 L364.9,868.7 L358.1,868.7 Z" fill="none" stroke="#a4a5a8" stroke-width="0.95" stroke-linejoin="miter"/>
<path d="M358.2,870.5 L361.6,876.5 L354.8,876.5 Z" fill="none" stroke="#a4a5a8" stroke-width="0.95" stroke-linejoin="miter"/>
<path d="M364.5,869.6 L367.9,875.6 L361.1,875.6 Z" fill="none" stroke="#a4a5a8" stroke-width="0.95" stroke-linejoin="miter"/>
<path d="M370.3,872.1 L373.8,878.1 L366.9,878.1 Z" fill="none" stroke="#a4a5a8" stroke-width="0.95" stroke-linejoin="miter"/>
<path d="M377.7,873.8 L381.1,879.8 L374.2,879.8 Z" fill="none" stroke="#a4a5a8" stroke-width="0.95" stroke-linejoin="miter"/>
<path d="M360.2,876.3 L363.6,882.3 L356.8,882.3 Z" fill="none" stroke="#a4a5a8" stroke-width="0.95" stroke-linejoin="miter"/>
<path d="M366.5,881.2 L369.9,887.2 L363.1,887.2 Z" fill="none" stroke="#a4a5a8" stroke-width="0.95" stroke-linejoin="miter"/>
<path d="M376.1,886.2 L379.6,892.2 L372.7,892.2 Z" fill="none" stroke="#a4a5a8" stroke-width="0.95" stroke-linejoin="miter"/>
<path d="M367.3,890.3 L370.8,896.3 L363.9,896.3 Z" fill="none" stroke="#a4a5a8" stroke-width="0.95" stroke-linejoin="miter"/>
<path d="M362.4,892.8 L365.8,898.8 L358.9,898.8 Z" fill="none" stroke="#a4a5a8" stroke-width="0.95" stroke-linejoin="miter"/>
<ellipse cx="360.5" cy="786.5" rx="1.45" ry="1.20" fill="#a4a5a8"/>
<ellipse cx="372.3" cy="795.0" rx="1.45" ry="1.20" fill="#a4a5a8"/>
<ellipse cx="364.7" cy="806.0" rx="1.45" ry="1.20" fill="#a4a5a8"/>
<ellipse cx="373.0" cy="803.5" rx="1.45" ry="1.20" fill="#a4a5a8"/>
<ellipse cx="357.0" cy="819.0" rx="1.45" ry="1.20" fill="#a4a5a8"/>
<ellipse cx="361.0" cy="813.0" rx="1.45" ry="1.20" fill="#a4a5a8"/>
<ellipse cx="374.0" cy="811.0" rx="1.45" ry="1.20" fill="#a4a5a8"/>
<ellipse cx="356.1" cy="818.3" rx="1.45" ry="1.20" fill="#a4a5a8"/>
<ellipse cx="356.9" cy="830.1" rx="1.45" ry="1.20" fill="#a4a5a8"/>
<ellipse cx="368.3" cy="819.8" rx="1.45" ry="1.20" fill="#a4a5a8"/>
<ellipse cx="377.1" cy="825.7" rx="1.45" ry="1.20" fill="#a4a5a8"/>
<ellipse cx="358.9" cy="819.7" rx="1.45" ry="1.20" fill="#a4a5a8"/>
<ellipse cx="372.5" cy="843.5" rx="1.45" ry="1.20" fill="#a4a5a8"/>
<ellipse cx="359.2" cy="814.9" rx="1.45" ry="1.20" fill="#a4a5a8"/>
<ellipse cx="373.4" cy="821.8" rx="1.45" ry="1.20" fill="#a4a5a8"/>
<ellipse cx="378.1" cy="830.0" rx="1.45" ry="1.20" fill="#a4a5a8"/>
<ellipse cx="370.1" cy="825.0" rx="1.45" ry="1.20" fill="#a4a5a8"/>
<ellipse cx="373.9" cy="828.7" rx="1.45" ry="1.20" fill="#a4a5a8"/>
<ellipse cx="362.9" cy="842.9" rx="1.45" ry="1.20" fill="#a4a5a8"/>
<ellipse cx="358.0" cy="837.5" rx="1.45" ry="1.20" fill="#a4a5a8"/>
<ellipse cx="357.0" cy="834.7" rx="1.45" ry="1.20" fill="#a4a5a8"/>
<ellipse cx="364.7" cy="841.6" rx="1.45" ry="1.20" fill="#a4a5a8"/>
<ellipse cx="356.9" cy="832.1" rx="1.45" ry="1.20" fill="#a4a5a8"/>
<ellipse cx="364.9" cy="843.4" rx="1.45" ry="1.20" fill="#a4a5a8"/>
<ellipse cx="377.2" cy="834.1" rx="1.45" ry="1.20" fill="#a4a5a8"/>
<ellipse cx="360.7" cy="822.1" rx="1.45" ry="1.20" fill="#a4a5a8"/>
<ellipse cx="361.5" cy="827.9" rx="1.45" ry="1.20" fill="#a4a5a8"/>
<ellipse cx="360.8" cy="820.5" rx="1.45" ry="1.20" fill="#a4a5a8"/>
<ellipse cx="373.0" cy="834.6" rx="1.45" ry="1.20" fill="#a4a5a8"/>
<ellipse cx="362.4" cy="845.8" rx="1.45" ry="1.20" fill="#a4a5a8"/>
<ellipse cx="360.5" cy="832.2" rx="1.45" ry="1.20" fill="#a4a5a8"/>
<ellipse cx="359.1" cy="841.6" rx="1.45" ry="1.20" fill="#a4a5a8"/>
<ellipse cx="375.5" cy="822.6" rx="1.45" ry="1.20" fill="#a4a5a8"/>
<ellipse cx="372.8" cy="840.3" rx="1.45" ry="1.20" fill="#a4a5a8"/>
<ellipse cx="362.0" cy="824.6" rx="1.45" ry="1.20" fill="#a4a5a8"/>
<ellipse cx="366.7" cy="842.5" rx="1.45" ry="1.20" fill="#a4a5a8"/>
<ellipse cx="359.2" cy="835.8" rx="1.45" ry="1.20" fill="#a4a5a8"/>
<ellipse cx="369.2" cy="828.5" rx="1.45" ry="1.20" fill="#a4a5a8"/>
<ellipse cx="368.8" cy="842.3" rx="1.45" ry="1.20" fill="#a4a5a8"/>
<ellipse cx="360.3" cy="842.3" rx="1.45" ry="1.20" fill="#a4a5a8"/>
<ellipse cx="363.8" cy="839.0" rx="1.45" ry="1.20" fill="#a4a5a8"/>
<ellipse cx="375.4" cy="819.8" rx="1.45" ry="1.20" fill="#a4a5a8"/>
<ellipse cx="375.4" cy="845.8" rx="1.45" ry="1.20" fill="#a4a5a8"/>
<ellipse cx="362.3" cy="814.8" rx="1.45" ry="1.20" fill="#a4a5a8"/>
<ellipse cx="358.1" cy="845.2" rx="1.45" ry="1.20" fill="#a4a5a8"/>
<ellipse cx="355.7" cy="860.6" rx="1.45" ry="1.20" fill="#a4a5a8"/>
<ellipse cx="359.0" cy="857.8" rx="1.45" ry="1.20" fill="#a4a5a8"/>
<ellipse cx="357.7" cy="848.7" rx="1.45" ry="1.20" fill="#a4a5a8"/>
<ellipse cx="371.2" cy="847.4" rx="1.45" ry="1.20" fill="#a4a5a8"/>
<ellipse cx="363.3" cy="860.7" rx="1.45" ry="1.20" fill="#a4a5a8"/>
<ellipse cx="372.0" cy="860.1" rx="1.45" ry="1.20" fill="#a4a5a8"/>
<ellipse cx="378.0" cy="846.5" rx="1.45" ry="1.20" fill="#a4a5a8"/>
<ellipse cx="360.9" cy="858.7" rx="1.45" ry="1.20" fill="#a4a5a8"/>
<ellipse cx="371.4" cy="846.6" rx="1.45" ry="1.20" fill="#a4a5a8"/>
<ellipse cx="367.1" cy="849.7" rx="1.45" ry="1.20" fill="#a4a5a8"/>
<ellipse cx="365.4" cy="865.3" rx="1.45" ry="1.20" fill="#a4a5a8"/>
<ellipse cx="356.0" cy="892.7" rx="1.45" ry="1.20" fill="#a4a5a8"/>
<ellipse cx="362.8" cy="889.2" rx="1.45" ry="1.20" fill="#a4a5a8"/>
<ellipse cx="358.3" cy="877.1" rx="1.45" ry="1.20" fill="#a4a5a8"/>
<ellipse cx="358.6" cy="875.3" rx="1.45" ry="1.20" fill="#a4a5a8"/>
<ellipse cx="359.6" cy="883.2" rx="1.45" ry="1.20" fill="#a4a5a8"/>
<ellipse cx="358.9" cy="884.9" rx="1.45" ry="1.20" fill="#a4a5a8"/>
<ellipse cx="367.0" cy="865.5" rx="1.45" ry="1.20" fill="#a4a5a8"/>
<ellipse cx="363.6" cy="877.4" rx="1.45" ry="1.20" fill="#a4a5a8"/>
<ellipse cx="376.6" cy="872.8" rx="1.45" ry="1.20" fill="#a4a5a8"/>
<ellipse cx="355.5" cy="923.6" rx="1.45" ry="1.20" fill="#a4a5a8"/>
<ellipse cx="357.3" cy="923.6" rx="1.45" ry="1.20" fill="#a4a5a8"/>
<ellipse cx="359.2" cy="923.6" rx="1.45" ry="1.20" fill="#a4a5a8"/>
<ellipse cx="361.0" cy="923.6" rx="1.45" ry="1.20" fill="#a4a5a8"/>
<ellipse cx="362.9" cy="923.6" rx="1.45" ry="1.20" fill="#a4a5a8"/>
<ellipse cx="364.7" cy="923.6" rx="1.45" ry="1.20" fill="#a4a5a8"/>
<ellipse cx="366.6" cy="923.6" rx="1.45" ry="1.20" fill="#a4a5a8"/>
<ellipse cx="368.4" cy="923.6" rx="1.45" ry="1.20" fill="#a4a5a8"/>
<ellipse cx="370.3" cy="923.6" rx="1.45" ry="1.20" fill="#a4a5a8"/>
<ellipse cx="372.1" cy="923.6" rx="1.45" ry="1.20" fill="#a4a5a8"/>
<ellipse cx="374.0" cy="923.6" rx="1.45" ry="1.20" fill="#a4a5a8"/>
<ellipse cx="375.8" cy="923.6" rx="1.45" ry="1.20" fill="#a4a5a8"/>
<ellipse cx="377.7" cy="923.6" rx="1.45" ry="1.20" fill="#a4a5a8"/>
<ellipse cx="379.5" cy="923.6" rx="1.45" ry="1.20" fill="#a4a5a8"/>
<path d="M362.0,919.6 L365.4,925.6 L358.6,925.6 Z" fill="none" stroke="#a4a5a8" stroke-width="0.95" stroke-linejoin="miter"/>
<path d="M367.0,919.6 L370.4,925.6 L363.6,925.6 Z" fill="none" stroke="#a4a5a8" stroke-width="0.95" stroke-linejoin="miter"/>
<path d="M372.5,919.6 L375.9,925.6 L369.1,925.6 Z" fill="none" stroke="#a4a5a8" stroke-width="0.95" stroke-linejoin="miter"/>
<path d="M376.0,919.6 L379.4,925.6 L372.6,925.6 Z" fill="none" stroke="#a4a5a8" stroke-width="0.95" stroke-linejoin="miter"/>
<ellipse cx="417.0" cy="923.2" rx="1.45" ry="1.20" fill="#a4a5a8"/>
<ellipse cx="418.7" cy="923.2" rx="1.45" ry="1.20" fill="#a4a5a8"/>
<ellipse cx="420.3" cy="923.2" rx="1.45" ry="1.20" fill="#a4a5a8"/>
<ellipse cx="422.0" cy="923.2" rx="1.45" ry="1.20" fill="#a4a5a8"/>
<ellipse cx="423.7" cy="923.2" rx="1.45" ry="1.20" fill="#a4a5a8"/>
<ellipse cx="425.3" cy="923.2" rx="1.45" ry="1.20" fill="#a4a5a8"/>
<ellipse cx="427.0" cy="923.2" rx="1.45" ry="1.20" fill="#a4a5a8"/>
<ellipse cx="428.7" cy="923.2" rx="1.45" ry="1.20" fill="#a4a5a8"/>
<ellipse cx="430.3" cy="923.2" rx="1.45" ry="1.20" fill="#a4a5a8"/>
<ellipse cx="432.0" cy="923.2" rx="1.45" ry="1.20" fill="#a4a5a8"/>
<ellipse cx="433.7" cy="923.2" rx="1.45" ry="1.20" fill="#a4a5a8"/>
<ellipse cx="435.3" cy="923.2" rx="1.45" ry="1.20" fill="#a4a5a8"/>
<ellipse cx="437.0" cy="923.2" rx="1.45" ry="1.20" fill="#a4a5a8"/>
<ellipse cx="438.7" cy="923.2" rx="1.45" ry="1.20" fill="#a4a5a8"/>
<ellipse cx="440.3" cy="923.2" rx="1.45" ry="1.20" fill="#a4a5a8"/>
<ellipse cx="442.0" cy="923.2" rx="1.45" ry="1.20" fill="#a4a5a8"/>
<line x1="417.00" y1="923.20" x2="442.00" y2="923.20" stroke="#a4a5a8" stroke-width="1.6" />
<path d="M437.2,919.5 L440.6,925.5 L433.8,925.5 Z" fill="none" stroke="#a4a5a8" stroke-width="0.95" stroke-linejoin="miter"/>
<line x1="493.60" y1="785.00" x2="493.60" y2="844.30" stroke="#2f3284" stroke-width="1.0" />
<line x1="493.60" y1="892.10" x2="493.60" y2="923.40" stroke="#2f3284" stroke-width="1.0" />
<rect x="481.20" y="844.30" width="24.40" height="47.80" fill="none" stroke="#2f3284" stroke-width="1.0"/>
<line x1="481.20" y1="874.80" x2="505.60" y2="874.80" stroke="#2f3284" stroke-width="1.4" />
<ellipse cx="494.9" cy="786.6" rx="1.45" ry="1.20" fill="#2f3284"/>
<ellipse cx="498.1" cy="784.3" rx="1.45" ry="1.20" fill="#2f3284"/>
<ellipse cx="489.6" cy="795.9" rx="1.45" ry="1.20" fill="#2f3284"/>
<ellipse cx="504.0" cy="799.1" rx="1.45" ry="1.20" fill="#2f3284"/>
<ellipse cx="483.2" cy="810.6" rx="1.45" ry="1.20" fill="#2f3284"/>
<ellipse cx="494.9" cy="818.0" rx="1.45" ry="1.20" fill="#2f3284"/>
<ellipse cx="485.2" cy="825.5" rx="1.45" ry="1.20" fill="#2f3284"/>
<ellipse cx="490.4" cy="830.4" rx="1.45" ry="1.20" fill="#2f3284"/>
<ellipse cx="501.0" cy="828.8" rx="1.45" ry="1.20" fill="#2f3284"/>
<ellipse cx="500.2" cy="838.4" rx="1.45" ry="1.20" fill="#2f3284"/>
<ellipse cx="502.6" cy="850.4" rx="1.45" ry="1.20" fill="#2f3284"/>
<ellipse cx="483.2" cy="862.5" rx="1.45" ry="1.20" fill="#2f3284"/>
<ellipse cx="494.9" cy="861.2" rx="1.45" ry="1.20" fill="#2f3284"/>
<ellipse cx="490.1" cy="864.9" rx="1.45" ry="1.20" fill="#2f3284"/>
<ellipse cx="494.1" cy="863.7" rx="1.45" ry="1.20" fill="#2f3284"/>
<ellipse cx="484.8" cy="868.4" rx="1.45" ry="1.20" fill="#2f3284"/>
<ellipse cx="494.1" cy="868.1" rx="1.45" ry="1.20" fill="#2f3284"/>
<ellipse cx="503.2" cy="864.1" rx="1.45" ry="1.20" fill="#2f3284"/>
<ellipse cx="484.4" cy="875.3" rx="1.45" ry="1.20" fill="#2f3284"/>
<ellipse cx="490.1" cy="874.8" rx="1.45" ry="1.20" fill="#2f3284"/>
<ellipse cx="504.5" cy="876.1" rx="1.45" ry="1.20" fill="#2f3284"/>
<ellipse cx="489.6" cy="884.1" rx="1.45" ry="1.20" fill="#2f3284"/>
<ellipse cx="499.4" cy="884.9" rx="1.45" ry="1.20" fill="#2f3284"/>
<ellipse cx="494.1" cy="887.6" rx="1.45" ry="1.20" fill="#2f3284"/>
<ellipse cx="488.1" cy="889.2" rx="1.45" ry="1.20" fill="#2f3284"/>
<ellipse cx="484.4" cy="891.8" rx="1.45" ry="1.20" fill="#2f3284"/>
<ellipse cx="505.0" cy="893.0" rx="1.45" ry="1.20" fill="#2f3284"/>
<ellipse cx="481.6" cy="897.3" rx="1.45" ry="1.20" fill="#2f3284"/>
<ellipse cx="486.0" cy="896.1" rx="1.45" ry="1.20" fill="#2f3284"/>
<ellipse cx="488.0" cy="900.5" rx="1.45" ry="1.20" fill="#2f3284"/>
<ellipse cx="483.2" cy="923.4" rx="1.45" ry="1.20" fill="#2f3284"/>
<ellipse cx="490.5" cy="923.4" rx="1.45" ry="1.20" fill="#2f3284"/>
<ellipse cx="492.5" cy="923.4" rx="1.45" ry="1.20" fill="#2f3284"/>
<ellipse cx="498.1" cy="923.4" rx="1.45" ry="1.20" fill="#2f3284"/>
<ellipse cx="501.8" cy="923.4" rx="1.45" ry="1.20" fill="#2f3284"/>
<ellipse cx="503.7" cy="923.4" rx="1.45" ry="1.20" fill="#2f3284"/>
<path d="M497.6,822.1 L501.1,828.1 L494.2,828.1 Z" fill="none" stroke="#2f3284" stroke-width="0.95" stroke-linejoin="miter"/>
<path d="M489.3,877.9 L492.8,883.9 L485.9,883.9 Z" fill="none" stroke="#2f3284" stroke-width="0.95" stroke-linejoin="miter"/>
<line x1="556.10" y1="848.30" x2="556.10" y2="861.10" stroke="#2f3284" stroke-width="1.0" />
<rect x="543.40" y="861.10" width="24.00" height="62.90" fill="none" stroke="#2f3284" stroke-width="1.0"/>
<line x1="543.40" y1="880.00" x2="567.40" y2="880.00" stroke="#2f3284" stroke-width="1.4" />
<ellipse cx="552.9" cy="848.0" rx="1.45" ry="1.20" fill="#2f3284"/>
<ellipse cx="543.8" cy="858.3" rx="1.45" ry="1.20" fill="#2f3284"/>
<ellipse cx="549.7" cy="858.3" rx="1.45" ry="1.20" fill="#2f3284"/>
<ellipse cx="567.0" cy="863.0" rx="1.45" ry="1.20" fill="#2f3284"/>
<ellipse cx="562.5" cy="878.3" rx="1.45" ry="1.20" fill="#2f3284"/>
<ellipse cx="546.8" cy="924.0" rx="1.45" ry="1.20" fill="#2f3284"/>
<ellipse cx="548.3" cy="924.0" rx="1.45" ry="1.20" fill="#2f3284"/>
<ellipse cx="557.8" cy="924.0" rx="1.45" ry="1.20" fill="#2f3284"/>
<ellipse cx="562.5" cy="924.0" rx="1.45" ry="1.20" fill="#2f3284"/>
</svg></body></html>
